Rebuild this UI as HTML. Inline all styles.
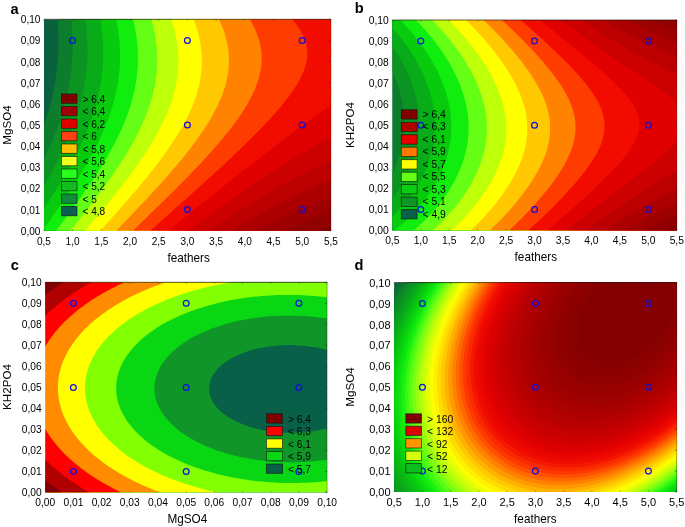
<!DOCTYPE html>
<html><head><meta charset="utf-8"><title>Contour plots</title>
<style>html,body{margin:0;padding:0;background:#fff;}body{width:685px;height:527px;overflow:hidden;font-family:"Liberation Sans",sans-serif;}svg{display:block;will-change:transform;}</style>
</head><body>
<svg width="685" height="527" viewBox="0 0 685 527">
<rect width="685" height="527" fill="#fff"/>
<clipPath id="cpa"><rect x="43.9" y="19.3" width="287.0" height="211.39999999999998"/></clipPath>
<g clip-path="url(#cpa)" shape-rendering="geometricPrecision">
<rect x="43.9" y="19.3" width="287.0" height="211.39999999999998" fill="#08623e"/>
<path d="M43.9 230.7L48.1 230.7L52.2 230.7L56.4 230.7L60.5 230.7L64.7 230.7L68.9 230.7L73 230.7L77.2 230.7L81.3 230.7L85.5 230.7L89.7 230.7L93.8 230.7L98 230.7L102.1 230.7L106.3 230.7L110.5 230.7L114.6 230.7L118.8 230.7L122.9 230.7L127.1 230.7L131.2 230.7L135.4 230.7L139.6 230.7L143.7 230.7L147.9 230.7L152 230.7L156.2 230.7L160.4 230.7L164.5 230.7L168.7 230.7L172.8 230.7L177 230.7L181.2 230.7L185.3 230.7L189.5 230.7L193.6 230.7L197.8 230.7L202 230.7L206.1 230.7L210.3 230.7L214.4 230.7L218.6 230.7L222.8 230.7L226.9 230.7L231.1 230.7L235.2 230.7L239.4 230.7L243.6 230.7L247.7 230.7L251.9 230.7L256 230.7L260.2 230.7L264.3 230.7L268.5 230.7L272.7 230.7L276.8 230.7L281 230.7L285.1 230.7L289.3 230.7L293.5 230.7L297.6 230.7L301.8 230.7L305.9 230.7L310.1 230.7L314.3 230.7L318.4 230.7L322.6 230.7L326.7 230.7L330.9 230.7L330.9 226.9L330.9 223L330.9 219.2L330.9 215.3L330.9 211.5L330.9 207.6L330.9 203.8L330.9 200L330.9 196.1L330.9 192.3L330.9 188.4L330.9 184.6L330.9 180.7L330.9 176.9L330.9 173L330.9 169.2L330.9 165.4L330.9 161.5L330.9 157.7L330.9 153.8L330.9 150L330.9 146.1L330.9 142.3L330.9 138.5L330.9 134.6L330.9 130.8L330.9 126.9L330.9 123.1L330.9 119.2L330.9 115.4L330.9 111.5L330.9 107.7L330.9 103.9L330.9 100L330.9 96.2L330.9 92.3L330.9 88.5L330.9 84.6L330.9 80.8L330.9 77L330.9 73.1L330.9 69.3L330.9 65.4L330.9 61.6L330.9 57.7L330.9 53.9L330.9 50L330.9 46.2L330.9 42.4L330.9 38.5L330.9 34.7L330.9 30.8L330.9 27L330.9 23.1L330.9 19.3L326.7 19.3L322.6 19.3L318.4 19.3L314.3 19.3L310.1 19.3L305.9 19.3L301.8 19.3L297.6 19.3L293.5 19.3L289.3 19.3L285.1 19.3L281 19.3L276.8 19.3L272.7 19.3L268.5 19.3L264.3 19.3L260.2 19.3L256 19.3L251.9 19.3L247.7 19.3L243.6 19.3L239.4 19.3L235.2 19.3L231.1 19.3L226.9 19.3L222.8 19.3L218.6 19.3L214.4 19.3L210.3 19.3L206.1 19.3L202 19.3L197.8 19.3L193.6 19.3L189.5 19.3L185.3 19.3L181.2 19.3L177 19.3L172.8 19.3L168.7 19.3L164.5 19.3L160.4 19.3L156.2 19.3L152 19.3L147.9 19.3L143.7 19.3L139.6 19.3L135.4 19.3L131.2 19.3L127.1 19.3L122.9 19.3L118.8 19.3L114.6 19.3L110.5 19.3L106.3 19.3L102.1 19.3L98 19.3L93.8 19.3L89.7 19.3L85.5 19.3L81.3 19.3L77.2 19.3L73 19.3L68.9 19.3L64.7 19.3L60.5 19.3L57.5 19.3L57.8 23.1L58.1 27L58.3 30.8L58.4 34.7L58.5 38.5L58.5 42.4L58.5 46.2L58.4 50L58.2 53.9L58 57.7L57.7 61.6L57.4 65.4L57 69.3L56.5 73.1L56.4 74L56 77L55.4 80.8L54.7 84.6L54 88.5L53.2 92.3L52.3 96.2L52.2 96.7L51.4 100L50.5 103.9L49.4 107.7L48.3 111.5L48.1 112.4L47.2 115.4L45.9 119.2L44.7 123.1L43.9 125.3L43.9 126.9L43.9 130.8L43.9 134.6L43.9 138.5L43.9 142.3L43.9 146.1L43.9 150L43.9 153.8L43.9 157.7L43.9 161.5L43.9 165.4L43.9 169.2L43.9 173L43.9 176.9L43.9 180.7L43.9 184.6L43.9 188.4L43.9 192.3L43.9 196.1L43.9 200L43.9 203.8L43.9 207.6L43.9 211.5L43.9 215.3L43.9 219.2L43.9 223L43.9 226.9L43.9 230.7Z" fill="#0c7d2d"/>
<path d="M43.9 230.7L48.1 230.7L52.2 230.7L56.4 230.7L60.5 230.7L64.7 230.7L68.9 230.7L73 230.7L77.2 230.7L81.3 230.7L85.5 230.7L89.7 230.7L93.8 230.7L98 230.7L102.1 230.7L106.3 230.7L110.5 230.7L114.6 230.7L118.8 230.7L122.9 230.7L127.1 230.7L131.2 230.7L135.4 230.7L139.6 230.7L143.7 230.7L147.9 230.7L152 230.7L156.2 230.7L160.4 230.7L164.5 230.7L168.7 230.7L172.8 230.7L177 230.7L181.2 230.7L185.3 230.7L189.5 230.7L193.6 230.7L197.8 230.7L202 230.7L206.1 230.7L210.3 230.7L214.4 230.7L218.6 230.7L222.8 230.7L226.9 230.7L231.1 230.7L235.2 230.7L239.4 230.7L243.6 230.7L247.7 230.7L251.9 230.7L256 230.7L260.2 230.7L264.3 230.7L268.5 230.7L272.7 230.7L276.8 230.7L281 230.7L285.1 230.7L289.3 230.7L293.5 230.7L297.6 230.7L301.8 230.7L305.9 230.7L310.1 230.7L314.3 230.7L318.4 230.7L322.6 230.7L326.7 230.7L330.9 230.7L330.9 226.9L330.9 223L330.9 219.2L330.9 215.3L330.9 211.5L330.9 207.6L330.9 203.8L330.9 200L330.9 196.1L330.9 192.3L330.9 188.4L330.9 184.6L330.9 180.7L330.9 176.9L330.9 173L330.9 169.2L330.9 165.4L330.9 161.5L330.9 157.7L330.9 153.8L330.9 150L330.9 146.1L330.9 142.3L330.9 138.5L330.9 134.6L330.9 130.8L330.9 126.9L330.9 123.1L330.9 119.2L330.9 115.4L330.9 111.5L330.9 107.7L330.9 103.9L330.9 100L330.9 96.2L330.9 92.3L330.9 88.5L330.9 84.6L330.9 80.8L330.9 77L330.9 73.1L330.9 69.3L330.9 65.4L330.9 61.6L330.9 57.7L330.9 53.9L330.9 50L330.9 46.2L330.9 42.4L330.9 38.5L330.9 34.7L330.9 30.8L330.9 27L330.9 23.1L330.9 19.3L326.7 19.3L322.6 19.3L318.4 19.3L314.3 19.3L310.1 19.3L305.9 19.3L301.8 19.3L297.6 19.3L293.5 19.3L289.3 19.3L285.1 19.3L281 19.3L276.8 19.3L272.7 19.3L268.5 19.3L264.3 19.3L260.2 19.3L256 19.3L251.9 19.3L247.7 19.3L243.6 19.3L239.4 19.3L235.2 19.3L231.1 19.3L226.9 19.3L222.8 19.3L218.6 19.3L214.4 19.3L210.3 19.3L206.1 19.3L202 19.3L197.8 19.3L193.6 19.3L189.5 19.3L185.3 19.3L181.2 19.3L177 19.3L172.8 19.3L168.7 19.3L164.5 19.3L160.4 19.3L156.2 19.3L152 19.3L147.9 19.3L143.7 19.3L139.6 19.3L135.4 19.3L131.2 19.3L127.1 19.3L122.9 19.3L118.8 19.3L114.6 19.3L110.5 19.3L106.3 19.3L102.1 19.3L98 19.3L93.8 19.3L89.7 19.3L85.5 19.3L81.3 19.3L77.2 19.3L73 19.3L71.1 19.3L71.5 23.1L71.9 27L72.1 30.8L72.4 34.7L72.5 38.5L72.6 42.4L72.6 46.2L72.6 50L72.5 53.9L72.4 57.7L72.1 61.6L71.8 65.4L71.5 69.3L71 73.1L70.5 77L69.9 80.8L69.3 84.6L68.9 87L68.6 88.5L67.8 92.3L67 96.2L66 100L65.1 103.9L64.7 105.2L64 107.7L62.9 111.5L61.7 115.4L60.5 119L60.5 119.2L59.2 123.1L57.8 126.9L56.4 130.7L56.4 130.8L54.9 134.6L53.3 138.5L52.2 141.1L51.7 142.3L50.1 146.1L48.4 150L48.1 150.6L46.6 153.8L44.8 157.7L43.9 159.5L43.9 161.5L43.9 165.4L43.9 169.2L43.9 173L43.9 176.9L43.9 180.7L43.9 184.6L43.9 188.4L43.9 192.3L43.9 196.1L43.9 200L43.9 203.8L43.9 207.6L43.9 211.5L43.9 215.3L43.9 219.2L43.9 223L43.9 226.9L43.9 230.7Z" fill="#0c9422"/>
<path d="M43.9 230.7L48.1 230.7L52.2 230.7L56.4 230.7L60.5 230.7L64.7 230.7L68.9 230.7L73 230.7L77.2 230.7L81.3 230.7L85.5 230.7L89.7 230.7L93.8 230.7L98 230.7L102.1 230.7L106.3 230.7L110.5 230.7L114.6 230.7L118.8 230.7L122.9 230.7L127.1 230.7L131.2 230.7L135.4 230.7L139.6 230.7L143.7 230.7L147.9 230.7L152 230.7L156.2 230.7L160.4 230.7L164.5 230.7L168.7 230.7L172.8 230.7L177 230.7L181.2 230.7L185.3 230.7L189.5 230.7L193.6 230.7L197.8 230.7L202 230.7L206.1 230.7L210.3 230.7L214.4 230.7L218.6 230.7L222.8 230.7L226.9 230.7L231.1 230.7L235.2 230.7L239.4 230.7L243.6 230.7L247.7 230.7L251.9 230.7L256 230.7L260.2 230.7L264.3 230.7L268.5 230.7L272.7 230.7L276.8 230.7L281 230.7L285.1 230.7L289.3 230.7L293.5 230.7L297.6 230.7L301.8 230.7L305.9 230.7L310.1 230.7L314.3 230.7L318.4 230.7L322.6 230.7L326.7 230.7L330.9 230.7L330.9 226.9L330.9 223L330.9 219.2L330.9 215.3L330.9 211.5L330.9 207.6L330.9 203.8L330.9 200L330.9 196.1L330.9 192.3L330.9 188.4L330.9 184.6L330.9 180.7L330.9 176.9L330.9 173L330.9 169.2L330.9 165.4L330.9 161.5L330.9 157.7L330.9 153.8L330.9 150L330.9 146.1L330.9 142.3L330.9 138.5L330.9 134.6L330.9 130.8L330.9 126.9L330.9 123.1L330.9 119.2L330.9 115.4L330.9 111.5L330.9 107.7L330.9 103.9L330.9 100L330.9 96.2L330.9 92.3L330.9 88.5L330.9 84.6L330.9 80.8L330.9 77L330.9 73.1L330.9 69.3L330.9 65.4L330.9 61.6L330.9 57.7L330.9 53.9L330.9 50L330.9 46.2L330.9 42.4L330.9 38.5L330.9 34.7L330.9 30.8L330.9 27L330.9 23.1L330.9 19.3L326.7 19.3L322.6 19.3L318.4 19.3L314.3 19.3L310.1 19.3L305.9 19.3L301.8 19.3L297.6 19.3L293.5 19.3L289.3 19.3L285.1 19.3L281 19.3L276.8 19.3L272.7 19.3L268.5 19.3L264.3 19.3L260.2 19.3L256 19.3L251.9 19.3L247.7 19.3L243.6 19.3L239.4 19.3L235.2 19.3L231.1 19.3L226.9 19.3L222.8 19.3L218.6 19.3L214.4 19.3L210.3 19.3L206.1 19.3L202 19.3L197.8 19.3L193.6 19.3L189.5 19.3L185.3 19.3L181.2 19.3L177 19.3L172.8 19.3L168.7 19.3L164.5 19.3L160.4 19.3L156.2 19.3L152 19.3L147.9 19.3L143.7 19.3L139.6 19.3L135.4 19.3L131.2 19.3L127.1 19.3L122.9 19.3L118.8 19.3L114.6 19.3L110.5 19.3L106.3 19.3L102.1 19.3L98 19.3L93.8 19.3L89.7 19.3L85.5 19.3L85.3 19.3L85.5 20.5L85.8 23.1L86.3 27L86.7 30.8L87 34.7L87.2 38.5L87.4 42.4L87.5 46.2L87.5 50L87.5 53.9L87.4 57.7L87.2 61.6L87 65.4L86.6 69.3L86.2 73.1L85.7 77L85.5 78.6L85.2 80.8L84.6 84.6L83.9 88.5L83.1 92.3L82.2 96.2L81.3 99.9L81.3 100L80.3 103.9L79.2 107.7L78.1 111.5L77.2 114.4L76.9 115.4L75.6 119.2L74.3 123.1L73 126.4L72.8 126.9L71.4 130.8L69.8 134.6L68.9 136.9L68.2 138.5L66.6 142.3L64.8 146.1L64.7 146.4L63.1 150L61.2 153.8L60.5 155.2L59.3 157.7L57.4 161.5L56.4 163.5L55.4 165.4L53.4 169.2L52.2 171.3L51.3 173L49.2 176.9L48.1 178.8L47 180.7L44.8 184.6L43.9 186.1L43.9 188.4L43.9 192.3L43.9 196.1L43.9 200L43.9 203.8L43.9 207.6L43.9 211.5L43.9 215.3L43.9 219.2L43.9 223L43.9 226.9L43.9 230.7Z" fill="#08ac18"/>
<path d="M43.9 230.7L48.1 230.7L52.2 230.7L56.4 230.7L60.5 230.7L64.7 230.7L68.9 230.7L73 230.7L77.2 230.7L81.3 230.7L85.5 230.7L89.7 230.7L93.8 230.7L98 230.7L102.1 230.7L106.3 230.7L110.5 230.7L114.6 230.7L118.8 230.7L122.9 230.7L127.1 230.7L131.2 230.7L135.4 230.7L139.6 230.7L143.7 230.7L147.9 230.7L152 230.7L156.2 230.7L160.4 230.7L164.5 230.7L168.7 230.7L172.8 230.7L177 230.7L181.2 230.7L185.3 230.7L189.5 230.7L193.6 230.7L197.8 230.7L202 230.7L206.1 230.7L210.3 230.7L214.4 230.7L218.6 230.7L222.8 230.7L226.9 230.7L231.1 230.7L235.2 230.7L239.4 230.7L243.6 230.7L247.7 230.7L251.9 230.7L256 230.7L260.2 230.7L264.3 230.7L268.5 230.7L272.7 230.7L276.8 230.7L281 230.7L285.1 230.7L289.3 230.7L293.5 230.7L297.6 230.7L301.8 230.7L305.9 230.7L310.1 230.7L314.3 230.7L318.4 230.7L322.6 230.7L326.7 230.7L330.9 230.7L330.9 226.9L330.9 223L330.9 219.2L330.9 215.3L330.9 211.5L330.9 207.6L330.9 203.8L330.9 200L330.9 196.1L330.9 192.3L330.9 188.4L330.9 184.6L330.9 180.7L330.9 176.9L330.9 173L330.9 169.2L330.9 165.4L330.9 161.5L330.9 157.7L330.9 153.8L330.9 150L330.9 146.1L330.9 142.3L330.9 138.5L330.9 134.6L330.9 130.8L330.9 126.9L330.9 123.1L330.9 119.2L330.9 115.4L330.9 111.5L330.9 107.7L330.9 103.9L330.9 100L330.9 96.2L330.9 92.3L330.9 88.5L330.9 84.6L330.9 80.8L330.9 77L330.9 73.1L330.9 69.3L330.9 65.4L330.9 61.6L330.9 57.7L330.9 53.9L330.9 50L330.9 46.2L330.9 42.4L330.9 38.5L330.9 34.7L330.9 30.8L330.9 27L330.9 23.1L330.9 19.3L326.7 19.3L322.6 19.3L318.4 19.3L314.3 19.3L310.1 19.3L305.9 19.3L301.8 19.3L297.6 19.3L293.5 19.3L289.3 19.3L285.1 19.3L281 19.3L276.8 19.3L272.7 19.3L268.5 19.3L264.3 19.3L260.2 19.3L256 19.3L251.9 19.3L247.7 19.3L243.6 19.3L239.4 19.3L235.2 19.3L231.1 19.3L226.9 19.3L222.8 19.3L218.6 19.3L214.4 19.3L210.3 19.3L206.1 19.3L202 19.3L197.8 19.3L193.6 19.3L189.5 19.3L185.3 19.3L181.2 19.3L177 19.3L172.8 19.3L168.7 19.3L164.5 19.3L160.4 19.3L156.2 19.3L152 19.3L147.9 19.3L143.7 19.3L139.6 19.3L135.4 19.3L131.2 19.3L127.1 19.3L122.9 19.3L118.8 19.3L114.6 19.3L110.5 19.3L106.3 19.3L102.1 19.3L100.3 19.3L100.9 23.1L101.5 27L102 30.8L102.1 32.4L102.4 34.7L102.7 38.5L103 42.4L103.1 46.2L103.3 50L103.3 53.9L103.2 57.7L103.1 61.6L102.9 65.4L102.6 69.3L102.2 73.1L102.1 73.8L101.8 77L101.2 80.8L100.6 84.6L99.9 88.5L99.1 92.3L98.2 96.2L98 97.3L97.3 100L96.3 103.9L95.2 107.7L94 111.5L93.8 112.2L92.8 115.4L91.4 119.2L90 123.1L89.7 124.1L88.6 126.9L87 130.8L85.5 134.4L85.4 134.6L83.7 138.5L82 142.3L81.3 143.7L80.2 146.1L78.3 150L77.2 152.3L76.4 153.8L74.4 157.7L73 160.4L72.4 161.5L70.3 165.4L68.9 168L68.2 169.2L66 173L64.7 175.3L63.8 176.9L61.5 180.7L60.5 182.3L59.2 184.6L56.8 188.4L56.4 189.2L54.5 192.3L52.2 195.8L52 196.1L49.6 200L48.1 202.3L47.1 203.8L44.6 207.6L43.9 208.6L43.9 211.5L43.9 215.3L43.9 219.2L43.9 223L43.9 226.9L43.9 230.7Z" fill="#08cb0e"/>
<path d="M43.9 230.7L48.1 230.7L52.2 230.7L56.4 230.7L60.5 230.7L64.7 230.7L68.9 230.7L73 230.7L77.2 230.7L81.3 230.7L85.5 230.7L89.7 230.7L93.8 230.7L98 230.7L102.1 230.7L106.3 230.7L110.5 230.7L114.6 230.7L118.8 230.7L122.9 230.7L127.1 230.7L131.2 230.7L135.4 230.7L139.6 230.7L143.7 230.7L147.9 230.7L152 230.7L156.2 230.7L160.4 230.7L164.5 230.7L168.7 230.7L172.8 230.7L177 230.7L181.2 230.7L185.3 230.7L189.5 230.7L193.6 230.7L197.8 230.7L202 230.7L206.1 230.7L210.3 230.7L214.4 230.7L218.6 230.7L222.8 230.7L226.9 230.7L231.1 230.7L235.2 230.7L239.4 230.7L243.6 230.7L247.7 230.7L251.9 230.7L256 230.7L260.2 230.7L264.3 230.7L268.5 230.7L272.7 230.7L276.8 230.7L281 230.7L285.1 230.7L289.3 230.7L293.5 230.7L297.6 230.7L301.8 230.7L305.9 230.7L310.1 230.7L314.3 230.7L318.4 230.7L322.6 230.7L326.7 230.7L330.9 230.7L330.9 226.9L330.9 223L330.9 219.2L330.9 215.3L330.9 211.5L330.9 207.6L330.9 203.8L330.9 200L330.9 196.1L330.9 192.3L330.9 188.4L330.9 184.6L330.9 180.7L330.9 176.9L330.9 173L330.9 169.2L330.9 165.4L330.9 161.5L330.9 157.7L330.9 153.8L330.9 150L330.9 146.1L330.9 142.3L330.9 138.5L330.9 134.6L330.9 130.8L330.9 126.9L330.9 123.1L330.9 119.2L330.9 115.4L330.9 111.5L330.9 107.7L330.9 103.9L330.9 100L330.9 96.2L330.9 92.3L330.9 88.5L330.9 84.6L330.9 80.8L330.9 77L330.9 73.1L330.9 69.3L330.9 65.4L330.9 61.6L330.9 57.7L330.9 53.9L330.9 50L330.9 46.2L330.9 42.4L330.9 38.5L330.9 34.7L330.9 30.8L330.9 27L330.9 23.1L330.9 19.3L326.7 19.3L322.6 19.3L318.4 19.3L314.3 19.3L310.1 19.3L305.9 19.3L301.8 19.3L297.6 19.3L293.5 19.3L289.3 19.3L285.1 19.3L281 19.3L276.8 19.3L272.7 19.3L268.5 19.3L264.3 19.3L260.2 19.3L256 19.3L251.9 19.3L247.7 19.3L243.6 19.3L239.4 19.3L235.2 19.3L231.1 19.3L226.9 19.3L222.8 19.3L218.6 19.3L214.4 19.3L210.3 19.3L206.1 19.3L202 19.3L197.8 19.3L193.6 19.3L189.5 19.3L185.3 19.3L181.2 19.3L177 19.3L172.8 19.3L168.7 19.3L164.5 19.3L160.4 19.3L156.2 19.3L152 19.3L147.9 19.3L143.7 19.3L139.6 19.3L135.4 19.3L131.2 19.3L127.1 19.3L122.9 19.3L118.8 19.3L116.2 19.3L116.9 23.1L117.6 27L118.2 30.8L118.7 34.7L118.8 35.4L119.1 38.5L119.5 42.4L119.7 46.2L119.9 50L120 53.9L120 57.7L119.9 61.6L119.8 65.4L119.5 69.3L119.1 73.1L118.8 76.3L118.7 77L118.2 80.8L117.6 84.6L116.8 88.5L116 92.3L115.2 96.2L114.6 98.3L114.2 100L113.1 103.9L112 107.7L110.8 111.5L110.5 112.5L109.5 115.4L108.1 119.2L106.6 123.1L106.3 123.9L105.1 126.9L103.5 130.8L102.1 133.8L101.8 134.6L100 138.5L98.2 142.3L98 142.7L96.3 146.1L94.3 150L93.8 150.9L92.3 153.8L90.2 157.7L89.7 158.6L88.1 161.5L85.9 165.4L85.5 166L83.6 169.2L81.3 173L79 176.9L77.2 179.7L76.6 180.7L74.1 184.6L73 186.3L71.6 188.4L69.1 192.3L68.9 192.7L66.6 196.1L64.7 198.9L64 200L61.4 203.8L60.5 205L58.7 207.6L56.4 211L56 211.5L53.3 215.3L52.2 216.9L50.6 219.2L48.1 222.8L47.9 223L45.1 226.9L43.9 228.5L43.9 230.7Z" fill="#10ee0e"/>
<path d="M56.1 230.7L56.4 230.7L60.5 230.7L64.7 230.7L68.9 230.7L73 230.7L77.2 230.7L81.3 230.7L85.5 230.7L89.7 230.7L93.8 230.7L98 230.7L102.1 230.7L106.3 230.7L110.5 230.7L114.6 230.7L118.8 230.7L122.9 230.7L127.1 230.7L131.2 230.7L135.4 230.7L139.6 230.7L143.7 230.7L147.9 230.7L152 230.7L156.2 230.7L160.4 230.7L164.5 230.7L168.7 230.7L172.8 230.7L177 230.7L181.2 230.7L185.3 230.7L189.5 230.7L193.6 230.7L197.8 230.7L202 230.7L206.1 230.7L210.3 230.7L214.4 230.7L218.6 230.7L222.8 230.7L226.9 230.7L231.1 230.7L235.2 230.7L239.4 230.7L243.6 230.7L247.7 230.7L251.9 230.7L256 230.7L260.2 230.7L264.3 230.7L268.5 230.7L272.7 230.7L276.8 230.7L281 230.7L285.1 230.7L289.3 230.7L293.5 230.7L297.6 230.7L301.8 230.7L305.9 230.7L310.1 230.7L314.3 230.7L318.4 230.7L322.6 230.7L326.7 230.7L330.9 230.7L330.9 226.9L330.9 223L330.9 219.2L330.9 215.3L330.9 211.5L330.9 207.6L330.9 203.8L330.9 200L330.9 196.1L330.9 192.3L330.9 188.4L330.9 184.6L330.9 180.7L330.9 176.9L330.9 173L330.9 169.2L330.9 165.4L330.9 161.5L330.9 157.7L330.9 153.8L330.9 150L330.9 146.1L330.9 142.3L330.9 138.5L330.9 134.6L330.9 130.8L330.9 126.9L330.9 123.1L330.9 119.2L330.9 115.4L330.9 111.5L330.9 107.7L330.9 103.9L330.9 100L330.9 96.2L330.9 92.3L330.9 88.5L330.9 84.6L330.9 80.8L330.9 77L330.9 73.1L330.9 69.3L330.9 65.4L330.9 61.6L330.9 57.7L330.9 53.9L330.9 50L330.9 46.2L330.9 42.4L330.9 38.5L330.9 34.7L330.9 30.8L330.9 27L330.9 23.1L330.9 19.3L326.7 19.3L322.6 19.3L318.4 19.3L314.3 19.3L310.1 19.3L305.9 19.3L301.8 19.3L297.6 19.3L293.5 19.3L289.3 19.3L285.1 19.3L281 19.3L276.8 19.3L272.7 19.3L268.5 19.3L264.3 19.3L260.2 19.3L256 19.3L251.9 19.3L247.7 19.3L243.6 19.3L239.4 19.3L235.2 19.3L231.1 19.3L226.9 19.3L222.8 19.3L218.6 19.3L214.4 19.3L210.3 19.3L206.1 19.3L202 19.3L197.8 19.3L193.6 19.3L189.5 19.3L185.3 19.3L181.2 19.3L177 19.3L172.8 19.3L168.7 19.3L164.5 19.3L160.4 19.3L156.2 19.3L152 19.3L147.9 19.3L143.7 19.3L139.6 19.3L135.4 19.3L133.2 19.3L134 23.1L134.8 27L135.4 30.3L135.5 30.8L136.1 34.7L136.7 38.5L137.1 42.4L137.5 46.2L137.7 50L137.9 53.9L137.9 57.7L137.9 61.6L137.8 65.4L137.5 69.3L137.2 73.1L136.8 77L136.2 80.8L135.6 84.6L135.4 85.6L134.9 88.5L134 92.3L133.1 96.2L132.1 100L131.2 103L131 103.9L129.8 107.7L128.5 111.5L127.1 115.4L127.1 115.5L125.7 119.2L124.1 123.1L122.9 125.8L122.5 126.9L120.8 130.8L119 134.6L118.8 135L117.1 138.5L115.2 142.3L114.6 143.3L113.1 146.1L111.1 150L110.5 151.1L108.9 153.8L106.7 157.7L106.3 158.3L104.4 161.5L102.1 165.3L102.1 165.4L99.7 169.2L98 171.9L97.3 173L94.8 176.9L93.8 178.3L92.2 180.7L89.7 184.6L87 188.4L85.5 190.6L84.4 192.3L81.7 196.1L81.3 196.6L78.9 200L77.2 202.4L76.2 203.8L73.4 207.6L73 208.1L70.6 211.5L68.9 213.8L67.7 215.3L64.8 219.2L64.7 219.3L61.9 223L60.5 224.9L59 226.9L56.4 230.3L56.1 230.7Z" fill="#64ff14"/>
<path d="M70.3 230.7L73 230.7L77.2 230.7L81.3 230.7L85.5 230.7L89.7 230.7L93.8 230.7L98 230.7L102.1 230.7L106.3 230.7L110.5 230.7L114.6 230.7L118.8 230.7L122.9 230.7L127.1 230.7L131.2 230.7L135.4 230.7L139.6 230.7L143.7 230.7L147.9 230.7L152 230.7L156.2 230.7L160.4 230.7L164.5 230.7L168.7 230.7L172.8 230.7L177 230.7L181.2 230.7L185.3 230.7L189.5 230.7L193.6 230.7L197.8 230.7L202 230.7L206.1 230.7L210.3 230.7L214.4 230.7L218.6 230.7L222.8 230.7L226.9 230.7L231.1 230.7L235.2 230.7L239.4 230.7L243.6 230.7L247.7 230.7L251.9 230.7L256 230.7L260.2 230.7L264.3 230.7L268.5 230.7L272.7 230.7L276.8 230.7L281 230.7L285.1 230.7L289.3 230.7L293.5 230.7L297.6 230.7L301.8 230.7L305.9 230.7L310.1 230.7L314.3 230.7L318.4 230.7L322.6 230.7L326.7 230.7L330.9 230.7L330.9 226.9L330.9 223L330.9 219.2L330.9 215.3L330.9 211.5L330.9 207.6L330.9 203.8L330.9 200L330.9 196.1L330.9 192.3L330.9 188.4L330.9 184.6L330.9 180.7L330.9 176.9L330.9 173L330.9 169.2L330.9 165.4L330.9 161.5L330.9 157.7L330.9 153.8L330.9 150L330.9 146.1L330.9 142.3L330.9 138.5L330.9 134.6L330.9 130.8L330.9 126.9L330.9 123.1L330.9 119.2L330.9 115.4L330.9 111.5L330.9 107.7L330.9 103.9L330.9 100L330.9 96.2L330.9 92.3L330.9 88.5L330.9 84.6L330.9 80.8L330.9 77L330.9 73.1L330.9 69.3L330.9 65.4L330.9 61.6L330.9 57.7L330.9 53.9L330.9 50L330.9 46.2L330.9 42.4L330.9 38.5L330.9 34.7L330.9 30.8L330.9 27L330.9 23.1L330.9 19.3L326.7 19.3L322.6 19.3L318.4 19.3L314.3 19.3L310.1 19.3L305.9 19.3L301.8 19.3L297.6 19.3L293.5 19.3L289.3 19.3L285.1 19.3L281 19.3L276.8 19.3L272.7 19.3L268.5 19.3L264.3 19.3L260.2 19.3L256 19.3L251.9 19.3L247.7 19.3L243.6 19.3L239.4 19.3L235.2 19.3L231.1 19.3L226.9 19.3L222.8 19.3L218.6 19.3L214.4 19.3L210.3 19.3L206.1 19.3L202 19.3L197.8 19.3L193.6 19.3L189.5 19.3L185.3 19.3L181.2 19.3L177 19.3L172.8 19.3L168.7 19.3L164.5 19.3L160.4 19.3L156.2 19.3L152 19.3L151.4 19.3L152 21.7L152.4 23.1L153.4 27L154.2 30.8L155 34.7L155.6 38.5L156.1 42.4L156.2 43L156.6 46.2L156.9 50L157.1 53.9L157.2 57.7L157.2 61.6L157.1 65.4L156.9 69.3L156.6 73.1L156.2 76.5L156.2 77L155.6 80.8L155 84.6L154.2 88.5L153.3 92.3L152.3 96.2L152 97.2L151.3 100L150.1 103.9L148.8 107.7L147.9 110.2L147.4 111.5L145.9 115.4L144.4 119.2L143.7 120.7L142.7 123.1L140.9 126.9L139.6 129.8L139.1 130.8L137.2 134.6L135.4 138L135.2 138.5L133.1 142.3L131.2 145.6L130.9 146.1L128.7 150L127.1 152.7L126.4 153.8L124 157.7L122.9 159.4L121.6 161.5L119.1 165.4L118.8 165.9L116.6 169.2L114.6 172.1L114 173L111.3 176.9L110.5 178.1L108.6 180.7L106.3 184L105.9 184.6L103.1 188.4L102.1 189.7L100.3 192.3L98 195.3L97.4 196.1L94.5 200L93.8 200.8L91.6 203.8L89.7 206.2L88.6 207.6L85.6 211.5L85.5 211.6L82.6 215.3L81.3 216.9L79.5 219.2L77.2 222.1L76.5 223L73.4 226.9L73 227.3L70.3 230.7Z" fill="#beff0a"/>
<path d="M85 230.7L85.5 230.7L89.7 230.7L93.8 230.7L98 230.7L102.1 230.7L106.3 230.7L110.5 230.7L114.6 230.7L118.8 230.7L122.9 230.7L127.1 230.7L131.2 230.7L135.4 230.7L139.6 230.7L143.7 230.7L147.9 230.7L152 230.7L156.2 230.7L160.4 230.7L164.5 230.7L168.7 230.7L172.8 230.7L177 230.7L181.2 230.7L185.3 230.7L189.5 230.7L193.6 230.7L197.8 230.7L202 230.7L206.1 230.7L210.3 230.7L214.4 230.7L218.6 230.7L222.8 230.7L226.9 230.7L231.1 230.7L235.2 230.7L239.4 230.7L243.6 230.7L247.7 230.7L251.9 230.7L256 230.7L260.2 230.7L264.3 230.7L268.5 230.7L272.7 230.7L276.8 230.7L281 230.7L285.1 230.7L289.3 230.7L293.5 230.7L297.6 230.7L301.8 230.7L305.9 230.7L310.1 230.7L314.3 230.7L318.4 230.7L322.6 230.7L326.7 230.7L330.9 230.7L330.9 226.9L330.9 223L330.9 219.2L330.9 215.3L330.9 211.5L330.9 207.6L330.9 203.8L330.9 200L330.9 196.1L330.9 192.3L330.9 188.4L330.9 184.6L330.9 180.7L330.9 176.9L330.9 173L330.9 169.2L330.9 165.4L330.9 161.5L330.9 157.7L330.9 153.8L330.9 150L330.9 146.1L330.9 142.3L330.9 138.5L330.9 134.6L330.9 130.8L330.9 126.9L330.9 123.1L330.9 119.2L330.9 115.4L330.9 111.5L330.9 107.7L330.9 103.9L330.9 100L330.9 96.2L330.9 92.3L330.9 88.5L330.9 84.6L330.9 80.8L330.9 77L330.9 73.1L330.9 69.3L330.9 65.4L330.9 61.6L330.9 57.7L330.9 53.9L330.9 50L330.9 46.2L330.9 42.4L330.9 38.5L330.9 34.7L330.9 30.8L330.9 27L330.9 23.1L330.9 19.3L326.7 19.3L322.6 19.3L318.4 19.3L314.3 19.3L310.1 19.3L305.9 19.3L301.8 19.3L297.6 19.3L293.5 19.3L289.3 19.3L285.1 19.3L281 19.3L276.8 19.3L272.7 19.3L268.5 19.3L264.3 19.3L260.2 19.3L256 19.3L251.9 19.3L247.7 19.3L243.6 19.3L239.4 19.3L235.2 19.3L231.1 19.3L226.9 19.3L222.8 19.3L218.6 19.3L214.4 19.3L210.3 19.3L206.1 19.3L202 19.3L197.8 19.3L193.6 19.3L189.5 19.3L185.3 19.3L181.2 19.3L177 19.3L172.8 19.3L171.4 19.3L172.6 23.1L172.8 24.1L173.7 27L174.7 30.8L175.5 34.7L176.3 38.5L177 42.4L177 42.7L177.5 46.2L177.9 50L178.2 53.9L178.4 57.7L178.4 61.6L178.3 65.4L178.1 69.3L177.8 73.1L177.3 77L177 78.8L176.7 80.8L176 84.6L175.2 88.5L174.2 92.3L173.2 96.2L172.8 97.2L172 100L170.7 103.9L169.3 107.7L168.7 109.2L167.8 111.5L166.2 115.4L164.5 119L164.4 119.2L162.6 123.1L160.7 126.9L160.4 127.6L158.7 130.8L156.6 134.6L156.2 135.3L154.4 138.5L152.2 142.3L152 142.5L149.8 146.1L147.9 149.3L147.4 150L145 153.8L143.7 155.7L142.4 157.7L139.8 161.5L139.6 161.8L137.1 165.4L135.4 167.7L134.4 169.2L131.6 173L131.2 173.5L128.7 176.9L127.1 179L125.8 180.7L122.9 184.5L122.9 184.6L119.9 188.4L118.8 189.8L116.9 192.3L114.6 195.1L113.8 196.1L110.7 200L110.5 200.3L107.6 203.8L106.3 205.4L104.4 207.6L102.1 210.4L101.2 211.5L98 215.3L98 215.4L94.8 219.2L93.8 220.3L91.6 223L89.7 225.3L88.3 226.9L85.5 230.1L85 230.7Z" fill="#ffff00"/>
<path d="M100.3 230.7L102.1 230.7L106.3 230.7L110.5 230.7L114.6 230.7L118.8 230.7L122.9 230.7L127.1 230.7L131.2 230.7L135.4 230.7L139.6 230.7L143.7 230.7L147.9 230.7L152 230.7L156.2 230.7L160.4 230.7L164.5 230.7L168.7 230.7L172.8 230.7L177 230.7L181.2 230.7L185.3 230.7L189.5 230.7L193.6 230.7L197.8 230.7L202 230.7L206.1 230.7L210.3 230.7L214.4 230.7L218.6 230.7L222.8 230.7L226.9 230.7L231.1 230.7L235.2 230.7L239.4 230.7L243.6 230.7L247.7 230.7L251.9 230.7L256 230.7L260.2 230.7L264.3 230.7L268.5 230.7L272.7 230.7L276.8 230.7L281 230.7L285.1 230.7L289.3 230.7L293.5 230.7L297.6 230.7L301.8 230.7L305.9 230.7L310.1 230.7L314.3 230.7L318.4 230.7L322.6 230.7L326.7 230.7L330.9 230.7L330.9 226.9L330.9 223L330.9 219.2L330.9 215.3L330.9 211.5L330.9 207.6L330.9 203.8L330.9 200L330.9 196.1L330.9 192.3L330.9 188.4L330.9 184.6L330.9 180.7L330.9 176.9L330.9 173L330.9 169.2L330.9 165.4L330.9 161.5L330.9 157.7L330.9 153.8L330.9 150L330.9 146.1L330.9 142.3L330.9 138.5L330.9 134.6L330.9 130.8L330.9 126.9L330.9 123.1L330.9 119.2L330.9 115.4L330.9 111.5L330.9 107.7L330.9 103.9L330.9 100L330.9 96.2L330.9 92.3L330.9 88.5L330.9 84.6L330.9 80.8L330.9 77L330.9 73.1L330.9 69.3L330.9 65.4L330.9 61.6L330.9 57.7L330.9 53.9L330.9 50L330.9 46.2L330.9 42.4L330.9 38.5L330.9 34.7L330.9 30.8L330.9 27L330.9 23.1L330.9 19.3L326.7 19.3L322.6 19.3L318.4 19.3L314.3 19.3L310.1 19.3L305.9 19.3L301.8 19.3L297.6 19.3L293.5 19.3L289.3 19.3L285.1 19.3L281 19.3L276.8 19.3L272.7 19.3L268.5 19.3L264.3 19.3L260.2 19.3L256 19.3L251.9 19.3L247.7 19.3L243.6 19.3L239.4 19.3L235.2 19.3L231.1 19.3L226.9 19.3L222.8 19.3L218.6 19.3L214.4 19.3L210.3 19.3L206.1 19.3L202 19.3L197.8 19.3L193.6 19.3L193.6 19.5L195 23.1L196.3 27L197.5 30.8L197.8 32.1L198.5 34.7L199.4 38.5L200.2 42.4L200.8 46.2L201.3 50L201.7 53.9L201.9 57.7L201.9 61.6L201.8 65.4L201.6 69.3L201.2 73.1L200.7 77L200 80.8L199.2 84.6L198.3 88.5L197.8 90.3L197.2 92.3L196 96.2L194.7 100L193.6 102.8L193.2 103.9L191.7 107.7L190 111.5L189.5 112.6L188.2 115.4L186.2 119.2L185.3 121L184.2 123.1L182.1 126.9L181.2 128.5L179.9 130.8L177.6 134.6L177 135.5L175.2 138.5L172.8 142L172.7 142.3L170.1 146.1L168.7 148.2L167.5 150L164.7 153.8L164.5 154.1L161.9 157.7L160.4 159.8L159.1 161.5L156.2 165.3L156.2 165.4L153.2 169.2L152 170.7L150.2 173L147.9 175.9L147.1 176.9L144 180.7L143.7 181L140.8 184.6L139.6 186L137.6 188.4L135.4 191L134.3 192.3L131.2 195.8L131 196.1L127.7 200L127.1 200.7L124.4 203.8L122.9 205.4L121 207.6L118.8 210.1L117.6 211.5L114.6 214.8L114.2 215.3L110.7 219.2L110.5 219.5L107.3 223L106.3 224.1L103.8 226.9L102.1 228.7L100.3 230.7Z" fill="#ffc800"/>
<path d="M116.2 230.7L118.8 230.7L122.9 230.7L127.1 230.7L131.2 230.7L135.4 230.7L139.6 230.7L143.7 230.7L147.9 230.7L152 230.7L156.2 230.7L160.4 230.7L164.5 230.7L168.7 230.7L172.8 230.7L177 230.7L181.2 230.7L185.3 230.7L189.5 230.7L193.6 230.7L197.8 230.7L202 230.7L206.1 230.7L210.3 230.7L214.4 230.7L218.6 230.7L222.8 230.7L226.9 230.7L231.1 230.7L235.2 230.7L239.4 230.7L243.6 230.7L247.7 230.7L251.9 230.7L256 230.7L260.2 230.7L264.3 230.7L268.5 230.7L272.7 230.7L276.8 230.7L281 230.7L285.1 230.7L289.3 230.7L293.5 230.7L297.6 230.7L301.8 230.7L305.9 230.7L310.1 230.7L314.3 230.7L318.4 230.7L322.6 230.7L326.7 230.7L330.9 230.7L330.9 226.9L330.9 223L330.9 219.2L330.9 215.3L330.9 211.5L330.9 207.6L330.9 203.8L330.9 200L330.9 196.1L330.9 192.3L330.9 188.4L330.9 184.6L330.9 180.7L330.9 176.9L330.9 173L330.9 169.2L330.9 165.4L330.9 161.5L330.9 157.7L330.9 153.8L330.9 150L330.9 146.1L330.9 142.3L330.9 138.5L330.9 134.6L330.9 130.8L330.9 126.9L330.9 123.1L330.9 119.2L330.9 115.4L330.9 111.5L330.9 107.7L330.9 103.9L330.9 100L330.9 96.2L330.9 92.3L330.9 88.5L330.9 84.6L330.9 80.8L330.9 77L330.9 73.1L330.9 69.3L330.9 65.4L330.9 61.6L330.9 57.7L330.9 53.9L330.9 50L330.9 46.2L330.9 42.4L330.9 38.5L330.9 34.7L330.9 30.8L330.9 27L330.9 23.1L330.9 19.3L326.7 19.3L322.6 19.3L318.4 19.3L314.3 19.3L310.1 19.3L305.9 19.3L301.8 19.3L297.6 19.3L293.5 19.3L289.3 19.3L285.1 19.3L281 19.3L276.8 19.3L272.7 19.3L268.5 19.3L264.3 19.3L260.2 19.3L256 19.3L251.9 19.3L247.7 19.3L243.6 19.3L239.4 19.3L235.2 19.3L231.1 19.3L226.9 19.3L222.8 19.3L219 19.3L220.8 23.1L222.3 27L222.8 28.2L223.7 30.8L225 34.7L226 38.5L226.9 42.2L226.9 42.4L227.7 46.2L228.3 50L228.7 53.9L228.9 57.7L228.9 61.6L228.8 65.4L228.5 69.3L228 73.1L227.4 77L226.9 79L226.5 80.8L225.6 84.6L224.4 88.5L223.1 92.3L222.8 93.4L221.7 96.2L220.1 100L218.6 103.5L218.4 103.9L216.6 107.7L214.6 111.5L214.4 111.8L212.5 115.4L210.3 119.2L210.3 119.3L208 123.1L206.1 126L205.6 126.9L203 130.8L202 132.3L200.4 134.6L197.8 138.3L197.7 138.5L194.9 142.3L193.6 144L192 146.1L189.5 149.5L189.1 150L186.1 153.8L185.3 154.7L183 157.7L181.2 159.9L179.8 161.5L177 164.9L176.6 165.4L173.3 169.2L172.8 169.8L170 173L168.7 174.5L166.6 176.9L164.5 179.3L163.2 180.7L160.4 183.9L159.8 184.6L156.3 188.4L156.2 188.5L152.7 192.3L152 193L149.2 196.1L147.9 197.5L145.6 200L143.7 201.9L142 203.8L139.6 206.3L138.4 207.6L135.4 210.7L134.7 211.5L131.2 215.1L131 215.3L127.3 219.2L127.1 219.4L123.6 223L122.9 223.7L119.9 226.9L118.8 228L116.2 230.7Z" fill="#ff8200"/>
<path d="M132.8 230.7L135.4 230.7L139.6 230.7L143.7 230.7L147.9 230.7L152 230.7L156.2 230.7L160.4 230.7L164.5 230.7L168.7 230.7L172.8 230.7L177 230.7L181.2 230.7L185.3 230.7L189.5 230.7L193.6 230.7L197.8 230.7L202 230.7L206.1 230.7L210.3 230.7L214.4 230.7L218.6 230.7L222.8 230.7L226.9 230.7L231.1 230.7L235.2 230.7L239.4 230.7L243.6 230.7L247.7 230.7L251.9 230.7L256 230.7L260.2 230.7L264.3 230.7L268.5 230.7L272.7 230.7L276.8 230.7L281 230.7L285.1 230.7L289.3 230.7L293.5 230.7L297.6 230.7L301.8 230.7L305.9 230.7L310.1 230.7L314.3 230.7L318.4 230.7L322.6 230.7L326.7 230.7L330.9 230.7L330.9 226.9L330.9 223L330.9 219.2L330.9 215.3L330.9 211.5L330.9 207.6L330.9 203.8L330.9 200L330.9 196.1L330.9 192.3L330.9 188.4L330.9 184.6L330.9 180.7L330.9 176.9L330.9 173L330.9 169.2L330.9 165.4L330.9 161.5L330.9 157.7L330.9 153.8L330.9 150L330.9 146.1L330.9 142.3L330.9 138.5L330.9 134.6L330.9 130.8L330.9 126.9L330.9 123.1L330.9 119.2L330.9 115.4L330.9 111.5L330.9 107.7L330.9 103.9L330.9 100L330.9 96.2L330.9 92.3L330.9 88.5L330.9 84.6L330.9 80.8L330.9 77L330.9 73.1L330.9 69.3L330.9 65.4L330.9 61.6L330.9 57.7L330.9 53.9L330.9 50L330.9 46.2L330.9 42.4L330.9 38.5L330.9 34.7L330.9 30.8L330.9 27L330.9 23.1L330.9 19.3L326.7 19.3L322.6 19.3L318.4 19.3L314.3 19.3L310.1 19.3L305.9 19.3L301.8 19.3L297.6 19.3L293.5 19.3L289.3 19.3L285.1 19.3L281 19.3L276.8 19.3L272.7 19.3L268.5 19.3L264.3 19.3L260.2 19.3L256 19.3L251.9 19.3L249.9 19.3L251.9 22.9L252 23.1L253.9 27L255.7 30.8L256 31.7L257.2 34.7L258.5 38.5L259.6 42.4L260.2 45L260.5 46.2L261.1 50L261.5 53.9L261.7 57.7L261.6 61.6L261.3 65.4L260.8 69.3L260.2 72.4L260 73.1L259.1 77L258 80.8L256.7 84.6L256 86.2L255.2 88.5L253.5 92.3L251.9 95.6L251.6 96.2L249.6 100L247.7 103.4L247.5 103.9L245.2 107.7L243.6 110.2L242.7 111.5L240.2 115.4L239.4 116.5L237.5 119.2L235.2 122.4L234.8 123.1L231.9 126.9L231.1 127.9L228.9 130.8L226.9 133.2L225.8 134.6L222.8 138.4L222.7 138.5L219.5 142.3L218.6 143.3L216.2 146.1L214.4 148.1L212.8 150L210.3 152.8L209.3 153.8L206.1 157.4L205.8 157.7L202.3 161.5L202 161.9L198.7 165.4L197.8 166.3L195 169.2L193.6 170.6L191.3 173L189.5 174.9L187.6 176.9L185.3 179.2L183.8 180.7L181.2 183.4L180 184.6L177 187.6L176.2 188.4L172.8 191.7L172.3 192.3L168.7 195.9L168.4 196.1L164.5 200L160.6 203.8L160.4 204L156.7 207.6L156.2 208.1L152.7 211.5L152 212.1L148.8 215.3L147.9 216.2L144.8 219.2L143.7 220.2L140.8 223L139.6 224.2L136.8 226.9L135.4 228.2L132.8 230.7Z" fill="#ff3c00"/>
<path d="M150.3 230.7L152 230.7L156.2 230.7L160.4 230.7L164.5 230.7L168.7 230.7L172.8 230.7L177 230.7L181.2 230.7L185.3 230.7L189.5 230.7L193.6 230.7L197.8 230.7L202 230.7L206.1 230.7L210.3 230.7L214.4 230.7L218.6 230.7L222.8 230.7L226.9 230.7L231.1 230.7L235.2 230.7L239.4 230.7L243.6 230.7L247.7 230.7L251.9 230.7L256 230.7L260.2 230.7L264.3 230.7L268.5 230.7L272.7 230.7L276.8 230.7L281 230.7L285.1 230.7L289.3 230.7L293.5 230.7L297.6 230.7L301.8 230.7L305.9 230.7L310.1 230.7L314.3 230.7L318.4 230.7L322.6 230.7L326.7 230.7L330.9 230.7L330.9 226.9L330.9 223L330.9 219.2L330.9 215.3L330.9 211.5L330.9 207.6L330.9 203.8L330.9 200L330.9 196.1L330.9 192.3L330.9 188.4L330.9 184.6L330.9 180.7L330.9 176.9L330.9 173L330.9 169.2L330.9 165.4L330.9 161.5L330.9 157.7L330.9 153.8L330.9 150L330.9 146.1L330.9 142.3L330.9 138.5L330.9 134.6L330.9 130.8L330.9 126.9L330.9 123.1L330.9 119.2L330.9 115.4L330.9 111.5L330.9 107.7L330.9 103.9L330.9 100L330.9 96.2L330.9 92.3L330.9 88.5L330.9 84.6L330.9 80.8L330.9 77L330.9 73.1L330.9 69.3L330.9 65.4L330.9 61.6L330.9 57.7L330.9 53.9L330.9 50L330.9 46.2L330.9 42.4L330.9 38.5L330.9 34.7L330.9 30.8L330.9 27L330.9 23.1L330.9 19.3L326.7 19.3L322.6 19.3L318.4 19.3L314.3 19.3L310.1 19.3L305.9 19.3L301.8 19.3L297.6 19.3L293.5 19.3L292.3 19.3L293.5 20.8L295.4 23.1L297.6 26.3L298.1 27L300.6 30.8L301.8 33.1L302.7 34.7L304.4 38.5L305.7 42.4L305.9 43.4L306.6 46.2L307.2 50L307.3 53.9L307.1 57.7L306.5 61.6L305.9 63.8L305.6 65.4L304.4 69.3L302.8 73.1L301.8 75.3L301.1 77L299 80.8L297.6 83.2L296.8 84.6L294.4 88.5L293.5 89.8L291.7 92.3L289.3 95.7L289 96.2L286 100L285.1 101.1L283 103.9L281 106.2L279.8 107.7L276.8 111.2L276.5 111.5L273.1 115.4L272.7 115.9L269.6 119.2L268.5 120.4L266.1 123.1L264.3 124.9L262.4 126.9L260.2 129.2L258.7 130.8L256 133.5L254.9 134.6L251.9 137.7L251.1 138.5L247.7 141.8L247.2 142.3L243.6 145.9L243.3 146.1L239.4 149.9L239.3 150L235.2 153.8L231.2 157.7L231.1 157.8L227.1 161.5L226.9 161.7L222.9 165.4L222.8 165.5L218.8 169.2L218.6 169.4L214.6 173L214.4 173.2L210.4 176.9L210.3 177L206.1 180.7L202 184.5L201.9 184.6L197.8 188.3L197.6 188.4L193.6 192L193.3 192.3L189.5 195.7L189 196.1L185.3 199.4L184.7 200L181.2 203.1L180.4 203.8L177 206.8L176.1 207.6L172.8 210.5L171.8 211.5L168.7 214.3L167.5 215.3L164.5 218L163.2 219.2L160.4 221.7L158.9 223L156.2 225.4L154.6 226.9L152 229.1L150.3 230.7Z" fill="#f20c00"/>
<path d="M168.7 230.7L172.8 230.7L177 230.7L181.2 230.7L185.3 230.7L189.5 230.7L193.6 230.7L197.8 230.7L202 230.7L206.1 230.7L210.3 230.7L214.4 230.7L218.6 230.7L222.8 230.7L226.9 230.7L231.1 230.7L235.2 230.7L239.4 230.7L243.6 230.7L247.7 230.7L251.9 230.7L256 230.7L260.2 230.7L264.3 230.7L268.5 230.7L272.7 230.7L276.8 230.7L281 230.7L285.1 230.7L289.3 230.7L293.5 230.7L297.6 230.7L301.8 230.7L305.9 230.7L310.1 230.7L314.3 230.7L318.4 230.7L322.6 230.7L326.7 230.7L330.9 230.7L330.9 226.9L330.9 223L330.9 219.2L330.9 215.3L330.9 211.5L330.9 207.6L330.9 203.8L330.9 200L330.9 196.1L330.9 192.3L330.9 188.4L330.9 184.6L330.9 180.7L330.9 176.9L330.9 173L330.9 169.2L330.9 165.4L330.9 161.5L330.9 157.7L330.9 153.8L330.9 150L330.9 146.1L330.9 142.3L330.9 138.5L330.9 134.6L330.9 130.8L330.9 126.9L330.9 123.1L330.9 119.2L330.9 115.4L330.9 111.5L330.9 107.7L330.9 105.5L327.6 107.7L326.7 108.2L322.6 111L321.9 111.5L318.4 113.9L316.3 115.4L314.3 116.8L310.9 119.2L310.1 119.8L305.9 122.8L305.6 123.1L301.8 125.8L300.3 126.9L297.6 128.9L295.2 130.8L293.5 132L290 134.6L289.3 135.1L285.1 138.3L285 138.5L281 141.5L279.9 142.3L276.8 144.6L274.9 146.1L272.7 147.8L269.9 150L268.5 151.1L265 153.8L264.3 154.3L260.2 157.5L260 157.7L256 160.8L255.1 161.5L251.9 164L250.2 165.4L247.7 167.3L245.3 169.2L243.6 170.5L240.4 173L239.4 173.8L235.5 176.9L235.2 177.1L231.1 180.4L230.6 180.7L226.9 183.7L225.8 184.6L222.8 187L220.9 188.4L218.6 190.3L216.1 192.3L214.4 193.6L211.3 196.1L210.3 196.9L206.5 200L206.1 200.3L202 203.6L201.7 203.8L197.8 206.9L196.9 207.6L193.6 210.3L192.2 211.5L189.5 213.7L187.4 215.3L185.3 217L182.7 219.2L181.2 220.4L178 223L177 223.8L173.3 226.9L172.8 227.2L168.7 230.7Z" fill="#e10000"/>
<path d="M188.2 230.7L189.5 230.7L193.6 230.7L197.8 230.7L202 230.7L206.1 230.7L210.3 230.7L214.4 230.7L218.6 230.7L222.8 230.7L226.9 230.7L231.1 230.7L235.2 230.7L239.4 230.7L243.6 230.7L247.7 230.7L251.9 230.7L256 230.7L260.2 230.7L264.3 230.7L268.5 230.7L272.7 230.7L276.8 230.7L281 230.7L285.1 230.7L289.3 230.7L293.5 230.7L297.6 230.7L301.8 230.7L305.9 230.7L310.1 230.7L314.3 230.7L318.4 230.7L322.6 230.7L326.7 230.7L330.9 230.7L330.9 226.9L330.9 223L330.9 219.2L330.9 215.3L330.9 211.5L330.9 207.6L330.9 203.8L330.9 200L330.9 196.1L330.9 192.3L330.9 188.4L330.9 184.6L330.9 180.7L330.9 176.9L330.9 173L330.9 169.2L330.9 165.4L330.9 161.5L330.9 157.7L330.9 153.8L330.9 150L330.9 146.1L330.9 142.3L330.9 138.5L330.9 137.8L329.6 138.5L326.7 139.8L322.6 141.9L321.9 142.3L318.4 144.1L314.6 146.1L314.3 146.3L310.1 148.6L307.6 150L305.9 150.9L301.8 153.3L300.9 153.8L297.6 155.7L294.3 157.7L293.5 158.2L289.3 160.7L288 161.5L285.1 163.2L281.8 165.4L281 165.9L276.8 168.5L275.7 169.2L272.7 171.1L269.8 173L268.5 173.8L264.3 176.6L263.9 176.9L260.2 179.3L258.1 180.7L256 182.1L252.4 184.6L251.9 184.9L247.7 187.8L246.8 188.4L243.6 190.6L241.2 192.3L239.4 193.5L235.7 196.1L235.2 196.4L231.1 199.3L230.2 200L226.9 202.3L224.8 203.8L222.8 205.3L219.5 207.6L218.6 208.3L214.4 211.3L214.1 211.5L210.3 214.3L208.9 215.3L206.1 217.3L203.6 219.2L202 220.4L198.5 223L197.8 223.5L193.6 226.6L193.3 226.9L189.5 229.7L188.2 230.7Z" fill="#cd0000"/>
<path d="M209.1 230.7L210.3 230.7L214.4 230.7L218.6 230.7L222.8 230.7L226.9 230.7L231.1 230.7L235.2 230.7L239.4 230.7L243.6 230.7L247.7 230.7L251.9 230.7L256 230.7L260.2 230.7L264.3 230.7L268.5 230.7L272.7 230.7L276.8 230.7L281 230.7L285.1 230.7L289.3 230.7L293.5 230.7L297.6 230.7L301.8 230.7L305.9 230.7L310.1 230.7L314.3 230.7L318.4 230.7L322.6 230.7L326.7 230.7L330.9 230.7L330.9 226.9L330.9 223L330.9 219.2L330.9 215.3L330.9 211.5L330.9 207.6L330.9 203.8L330.9 200L330.9 196.1L330.9 192.3L330.9 188.4L330.9 184.6L330.9 180.7L330.9 176.9L330.9 173L330.9 169.2L330.9 165.4L330.9 161.5L330.9 161.1L330 161.5L326.7 162.9L322.6 164.7L321.1 165.4L318.4 166.6L314.3 168.5L312.8 169.2L310.1 170.5L305.9 172.5L304.9 173L301.8 174.6L297.6 176.7L297.4 176.9L293.5 178.9L290.1 180.7L289.3 181.1L285.1 183.4L283 184.6L281 185.7L276.8 188.1L276.2 188.4L272.7 190.4L269.5 192.3L268.5 192.8L264.3 195.3L263 196.1L260.2 197.8L256.6 200L256 200.3L251.9 202.8L250.4 203.8L247.7 205.4L244.2 207.6L243.6 208L239.4 210.7L238.1 211.5L235.2 213.3L232.2 215.3L231.1 216L226.9 218.8L226.3 219.2L222.8 221.5L220.5 223L218.6 224.3L214.8 226.9L214.4 227.1L210.3 229.9L209.1 230.7Z" fill="#bc0000"/>
<path d="M231.7 230.7L235.2 230.7L239.4 230.7L243.6 230.7L247.7 230.7L251.9 230.7L256 230.7L260.2 230.7L264.3 230.7L268.5 230.7L272.7 230.7L276.8 230.7L281 230.7L285.1 230.7L289.3 230.7L293.5 230.7L297.6 230.7L301.8 230.7L305.9 230.7L310.1 230.7L314.3 230.7L318.4 230.7L322.6 230.7L326.7 230.7L330.9 230.7L330.9 226.9L330.9 223L330.9 219.2L330.9 215.3L330.9 211.5L330.9 207.6L330.9 203.8L330.9 200L330.9 196.1L330.9 192.3L330.9 188.4L330.9 184.6L330.9 180.7L330.9 180.3L329.9 180.7L326.7 181.9L322.6 183.6L320.3 184.6L318.4 185.3L314.3 187.1L311.3 188.4L310.1 188.9L305.9 190.8L302.7 192.3L301.8 192.7L297.6 194.6L294.6 196.1L293.5 196.6L289.3 198.7L286.8 200L285.1 200.8L281 202.9L279.3 203.8L276.8 205L272.7 207.2L271.9 207.6L268.5 209.5L264.8 211.5L264.3 211.7L260.2 214L257.9 215.3L256 216.4L251.9 218.8L251.2 219.2L247.7 221.2L244.6 223L243.6 223.6L239.4 226.1L238.1 226.9L235.2 228.6L231.7 230.7Z" fill="#ac0000"/>
<path d="M256.6 230.7L260.2 230.7L264.3 230.7L268.5 230.7L272.7 230.7L276.8 230.7L281 230.7L285.1 230.7L289.3 230.7L293.5 230.7L297.6 230.7L301.8 230.7L305.9 230.7L310.1 230.7L314.3 230.7L318.4 230.7L322.6 230.7L326.7 230.7L330.9 230.7L330.9 226.9L330.9 223L330.9 219.2L330.9 215.3L330.9 211.5L330.9 207.6L330.9 203.8L330.9 200L330.9 197L326.7 198.6L323.1 200L322.6 200.1L318.4 201.8L314.3 203.4L313.4 203.8L310.1 205.1L305.9 206.9L304.2 207.6L301.8 208.7L297.6 210.5L295.5 211.5L293.5 212.4L289.3 214.3L287.1 215.3L285.1 216.3L281 218.3L279.1 219.2L276.8 220.3L272.7 222.4L271.4 223L268.5 224.5L264.3 226.6L263.9 226.9L260.2 228.8L256.6 230.7Z" fill="#9e0000"/>
<path d="M284.5 230.7L285.1 230.7L289.3 230.7L293.5 230.7L297.6 230.7L301.8 230.7L305.9 230.7L310.1 230.7L314.3 230.7L318.4 230.7L322.6 230.7L326.7 230.7L330.9 230.7L330.9 226.9L330.9 223L330.9 219.2L330.9 215.3L330.9 212L326.7 213.5L322.6 215L321.8 215.3L318.4 216.6L314.3 218.1L311.7 219.2L310.1 219.8L305.9 221.4L302.1 223L301.8 223.2L297.6 224.9L293.5 226.7L293.1 226.9L289.3 228.5L285.1 230.4L284.5 230.7Z" fill="#910000"/>
<path d="M316.9 230.7L318.4 230.7L322.6 230.7L326.7 230.7L330.9 230.7L330.9 226.9L330.9 225.8L327.7 226.9L326.7 227.2L322.6 228.6L318.4 230.1L316.9 230.7Z" fill="#840000"/>
</g>
<path d="M43.9 19.3H330.9" stroke="#2a1010" stroke-opacity="0.85" stroke-width="0.8" fill="none"/>
<path d="M330.9 19.3V230.7" stroke="#400" stroke-opacity="0.35" stroke-width="1" fill="none"/>
<text transform="translate(43.9 244.5) scale(0.915 1)" font-size="11.0" text-anchor="middle" font-family="Liberation Sans, sans-serif">0,5</text>
<path d="M43.9 19.3v1.6M43.9 230.7v-1.6" stroke="#222" stroke-opacity="0.45" stroke-width="0.8"/>
<text transform="translate(72.6 244.5) scale(0.915 1)" font-size="11.0" text-anchor="middle" font-family="Liberation Sans, sans-serif">1,0</text>
<path d="M72.6 19.3v1.6M72.6 230.7v-1.6" stroke="#222" stroke-opacity="0.45" stroke-width="0.8"/>
<text transform="translate(101.3 244.5) scale(0.915 1)" font-size="11.0" text-anchor="middle" font-family="Liberation Sans, sans-serif">1,5</text>
<path d="M101.3 19.3v1.6M101.3 230.7v-1.6" stroke="#222" stroke-opacity="0.45" stroke-width="0.8"/>
<text transform="translate(130.0 244.5) scale(0.915 1)" font-size="11.0" text-anchor="middle" font-family="Liberation Sans, sans-serif">2,0</text>
<path d="M130.0 19.3v1.6M130.0 230.7v-1.6" stroke="#222" stroke-opacity="0.45" stroke-width="0.8"/>
<text transform="translate(158.7 244.5) scale(0.915 1)" font-size="11.0" text-anchor="middle" font-family="Liberation Sans, sans-serif">2,5</text>
<path d="M158.7 19.3v1.6M158.7 230.7v-1.6" stroke="#222" stroke-opacity="0.45" stroke-width="0.8"/>
<text transform="translate(187.4 244.5) scale(0.915 1)" font-size="11.0" text-anchor="middle" font-family="Liberation Sans, sans-serif">3,0</text>
<path d="M187.4 19.3v1.6M187.4 230.7v-1.6" stroke="#222" stroke-opacity="0.45" stroke-width="0.8"/>
<text transform="translate(216.1 244.5) scale(0.915 1)" font-size="11.0" text-anchor="middle" font-family="Liberation Sans, sans-serif">3,5</text>
<path d="M216.1 19.3v1.6M216.1 230.7v-1.6" stroke="#222" stroke-opacity="0.45" stroke-width="0.8"/>
<text transform="translate(244.8 244.5) scale(0.915 1)" font-size="11.0" text-anchor="middle" font-family="Liberation Sans, sans-serif">4,0</text>
<path d="M244.8 19.3v1.6M244.8 230.7v-1.6" stroke="#222" stroke-opacity="0.45" stroke-width="0.8"/>
<text transform="translate(273.5 244.5) scale(0.915 1)" font-size="11.0" text-anchor="middle" font-family="Liberation Sans, sans-serif">4,5</text>
<path d="M273.5 19.3v1.6M273.5 230.7v-1.6" stroke="#222" stroke-opacity="0.45" stroke-width="0.8"/>
<text transform="translate(302.2 244.5) scale(0.915 1)" font-size="11.0" text-anchor="middle" font-family="Liberation Sans, sans-serif">5,0</text>
<path d="M302.2 19.3v1.6M302.2 230.7v-1.6" stroke="#222" stroke-opacity="0.45" stroke-width="0.8"/>
<text transform="translate(330.9 244.5) scale(0.915 1)" font-size="11.0" text-anchor="middle" font-family="Liberation Sans, sans-serif">5,5</text>
<path d="M330.9 19.3v1.6M330.9 230.7v-1.6" stroke="#222" stroke-opacity="0.45" stroke-width="0.8"/>
<text transform="translate(40.4 234.7) scale(0.915 1)" font-size="11.0" text-anchor="end" font-family="Liberation Sans, sans-serif">0,00</text>
<path d="M330.9 230.7h-1.8" stroke="#222" stroke-opacity="0.7" stroke-width="0.8"/>
<text transform="translate(40.4 213.6) scale(0.915 1)" font-size="11.0" text-anchor="end" font-family="Liberation Sans, sans-serif">0,01</text>
<path d="M330.9 209.6h-1.8" stroke="#222" stroke-opacity="0.7" stroke-width="0.8"/>
<text transform="translate(40.4 192.4) scale(0.915 1)" font-size="11.0" text-anchor="end" font-family="Liberation Sans, sans-serif">0,02</text>
<path d="M330.9 188.4h-1.8" stroke="#222" stroke-opacity="0.7" stroke-width="0.8"/>
<text transform="translate(40.4 171.3) scale(0.915 1)" font-size="11.0" text-anchor="end" font-family="Liberation Sans, sans-serif">0,03</text>
<path d="M330.9 167.3h-1.8" stroke="#222" stroke-opacity="0.7" stroke-width="0.8"/>
<text transform="translate(40.4 150.1) scale(0.915 1)" font-size="11.0" text-anchor="end" font-family="Liberation Sans, sans-serif">0,04</text>
<path d="M330.9 146.1h-1.8" stroke="#222" stroke-opacity="0.7" stroke-width="0.8"/>
<text transform="translate(40.4 129.0) scale(0.915 1)" font-size="11.0" text-anchor="end" font-family="Liberation Sans, sans-serif">0,05</text>
<path d="M330.9 125.0h-1.8" stroke="#222" stroke-opacity="0.7" stroke-width="0.8"/>
<text transform="translate(40.4 107.9) scale(0.915 1)" font-size="11.0" text-anchor="end" font-family="Liberation Sans, sans-serif">0,06</text>
<path d="M330.9 103.9h-1.8" stroke="#222" stroke-opacity="0.7" stroke-width="0.8"/>
<text transform="translate(40.4 86.7) scale(0.915 1)" font-size="11.0" text-anchor="end" font-family="Liberation Sans, sans-serif">0,07</text>
<path d="M330.9 82.7h-1.8" stroke="#222" stroke-opacity="0.7" stroke-width="0.8"/>
<text transform="translate(40.4 65.6) scale(0.915 1)" font-size="11.0" text-anchor="end" font-family="Liberation Sans, sans-serif">0,08</text>
<path d="M330.9 61.6h-1.8" stroke="#222" stroke-opacity="0.7" stroke-width="0.8"/>
<text transform="translate(40.4 44.4) scale(0.915 1)" font-size="11.0" text-anchor="end" font-family="Liberation Sans, sans-serif">0,09</text>
<path d="M330.9 40.4h-1.8" stroke="#222" stroke-opacity="0.7" stroke-width="0.8"/>
<text transform="translate(40.4 23.3) scale(0.915 1)" font-size="11.0" text-anchor="end" font-family="Liberation Sans, sans-serif">0,10</text>
<path d="M330.9 19.3h-1.8" stroke="#222" stroke-opacity="0.7" stroke-width="0.8"/>
<text transform="translate(188.6 261.8) scale(0.94 1)" font-size="12.5" text-anchor="middle" font-family="Liberation Sans, sans-serif">feathers</text>
<text transform="translate(10.9 125) rotate(-90) scale(1 0.94)" font-size="11.6" text-anchor="middle" font-family="Liberation Sans, sans-serif">MgSO4</text>
<text x="10.6" y="13.5" font-size="14.6" font-weight="bold" font-family="Liberation Sans, sans-serif">a</text>
<circle cx="72.6" cy="40.4" r="2.9" fill="none" stroke="#1010dc" stroke-width="1.25"/>
<circle cx="187.4" cy="40.4" r="2.9" fill="none" stroke="#1010dc" stroke-width="1.25"/>
<circle cx="302.2" cy="40.4" r="2.9" fill="none" stroke="#1010dc" stroke-width="1.25"/>
<circle cx="72.6" cy="125.0" r="2.9" fill="none" stroke="#1010dc" stroke-width="1.25"/>
<circle cx="187.4" cy="125.0" r="2.9" fill="none" stroke="#1010dc" stroke-width="1.25"/>
<circle cx="302.2" cy="125.0" r="2.9" fill="none" stroke="#1010dc" stroke-width="1.25"/>
<circle cx="72.6" cy="209.6" r="2.9" fill="none" stroke="#1010dc" stroke-width="1.25"/>
<circle cx="187.4" cy="209.6" r="2.9" fill="none" stroke="#1010dc" stroke-width="1.25"/>
<circle cx="302.2" cy="209.6" r="2.9" fill="none" stroke="#1010dc" stroke-width="1.25"/>
<rect x="61.5" y="94.0" width="15.5" height="9.3" fill="#800000" stroke="#111" stroke-opacity="0.75" stroke-width="0.8"/>
<text transform="translate(82.5 102.9) scale(0.915 1)" font-size="11.0" font-family="Liberation Sans, sans-serif">&gt; 6,4</text>
<rect x="61.5" y="106.5" width="15.5" height="9.3" fill="#a00008" stroke="#111" stroke-opacity="0.75" stroke-width="0.8"/>
<text transform="translate(82.5 115.4) scale(0.915 1)" font-size="11.0" font-family="Liberation Sans, sans-serif">&lt; 6,4</text>
<rect x="61.5" y="119.0" width="15.5" height="9.3" fill="#e00000" stroke="#111" stroke-opacity="0.75" stroke-width="0.8"/>
<text transform="translate(82.5 127.9) scale(0.915 1)" font-size="11.0" font-family="Liberation Sans, sans-serif">&lt; 6,2</text>
<rect x="61.5" y="131.5" width="15.5" height="9.3" fill="#ff4010" stroke="#111" stroke-opacity="0.75" stroke-width="0.8"/>
<text transform="translate(82.5 140.4) scale(0.915 1)" font-size="11.0" font-family="Liberation Sans, sans-serif">&lt; 6</text>
<rect x="61.5" y="144.0" width="15.5" height="9.3" fill="#ffc000" stroke="#111" stroke-opacity="0.75" stroke-width="0.8"/>
<text transform="translate(82.5 152.9) scale(0.915 1)" font-size="11.0" font-family="Liberation Sans, sans-serif">&lt; 5,8</text>
<rect x="61.5" y="156.5" width="15.5" height="9.3" fill="#f0ff1e" stroke="#111" stroke-opacity="0.75" stroke-width="0.8"/>
<text transform="translate(82.5 165.4) scale(0.915 1)" font-size="11.0" font-family="Liberation Sans, sans-serif">&lt; 5,6</text>
<rect x="61.5" y="169.0" width="15.5" height="9.3" fill="#28ff1e" stroke="#111" stroke-opacity="0.75" stroke-width="0.8"/>
<text transform="translate(82.5 177.9) scale(0.915 1)" font-size="11.0" font-family="Liberation Sans, sans-serif">&lt; 5,4</text>
<rect x="61.5" y="181.5" width="15.5" height="9.3" fill="#10be1e" stroke="#111" stroke-opacity="0.75" stroke-width="0.8"/>
<text transform="translate(82.5 190.4) scale(0.915 1)" font-size="11.0" font-family="Liberation Sans, sans-serif">&lt; 5,2</text>
<rect x="61.5" y="194.0" width="15.5" height="9.3" fill="#108c3c" stroke="#111" stroke-opacity="0.75" stroke-width="0.8"/>
<text transform="translate(82.5 202.9) scale(0.915 1)" font-size="11.0" font-family="Liberation Sans, sans-serif">&lt; 5</text>
<rect x="61.5" y="206.5" width="15.5" height="9.3" fill="#0a6050" stroke="#111" stroke-opacity="0.75" stroke-width="0.8"/>
<text transform="translate(82.5 215.4) scale(0.915 1)" font-size="11.0" font-family="Liberation Sans, sans-serif">&lt; 4,8</text>
<clipPath id="cpb"><rect x="392.3" y="20.0" width="284.49999999999994" height="210.4"/></clipPath>
<g clip-path="url(#cpb)" shape-rendering="geometricPrecision">
<rect x="392.3" y="20.0" width="284.49999999999994" height="210.4" fill="#08623e"/>
<path d="M392.3 230.4L396.4 230.4L400.5 230.4L404.7 230.4L408.8 230.4L412.9 230.4L417 230.4L421.2 230.4L425.3 230.4L429.4 230.4L433.5 230.4L437.7 230.4L441.8 230.4L445.9 230.4L450 230.4L454.1 230.4L458.3 230.4L462.4 230.4L466.5 230.4L470.6 230.4L474.8 230.4L478.9 230.4L483 230.4L487.1 230.4L491.3 230.4L495.4 230.4L499.5 230.4L503.6 230.4L507.7 230.4L511.9 230.4L516 230.4L520.1 230.4L524.2 230.4L528.4 230.4L532.5 230.4L536.6 230.4L540.7 230.4L544.9 230.4L549 230.4L553.1 230.4L557.2 230.4L561.4 230.4L565.5 230.4L569.6 230.4L573.7 230.4L577.8 230.4L582 230.4L586.1 230.4L590.2 230.4L594.3 230.4L598.5 230.4L602.6 230.4L606.7 230.4L610.8 230.4L615 230.4L619.1 230.4L623.2 230.4L627.3 230.4L631.4 230.4L635.6 230.4L639.7 230.4L643.8 230.4L647.9 230.4L652.1 230.4L656.2 230.4L660.3 230.4L664.4 230.4L668.6 230.4L672.7 230.4L676.8 230.4L676.8 226.6L676.8 222.7L676.8 218.9L676.8 215.1L676.8 211.3L676.8 207.4L676.8 203.6L676.8 199.8L676.8 196L676.8 192.1L676.8 188.3L676.8 184.5L676.8 180.7L676.8 176.8L676.8 173L676.8 169.2L676.8 165.4L676.8 161.5L676.8 157.7L676.8 153.9L676.8 150.1L676.8 146.2L676.8 142.4L676.8 138.6L676.8 134.8L676.8 130.9L676.8 127.1L676.8 123.3L676.8 119.5L676.8 115.6L676.8 111.8L676.8 108L676.8 104.2L676.8 100.3L676.8 96.5L676.8 92.7L676.8 88.9L676.8 85L676.8 81.2L676.8 77.4L676.8 73.6L676.8 69.7L676.8 65.9L676.8 62.1L676.8 58.3L676.8 54.4L676.8 50.6L676.8 46.8L676.8 43L676.8 39.1L676.8 35.3L676.8 31.5L676.8 27.7L676.8 23.8L676.8 20L672.7 20L668.6 20L664.4 20L660.3 20L656.2 20L652.1 20L647.9 20L643.8 20L639.7 20L635.6 20L631.4 20L627.3 20L623.2 20L619.1 20L615 20L610.8 20L606.7 20L602.6 20L598.5 20L594.3 20L590.2 20L586.1 20L582 20L577.8 20L573.7 20L569.6 20L565.5 20L561.4 20L557.2 20L553.1 20L549 20L544.9 20L540.7 20L536.6 20L532.5 20L528.4 20L524.2 20L520.1 20L516 20L511.9 20L507.7 20L503.6 20L499.5 20L495.4 20L491.3 20L487.1 20L483 20L478.9 20L474.8 20L470.6 20L466.5 20L462.4 20L458.3 20L454.1 20L450 20L445.9 20L441.8 20L437.7 20L433.5 20L429.4 20L425.3 20L421.2 20L417 20L412.9 20L408.8 20L404.7 20L400.5 20L396.4 20L392.3 20L392.3 23.8L392.3 27.7L392.3 31.5L392.3 35.3L392.3 39.1L392.3 43L392.3 46.8L392.3 50.6L392.3 54.4L392.3 58.3L392.3 62.1L392.3 65.9L392.3 69.7L392.3 73.6L392.3 77.4L392.3 81.2L392.3 85L392.3 88.9L392.3 92.7L392.3 96.5L392.3 100.3L392.3 104.2L392.3 108L392.3 111.8L392.3 115.6L392.3 119.5L392.3 123.3L392.3 127.1L392.3 130.9L392.3 134.8L392.3 138.6L392.3 142.4L392.3 146.2L392.3 150.1L392.3 153.9L392.3 157.7L392.3 161.5L392.3 165.4L392.3 169.2L392.3 173L392.3 176.8L392.3 180.7L392.3 184.5L392.3 188.3L392.3 192.1L392.3 196L392.3 199.8L392.3 203.6L392.3 207.4L392.3 211.3L392.3 215.1L392.3 218.9L392.3 222.7L392.3 226.6L392.3 230.4Z" fill="#0c7d2d"/>
<path d="M392.3 230.4L396.4 230.4L400.5 230.4L404.7 230.4L408.8 230.4L412.9 230.4L417 230.4L421.2 230.4L425.3 230.4L429.4 230.4L433.5 230.4L437.7 230.4L441.8 230.4L445.9 230.4L450 230.4L454.1 230.4L458.3 230.4L462.4 230.4L466.5 230.4L470.6 230.4L474.8 230.4L478.9 230.4L483 230.4L487.1 230.4L491.3 230.4L495.4 230.4L499.5 230.4L503.6 230.4L507.7 230.4L511.9 230.4L516 230.4L520.1 230.4L524.2 230.4L528.4 230.4L532.5 230.4L536.6 230.4L540.7 230.4L544.9 230.4L549 230.4L553.1 230.4L557.2 230.4L561.4 230.4L565.5 230.4L569.6 230.4L573.7 230.4L577.8 230.4L582 230.4L586.1 230.4L590.2 230.4L594.3 230.4L598.5 230.4L602.6 230.4L606.7 230.4L610.8 230.4L615 230.4L619.1 230.4L623.2 230.4L627.3 230.4L631.4 230.4L635.6 230.4L639.7 230.4L643.8 230.4L647.9 230.4L652.1 230.4L656.2 230.4L660.3 230.4L664.4 230.4L668.6 230.4L672.7 230.4L676.8 230.4L676.8 226.6L676.8 222.7L676.8 218.9L676.8 215.1L676.8 211.3L676.8 207.4L676.8 203.6L676.8 199.8L676.8 196L676.8 192.1L676.8 188.3L676.8 184.5L676.8 180.7L676.8 176.8L676.8 173L676.8 169.2L676.8 165.4L676.8 161.5L676.8 157.7L676.8 153.9L676.8 150.1L676.8 146.2L676.8 142.4L676.8 138.6L676.8 134.8L676.8 130.9L676.8 127.1L676.8 123.3L676.8 119.5L676.8 115.6L676.8 111.8L676.8 108L676.8 104.2L676.8 100.3L676.8 96.5L676.8 92.7L676.8 88.9L676.8 85L676.8 81.2L676.8 77.4L676.8 73.6L676.8 69.7L676.8 65.9L676.8 62.1L676.8 58.3L676.8 54.4L676.8 50.6L676.8 46.8L676.8 43L676.8 39.1L676.8 35.3L676.8 31.5L676.8 27.7L676.8 23.8L676.8 20L672.7 20L668.6 20L664.4 20L660.3 20L656.2 20L652.1 20L647.9 20L643.8 20L639.7 20L635.6 20L631.4 20L627.3 20L623.2 20L619.1 20L615 20L610.8 20L606.7 20L602.6 20L598.5 20L594.3 20L590.2 20L586.1 20L582 20L577.8 20L573.7 20L569.6 20L565.5 20L561.4 20L557.2 20L553.1 20L549 20L544.9 20L540.7 20L536.6 20L532.5 20L528.4 20L524.2 20L520.1 20L516 20L511.9 20L507.7 20L503.6 20L499.5 20L495.4 20L491.3 20L487.1 20L483 20L478.9 20L474.8 20L470.6 20L466.5 20L462.4 20L458.3 20L454.1 20L450 20L445.9 20L441.8 20L437.7 20L433.5 20L429.4 20L425.3 20L421.2 20L417 20L412.9 20L408.8 20L404.7 20L400.5 20L396.4 20L392.3 20L392.3 23.8L392.3 27.7L392.3 31.5L392.3 35.3L392.3 39.1L392.3 43L392.3 46.8L392.3 50.6L392.3 54.4L392.3 58.3L392.3 62.1L392.3 65.9L392.3 69.7L392.3 71.4L393.3 73.6L394.9 77.4L396.4 81.2L397.8 85L399 88.9L400.1 92.7L400.5 94.4L401.1 96.5L401.9 100.3L402.7 104.2L403.2 108L403.7 111.8L404 115.6L404.2 119.5L404.3 123.3L404.2 127.1L404 130.9L403.7 134.8L403.2 138.6L402.6 142.4L401.9 146.2L401 150.1L400.5 151.8L400 153.9L398.8 157.7L397.5 161.5L396.4 164.3L396 165.4L394.4 169.2L392.6 173L392.3 173.5L392.3 176.8L392.3 180.7L392.3 184.5L392.3 188.3L392.3 192.1L392.3 196L392.3 199.8L392.3 203.6L392.3 207.4L392.3 211.3L392.3 215.1L392.3 218.9L392.3 222.7L392.3 226.6L392.3 230.4Z" fill="#0c9422"/>
<path d="M392.3 230.4L396.4 230.4L400.5 230.4L404.7 230.4L408.8 230.4L412.9 230.4L417 230.4L421.2 230.4L425.3 230.4L429.4 230.4L433.5 230.4L437.7 230.4L441.8 230.4L445.9 230.4L450 230.4L454.1 230.4L458.3 230.4L462.4 230.4L466.5 230.4L470.6 230.4L474.8 230.4L478.9 230.4L483 230.4L487.1 230.4L491.3 230.4L495.4 230.4L499.5 230.4L503.6 230.4L507.7 230.4L511.9 230.4L516 230.4L520.1 230.4L524.2 230.4L528.4 230.4L532.5 230.4L536.6 230.4L540.7 230.4L544.9 230.4L549 230.4L553.1 230.4L557.2 230.4L561.4 230.4L565.5 230.4L569.6 230.4L573.7 230.4L577.8 230.4L582 230.4L586.1 230.4L590.2 230.4L594.3 230.4L598.5 230.4L602.6 230.4L606.7 230.4L610.8 230.4L615 230.4L619.1 230.4L623.2 230.4L627.3 230.4L631.4 230.4L635.6 230.4L639.7 230.4L643.8 230.4L647.9 230.4L652.1 230.4L656.2 230.4L660.3 230.4L664.4 230.4L668.6 230.4L672.7 230.4L676.8 230.4L676.8 226.6L676.8 222.7L676.8 218.9L676.8 215.1L676.8 211.3L676.8 207.4L676.8 203.6L676.8 199.8L676.8 196L676.8 192.1L676.8 188.3L676.8 184.5L676.8 180.7L676.8 176.8L676.8 173L676.8 169.2L676.8 165.4L676.8 161.5L676.8 157.7L676.8 153.9L676.8 150.1L676.8 146.2L676.8 142.4L676.8 138.6L676.8 134.8L676.8 130.9L676.8 127.1L676.8 123.3L676.8 119.5L676.8 115.6L676.8 111.8L676.8 108L676.8 104.2L676.8 100.3L676.8 96.5L676.8 92.7L676.8 88.9L676.8 85L676.8 81.2L676.8 77.4L676.8 73.6L676.8 69.7L676.8 65.9L676.8 62.1L676.8 58.3L676.8 54.4L676.8 50.6L676.8 46.8L676.8 43L676.8 39.1L676.8 35.3L676.8 31.5L676.8 27.7L676.8 23.8L676.8 20L672.7 20L668.6 20L664.4 20L660.3 20L656.2 20L652.1 20L647.9 20L643.8 20L639.7 20L635.6 20L631.4 20L627.3 20L623.2 20L619.1 20L615 20L610.8 20L606.7 20L602.6 20L598.5 20L594.3 20L590.2 20L586.1 20L582 20L577.8 20L573.7 20L569.6 20L565.5 20L561.4 20L557.2 20L553.1 20L549 20L544.9 20L540.7 20L536.6 20L532.5 20L528.4 20L524.2 20L520.1 20L516 20L511.9 20L507.7 20L503.6 20L499.5 20L495.4 20L491.3 20L487.1 20L483 20L478.9 20L474.8 20L470.6 20L466.5 20L462.4 20L458.3 20L454.1 20L450 20L445.9 20L441.8 20L437.7 20L433.5 20L429.4 20L425.3 20L421.2 20L417 20L412.9 20L408.8 20L404.7 20L400.5 20L396.4 20L392.3 20L392.3 23.8L392.3 27.7L392.3 31.5L392.3 35.3L392.3 39.1L392.3 43L392.3 46.6L392.4 46.8L395.1 50.6L396.4 52.7L397.6 54.4L399.9 58.3L400.5 59.4L402.1 62.1L404.1 65.9L404.7 67L406 69.7L407.8 73.6L408.8 75.8L409.5 77.4L411 81.2L412.4 85L412.9 86.6L413.7 88.9L414.8 92.7L415.8 96.5L416.7 100.3L417 102.2L417.4 104.2L418.1 108L418.6 111.8L418.9 115.6L419.2 119.5L419.3 123.3L419.2 127.1L419.1 130.9L418.8 134.8L418.4 138.6L417.8 142.4L417.1 146.2L417 146.6L416.3 150.1L415.3 153.9L414.2 157.7L412.9 161.5L411.5 165.4L409.9 169.2L408.8 171.6L408.2 173L406.3 176.8L404.7 179.8L404.2 180.7L402 184.5L400.5 186.7L399.5 188.3L396.9 192.1L396.4 192.8L394.1 196L392.3 198.3L392.3 199.8L392.3 203.6L392.3 207.4L392.3 211.3L392.3 215.1L392.3 218.9L392.3 222.7L392.3 226.6L392.3 230.4Z" fill="#08ac18"/>
<path d="M392.3 230.4L396.4 230.4L400.5 230.4L404.7 230.4L408.8 230.4L412.9 230.4L417 230.4L421.2 230.4L425.3 230.4L429.4 230.4L433.5 230.4L437.7 230.4L441.8 230.4L445.9 230.4L450 230.4L454.1 230.4L458.3 230.4L462.4 230.4L466.5 230.4L470.6 230.4L474.8 230.4L478.9 230.4L483 230.4L487.1 230.4L491.3 230.4L495.4 230.4L499.5 230.4L503.6 230.4L507.7 230.4L511.9 230.4L516 230.4L520.1 230.4L524.2 230.4L528.4 230.4L532.5 230.4L536.6 230.4L540.7 230.4L544.9 230.4L549 230.4L553.1 230.4L557.2 230.4L561.4 230.4L565.5 230.4L569.6 230.4L573.7 230.4L577.8 230.4L582 230.4L586.1 230.4L590.2 230.4L594.3 230.4L598.5 230.4L602.6 230.4L606.7 230.4L610.8 230.4L615 230.4L619.1 230.4L623.2 230.4L627.3 230.4L631.4 230.4L635.6 230.4L639.7 230.4L643.8 230.4L647.9 230.4L652.1 230.4L656.2 230.4L660.3 230.4L664.4 230.4L668.6 230.4L672.7 230.4L676.8 230.4L676.8 226.6L676.8 222.7L676.8 218.9L676.8 215.1L676.8 211.3L676.8 207.4L676.8 203.6L676.8 199.8L676.8 196L676.8 192.1L676.8 188.3L676.8 184.5L676.8 180.7L676.8 176.8L676.8 173L676.8 169.2L676.8 165.4L676.8 161.5L676.8 157.7L676.8 153.9L676.8 150.1L676.8 146.2L676.8 142.4L676.8 138.6L676.8 134.8L676.8 130.9L676.8 127.1L676.8 123.3L676.8 119.5L676.8 115.6L676.8 111.8L676.8 108L676.8 104.2L676.8 100.3L676.8 96.5L676.8 92.7L676.8 88.9L676.8 85L676.8 81.2L676.8 77.4L676.8 73.6L676.8 69.7L676.8 65.9L676.8 62.1L676.8 58.3L676.8 54.4L676.8 50.6L676.8 46.8L676.8 43L676.8 39.1L676.8 35.3L676.8 31.5L676.8 27.7L676.8 23.8L676.8 20L672.7 20L668.6 20L664.4 20L660.3 20L656.2 20L652.1 20L647.9 20L643.8 20L639.7 20L635.6 20L631.4 20L627.3 20L623.2 20L619.1 20L615 20L610.8 20L606.7 20L602.6 20L598.5 20L594.3 20L590.2 20L586.1 20L582 20L577.8 20L573.7 20L569.6 20L565.5 20L561.4 20L557.2 20L553.1 20L549 20L544.9 20L540.7 20L536.6 20L532.5 20L528.4 20L524.2 20L520.1 20L516 20L511.9 20L507.7 20L503.6 20L499.5 20L495.4 20L491.3 20L487.1 20L483 20L478.9 20L474.8 20L470.6 20L466.5 20L462.4 20L458.3 20L454.1 20L450 20L445.9 20L441.8 20L437.7 20L433.5 20L429.4 20L425.3 20L421.2 20L417 20L412.9 20L408.8 20L404.7 20L400.5 20L396.4 20L392.3 20L392.3 23.8L392.3 27.7L392.3 28.1L395.3 31.5L396.4 32.8L398.6 35.3L400.5 37.8L401.6 39.1L404.6 43L404.7 43.1L407.4 46.8L408.8 48.9L410 50.6L412.5 54.4L412.9 55.2L414.8 58.3L417 62.1L419.1 65.9L421.1 69.7L421.2 69.9L422.9 73.6L424.6 77.4L425.3 79.1L426.1 81.2L427.6 85L428.9 88.9L429.4 90.6L430.1 92.7L431.1 96.5L432.1 100.3L432.8 104.2L433.5 108L433.5 108.1L434.1 111.8L434.5 115.6L434.7 119.5L434.9 123.3L434.9 127.1L434.8 130.9L434.5 134.8L434.1 138.6L433.6 142.4L433.5 142.9L433 146.2L432.2 150.1L431.2 153.9L430.1 157.7L429.4 159.9L428.9 161.5L427.5 165.4L426 169.2L425.3 170.8L424.3 173L422.5 176.8L421.2 179.3L420.5 180.7L418.3 184.5L417 186.6L416 188.3L413.5 192.1L412.9 192.9L410.8 196L408.8 198.6L407.9 199.8L404.8 203.6L404.7 203.7L401.4 207.4L400.5 208.4L397.9 211.3L396.4 212.7L394.1 215.1L392.3 216.8L392.3 218.9L392.3 222.7L392.3 226.6L392.3 230.4Z" fill="#08cb0e"/>
<path d="M394.6 230.4L396.4 230.4L400.5 230.4L404.7 230.4L408.8 230.4L412.9 230.4L417 230.4L421.2 230.4L425.3 230.4L429.4 230.4L433.5 230.4L437.7 230.4L441.8 230.4L445.9 230.4L450 230.4L454.1 230.4L458.3 230.4L462.4 230.4L466.5 230.4L470.6 230.4L474.8 230.4L478.9 230.4L483 230.4L487.1 230.4L491.3 230.4L495.4 230.4L499.5 230.4L503.6 230.4L507.7 230.4L511.9 230.4L516 230.4L520.1 230.4L524.2 230.4L528.4 230.4L532.5 230.4L536.6 230.4L540.7 230.4L544.9 230.4L549 230.4L553.1 230.4L557.2 230.4L561.4 230.4L565.5 230.4L569.6 230.4L573.7 230.4L577.8 230.4L582 230.4L586.1 230.4L590.2 230.4L594.3 230.4L598.5 230.4L602.6 230.4L606.7 230.4L610.8 230.4L615 230.4L619.1 230.4L623.2 230.4L627.3 230.4L631.4 230.4L635.6 230.4L639.7 230.4L643.8 230.4L647.9 230.4L652.1 230.4L656.2 230.4L660.3 230.4L664.4 230.4L668.6 230.4L672.7 230.4L676.8 230.4L676.8 226.6L676.8 222.7L676.8 218.9L676.8 215.1L676.8 211.3L676.8 207.4L676.8 203.6L676.8 199.8L676.8 196L676.8 192.1L676.8 188.3L676.8 184.5L676.8 180.7L676.8 176.8L676.8 173L676.8 169.2L676.8 165.4L676.8 161.5L676.8 157.7L676.8 153.9L676.8 150.1L676.8 146.2L676.8 142.4L676.8 138.6L676.8 134.8L676.8 130.9L676.8 127.1L676.8 123.3L676.8 119.5L676.8 115.6L676.8 111.8L676.8 108L676.8 104.2L676.8 100.3L676.8 96.5L676.8 92.7L676.8 88.9L676.8 85L676.8 81.2L676.8 77.4L676.8 73.6L676.8 69.7L676.8 65.9L676.8 62.1L676.8 58.3L676.8 54.4L676.8 50.6L676.8 46.8L676.8 43L676.8 39.1L676.8 35.3L676.8 31.5L676.8 27.7L676.8 23.8L676.8 20L672.7 20L668.6 20L664.4 20L660.3 20L656.2 20L652.1 20L647.9 20L643.8 20L639.7 20L635.6 20L631.4 20L627.3 20L623.2 20L619.1 20L615 20L610.8 20L606.7 20L602.6 20L598.5 20L594.3 20L590.2 20L586.1 20L582 20L577.8 20L573.7 20L569.6 20L565.5 20L561.4 20L557.2 20L553.1 20L549 20L544.9 20L540.7 20L536.6 20L532.5 20L528.4 20L524.2 20L520.1 20L516 20L511.9 20L507.7 20L503.6 20L499.5 20L495.4 20L491.3 20L487.1 20L483 20L478.9 20L474.8 20L470.6 20L466.5 20L462.4 20L458.3 20L454.1 20L450 20L445.9 20L441.8 20L437.7 20L433.5 20L429.4 20L425.3 20L421.2 20L417 20L412.9 20L408.8 20L404.7 20L400.5 20L400 20L400.5 20.6L403.7 23.8L404.7 24.8L407.3 27.7L408.8 29.3L410.7 31.5L412.9 34.1L413.9 35.3L417 39.1L417 39.2L420 43L421.2 44.6L422.8 46.8L425.3 50.4L425.4 50.6L427.9 54.4L429.4 56.8L430.3 58.3L432.6 62.1L433.5 63.8L434.7 65.9L436.7 69.7L437.7 71.7L438.6 73.6L440.3 77.4L441.8 80.8L441.9 81.2L443.4 85L444.8 88.9L445.9 92.3L446 92.7L447.2 96.5L448.1 100.3L449 104.2L449.7 108L450 110.1L450.3 111.8L450.7 115.6L451.1 119.5L451.3 123.3L451.3 127.1L451.2 130.9L451 134.8L450.6 138.6L450.1 142.4L450 143.1L449.5 146.2L448.7 150.1L447.8 153.9L446.7 157.7L445.9 160.4L445.5 161.5L444.2 165.4L442.7 169.2L441.8 171.3L441 173L439.2 176.8L437.7 179.9L437.3 180.7L435.2 184.5L433.5 187.2L432.9 188.3L430.5 192.1L429.4 193.7L427.8 196L425.3 199.5L425 199.8L422 203.6L421.2 204.7L418.9 207.4L417 209.5L415.5 211.3L412.9 214L411.8 215.1L408.8 218.1L408 218.9L404.7 222L403.8 222.7L400.5 225.6L399.4 226.6L396.4 229L394.6 230.4Z" fill="#10ee0e"/>
<path d="M413.6 230.4L417 230.4L421.2 230.4L425.3 230.4L429.4 230.4L433.5 230.4L437.7 230.4L441.8 230.4L445.9 230.4L450 230.4L454.1 230.4L458.3 230.4L462.4 230.4L466.5 230.4L470.6 230.4L474.8 230.4L478.9 230.4L483 230.4L487.1 230.4L491.3 230.4L495.4 230.4L499.5 230.4L503.6 230.4L507.7 230.4L511.9 230.4L516 230.4L520.1 230.4L524.2 230.4L528.4 230.4L532.5 230.4L536.6 230.4L540.7 230.4L544.9 230.4L549 230.4L553.1 230.4L557.2 230.4L561.4 230.4L565.5 230.4L569.6 230.4L573.7 230.4L577.8 230.4L582 230.4L586.1 230.4L590.2 230.4L594.3 230.4L598.5 230.4L602.6 230.4L606.7 230.4L610.8 230.4L615 230.4L619.1 230.4L623.2 230.4L627.3 230.4L631.4 230.4L635.6 230.4L639.7 230.4L643.8 230.4L647.9 230.4L652.1 230.4L656.2 230.4L660.3 230.4L664.4 230.4L668.6 230.4L672.7 230.4L676.8 230.4L676.8 226.6L676.8 222.7L676.8 218.9L676.8 215.1L676.8 211.3L676.8 207.4L676.8 203.6L676.8 199.8L676.8 196L676.8 192.1L676.8 188.3L676.8 184.5L676.8 180.7L676.8 176.8L676.8 173L676.8 169.2L676.8 165.4L676.8 161.5L676.8 157.7L676.8 153.9L676.8 150.1L676.8 146.2L676.8 142.4L676.8 138.6L676.8 134.8L676.8 130.9L676.8 127.1L676.8 123.3L676.8 119.5L676.8 115.6L676.8 111.8L676.8 108L676.8 104.2L676.8 100.3L676.8 96.5L676.8 92.7L676.8 88.9L676.8 85L676.8 81.2L676.8 77.4L676.8 73.6L676.8 69.7L676.8 65.9L676.8 62.1L676.8 58.3L676.8 54.4L676.8 50.6L676.8 46.8L676.8 43L676.8 39.1L676.8 35.3L676.8 31.5L676.8 27.7L676.8 23.8L676.8 20L672.7 20L668.6 20L664.4 20L660.3 20L656.2 20L652.1 20L647.9 20L643.8 20L639.7 20L635.6 20L631.4 20L627.3 20L623.2 20L619.1 20L615 20L610.8 20L606.7 20L602.6 20L598.5 20L594.3 20L590.2 20L586.1 20L582 20L577.8 20L573.7 20L569.6 20L565.5 20L561.4 20L557.2 20L553.1 20L549 20L544.9 20L540.7 20L536.6 20L532.5 20L528.4 20L524.2 20L520.1 20L516 20L511.9 20L507.7 20L503.6 20L499.5 20L495.4 20L491.3 20L487.1 20L483 20L478.9 20L474.8 20L470.6 20L466.5 20L462.4 20L458.3 20L454.1 20L450 20L445.9 20L441.8 20L437.7 20L433.5 20L429.4 20L425.3 20L421.2 20L417 20L415.9 20L417 21.2L419.6 23.8L421.2 25.5L423.1 27.7L425.3 30.1L426.5 31.5L429.4 34.9L429.8 35.3L432.9 39.1L433.5 40L435.9 43L437.7 45.4L438.7 46.8L441.4 50.6L441.8 51.2L444 54.4L445.9 57.4L446.4 58.3L448.8 62.1L450 64.3L451 65.9L453 69.7L454.1 71.9L455 73.6L456.8 77.4L458.3 80.7L458.5 81.2L460.1 85L461.5 88.9L462.4 91.5L462.8 92.7L464 96.5L465 100.3L466 104.2L466.5 106.9L466.7 108L467.4 111.8L467.9 115.6L468.3 119.5L468.5 123.3L468.6 127.1L468.5 130.9L468.3 134.8L468 138.6L467.5 142.4L466.9 146.2L466.5 147.9L466.1 150.1L465.2 153.9L464.1 157.7L462.9 161.5L462.4 163L461.6 165.4L460.1 169.2L458.4 173L458.3 173.4L456.6 176.8L454.7 180.7L454.1 181.7L452.6 184.5L450.4 188.3L450 188.9L448 192.1L445.9 195.2L445.4 196L442.7 199.8L441.8 200.9L439.7 203.6L437.7 206.2L436.7 207.4L433.5 211.1L433.4 211.3L429.9 215.1L429.4 215.6L426.2 218.9L425.3 219.8L422.3 222.7L421.2 223.8L418.1 226.6L417 227.5L413.6 230.4Z" fill="#64ff14"/>
<path d="M432.6 230.4L433.5 230.4L437.7 230.4L441.8 230.4L445.9 230.4L450 230.4L454.1 230.4L458.3 230.4L462.4 230.4L466.5 230.4L470.6 230.4L474.8 230.4L478.9 230.4L483 230.4L487.1 230.4L491.3 230.4L495.4 230.4L499.5 230.4L503.6 230.4L507.7 230.4L511.9 230.4L516 230.4L520.1 230.4L524.2 230.4L528.4 230.4L532.5 230.4L536.6 230.4L540.7 230.4L544.9 230.4L549 230.4L553.1 230.4L557.2 230.4L561.4 230.4L565.5 230.4L569.6 230.4L573.7 230.4L577.8 230.4L582 230.4L586.1 230.4L590.2 230.4L594.3 230.4L598.5 230.4L602.6 230.4L606.7 230.4L610.8 230.4L615 230.4L619.1 230.4L623.2 230.4L627.3 230.4L631.4 230.4L635.6 230.4L639.7 230.4L643.8 230.4L647.9 230.4L652.1 230.4L656.2 230.4L660.3 230.4L664.4 230.4L668.6 230.4L672.7 230.4L676.8 230.4L676.8 226.6L676.8 222.7L676.8 218.9L676.8 215.1L676.8 211.3L676.8 207.4L676.8 203.6L676.8 199.8L676.8 196L676.8 192.1L676.8 188.3L676.8 184.5L676.8 180.7L676.8 176.8L676.8 173L676.8 169.2L676.8 165.4L676.8 161.5L676.8 157.7L676.8 153.9L676.8 150.1L676.8 146.2L676.8 142.4L676.8 138.6L676.8 134.8L676.8 130.9L676.8 127.1L676.8 123.3L676.8 119.5L676.8 115.6L676.8 111.8L676.8 108L676.8 104.2L676.8 100.3L676.8 96.5L676.8 92.7L676.8 88.9L676.8 85L676.8 81.2L676.8 77.4L676.8 73.6L676.8 69.7L676.8 65.9L676.8 62.1L676.8 58.3L676.8 54.4L676.8 50.6L676.8 46.8L676.8 43L676.8 39.1L676.8 35.3L676.8 31.5L676.8 27.7L676.8 23.8L676.8 20L672.7 20L668.6 20L664.4 20L660.3 20L656.2 20L652.1 20L647.9 20L643.8 20L639.7 20L635.6 20L631.4 20L627.3 20L623.2 20L619.1 20L615 20L610.8 20L606.7 20L602.6 20L598.5 20L594.3 20L590.2 20L586.1 20L582 20L577.8 20L573.7 20L569.6 20L565.5 20L561.4 20L557.2 20L553.1 20L549 20L544.9 20L540.7 20L536.6 20L532.5 20L528.4 20L524.2 20L520.1 20L516 20L511.9 20L507.7 20L503.6 20L499.5 20L495.4 20L491.3 20L487.1 20L483 20L478.9 20L474.8 20L470.6 20L466.5 20L462.4 20L458.3 20L454.1 20L450 20L445.9 20L441.8 20L437.7 20L433.5 20L432.1 20L433.5 21.5L435.8 23.8L437.7 25.8L439.4 27.7L441.8 30.3L442.8 31.5L445.9 35L446.1 35.3L449.3 39.1L450 40.1L452.3 43L454.1 45.4L455.2 46.8L458 50.6L458.3 51L460.7 54.4L462.4 57L463.2 58.3L465.7 62.1L466.5 63.5L468 65.9L470.1 69.7L470.6 70.7L472.2 73.6L474.1 77.4L474.8 78.8L475.9 81.2L477.6 85L478.9 88.3L479.1 88.9L480.5 92.7L481.8 96.5L482.9 100.3L483 100.7L483.9 104.2L484.8 108L485.5 111.8L486 115.6L486.4 119.5L486.7 123.3L486.8 127.1L486.8 130.9L486.6 134.8L486.3 138.6L485.8 142.4L485.2 146.2L484.4 150.1L483.5 153.9L483 155.5L482.4 157.7L481.1 161.5L479.8 165.4L478.9 167.6L478.2 169.2L476.6 173L474.8 176.8L472.8 180.7L470.7 184.5L470.6 184.6L468.4 188.3L466.5 191.4L466 192.1L463.5 196L462.4 197.5L460.8 199.8L458.3 203.1L457.9 203.6L454.8 207.4L454.1 208.3L451.6 211.3L450 213.1L448.2 215.1L445.9 217.6L444.6 218.9L441.8 221.8L440.9 222.7L437.7 225.8L436.9 226.6L433.5 229.6L432.6 230.4Z" fill="#beff0a"/>
<path d="M451.7 230.4L454.1 230.4L458.3 230.4L462.4 230.4L466.5 230.4L470.6 230.4L474.8 230.4L478.9 230.4L483 230.4L487.1 230.4L491.3 230.4L495.4 230.4L499.5 230.4L503.6 230.4L507.7 230.4L511.9 230.4L516 230.4L520.1 230.4L524.2 230.4L528.4 230.4L532.5 230.4L536.6 230.4L540.7 230.4L544.9 230.4L549 230.4L553.1 230.4L557.2 230.4L561.4 230.4L565.5 230.4L569.6 230.4L573.7 230.4L577.8 230.4L582 230.4L586.1 230.4L590.2 230.4L594.3 230.4L598.5 230.4L602.6 230.4L606.7 230.4L610.8 230.4L615 230.4L619.1 230.4L623.2 230.4L627.3 230.4L631.4 230.4L635.6 230.4L639.7 230.4L643.8 230.4L647.9 230.4L652.1 230.4L656.2 230.4L660.3 230.4L664.4 230.4L668.6 230.4L672.7 230.4L676.8 230.4L676.8 226.6L676.8 222.7L676.8 218.9L676.8 215.1L676.8 211.3L676.8 207.4L676.8 203.6L676.8 199.8L676.8 196L676.8 192.1L676.8 188.3L676.8 184.5L676.8 180.7L676.8 176.8L676.8 173L676.8 169.2L676.8 165.4L676.8 161.5L676.8 157.7L676.8 153.9L676.8 150.1L676.8 146.2L676.8 142.4L676.8 138.6L676.8 134.8L676.8 130.9L676.8 127.1L676.8 123.3L676.8 119.5L676.8 115.6L676.8 111.8L676.8 108L676.8 104.2L676.8 100.3L676.8 96.5L676.8 92.7L676.8 88.9L676.8 85L676.8 81.2L676.8 77.4L676.8 73.6L676.8 69.7L676.8 65.9L676.8 62.1L676.8 58.3L676.8 54.4L676.8 50.6L676.8 46.8L676.8 43L676.8 39.1L676.8 35.3L676.8 31.5L676.8 27.7L676.8 23.8L676.8 20L672.7 20L668.6 20L664.4 20L660.3 20L656.2 20L652.1 20L647.9 20L643.8 20L639.7 20L635.6 20L631.4 20L627.3 20L623.2 20L619.1 20L615 20L610.8 20L606.7 20L602.6 20L598.5 20L594.3 20L590.2 20L586.1 20L582 20L577.8 20L573.7 20L569.6 20L565.5 20L561.4 20L557.2 20L553.1 20L549 20L544.9 20L540.7 20L536.6 20L532.5 20L528.4 20L524.2 20L520.1 20L516 20L511.9 20L507.7 20L503.6 20L499.5 20L495.4 20L491.3 20L487.1 20L483 20L478.9 20L474.8 20L470.6 20L466.5 20L462.4 20L458.3 20L454.1 20L450 20L448.8 20L450 21.3L452.5 23.8L454.1 25.5L456.2 27.7L458.3 30L459.7 31.5L462.4 34.6L463 35.3L466.3 39.1L466.5 39.4L469.4 43L470.6 44.5L472.5 46.8L474.8 49.8L475.4 50.6L478.2 54.4L478.9 55.5L480.8 58.3L483 61.5L483.4 62.1L485.8 65.9L487.1 68.1L488.1 69.7L490.3 73.6L491.3 75.3L492.4 77.4L494.3 81.2L495.4 83.4L496.1 85L497.8 88.9L499.3 92.7L499.5 93.2L500.7 96.5L502 100.3L503 104.2L503.6 106.5L504 108L504.8 111.8L505.4 115.6L505.9 119.5L506.2 123.3L506.3 127.1L506.3 130.9L506.1 134.8L505.8 138.6L505.3 142.4L504.6 146.2L503.8 150.1L503.6 150.6L502.8 153.9L501.7 157.7L500.4 161.5L499.5 163.8L498.9 165.4L497.3 169.2L495.6 173L495.4 173.4L493.7 176.8L491.7 180.7L491.3 181.4L489.5 184.5L487.2 188.3L487.1 188.4L484.7 192.1L483 194.6L482.1 196L479.4 199.8L478.9 200.4L476.5 203.6L474.8 205.8L473.4 207.4L470.6 210.8L470.2 211.3L466.9 215.1L466.5 215.5L463.3 218.9L462.4 219.9L459.6 222.7L458.3 224.1L455.8 226.6L454.1 228.1L451.7 230.4Z" fill="#ffff00"/>
<path d="M470.8 230.4L474.8 230.4L478.9 230.4L483 230.4L487.1 230.4L491.3 230.4L495.4 230.4L499.5 230.4L503.6 230.4L507.7 230.4L511.9 230.4L516 230.4L520.1 230.4L524.2 230.4L528.4 230.4L532.5 230.4L536.6 230.4L540.7 230.4L544.9 230.4L549 230.4L553.1 230.4L557.2 230.4L561.4 230.4L565.5 230.4L569.6 230.4L573.7 230.4L577.8 230.4L582 230.4L586.1 230.4L590.2 230.4L594.3 230.4L598.5 230.4L602.6 230.4L606.7 230.4L610.8 230.4L615 230.4L619.1 230.4L623.2 230.4L627.3 230.4L631.4 230.4L635.6 230.4L639.7 230.4L643.8 230.4L647.9 230.4L652.1 230.4L656.2 230.4L660.3 230.4L664.4 230.4L668.6 230.4L672.7 230.4L676.8 230.4L676.8 226.6L676.8 222.7L676.8 218.9L676.8 215.1L676.8 211.3L676.8 207.4L676.8 203.6L676.8 199.8L676.8 196L676.8 192.1L676.8 188.3L676.8 184.5L676.8 180.7L676.8 176.8L676.8 173L676.8 169.2L676.8 165.4L676.8 161.5L676.8 157.7L676.8 153.9L676.8 150.1L676.8 146.2L676.8 142.4L676.8 138.6L676.8 134.8L676.8 130.9L676.8 127.1L676.8 123.3L676.8 119.5L676.8 115.6L676.8 111.8L676.8 108L676.8 104.2L676.8 100.3L676.8 96.5L676.8 92.7L676.8 88.9L676.8 85L676.8 81.2L676.8 77.4L676.8 73.6L676.8 69.7L676.8 65.9L676.8 62.1L676.8 58.3L676.8 54.4L676.8 50.6L676.8 46.8L676.8 43L676.8 39.1L676.8 35.3L676.8 31.5L676.8 27.7L676.8 23.8L676.8 20L672.7 20L668.6 20L664.4 20L660.3 20L656.2 20L652.1 20L647.9 20L643.8 20L639.7 20L635.6 20L631.4 20L627.3 20L623.2 20L619.1 20L615 20L610.8 20L606.7 20L602.6 20L598.5 20L594.3 20L590.2 20L586.1 20L582 20L577.8 20L573.7 20L569.6 20L565.5 20L561.4 20L557.2 20L553.1 20L549 20L544.9 20L540.7 20L536.6 20L532.5 20L528.4 20L524.2 20L520.1 20L516 20L511.9 20L507.7 20L503.6 20L499.5 20L495.4 20L491.3 20L487.1 20L483 20L478.9 20L474.8 20L470.6 20L466.5 20L465.9 20L466.5 20.6L469.8 23.8L470.6 24.7L473.5 27.7L474.8 29L477.1 31.5L478.9 33.4L480.6 35.3L483 38L484 39.1L487.1 42.8L487.3 43L490.5 46.8L491.3 47.8L493.5 50.6L495.4 53L496.5 54.4L499.3 58.3L499.5 58.5L502.1 62.1L503.6 64.3L504.7 65.9L507.2 69.7L507.7 70.6L509.6 73.6L511.9 77.4L514 81.2L516 85L516 85.1L517.8 88.9L519.5 92.7L520.1 94.3L521 96.5L522.4 100.3L523.6 104.2L524.2 106.4L524.7 108L525.6 111.8L526.3 115.6L526.8 119.5L527.1 123.3L527.3 127.1L527.3 130.9L527.1 134.8L526.7 138.6L526.1 142.4L525.4 146.2L524.5 150.1L524.2 150.9L523.4 153.9L522.2 157.7L520.7 161.5L520.1 163L519.2 165.4L517.5 169.2L516 172.2L515.6 173L513.6 176.8L511.9 179.8L511.4 180.7L509.1 184.5L507.7 186.6L506.7 188.3L504.1 192.1L503.6 192.8L501.4 196L499.5 198.5L498.5 199.8L495.6 203.6L495.4 203.9L492.5 207.4L491.3 208.9L489.2 211.3L487.1 213.6L485.8 215.1L483 218.2L482.3 218.9L478.9 222.5L478.6 222.7L474.8 226.6L470.8 230.4Z" fill="#ffc800"/>
<path d="M489.9 230.4L491.3 230.4L495.4 230.4L499.5 230.4L503.6 230.4L507.7 230.4L511.9 230.4L516 230.4L520.1 230.4L524.2 230.4L528.4 230.4L532.5 230.4L536.6 230.4L540.7 230.4L544.9 230.4L549 230.4L553.1 230.4L557.2 230.4L561.4 230.4L565.5 230.4L569.6 230.4L573.7 230.4L577.8 230.4L582 230.4L586.1 230.4L590.2 230.4L594.3 230.4L598.5 230.4L602.6 230.4L606.7 230.4L610.8 230.4L615 230.4L619.1 230.4L623.2 230.4L627.3 230.4L631.4 230.4L635.6 230.4L639.7 230.4L643.8 230.4L647.9 230.4L652.1 230.4L656.2 230.4L660.3 230.4L664.4 230.4L668.6 230.4L672.7 230.4L676.8 230.4L676.8 226.6L676.8 222.7L676.8 218.9L676.8 215.1L676.8 211.3L676.8 207.4L676.8 203.6L676.8 199.8L676.8 196L676.8 192.1L676.8 188.3L676.8 184.5L676.8 180.7L676.8 176.8L676.8 173L676.8 169.2L676.8 165.4L676.8 161.5L676.8 157.7L676.8 153.9L676.8 150.1L676.8 146.2L676.8 142.4L676.8 138.6L676.8 134.8L676.8 130.9L676.8 127.1L676.8 123.3L676.8 119.5L676.8 115.6L676.8 111.8L676.8 108L676.8 104.2L676.8 100.3L676.8 96.5L676.8 92.7L676.8 88.9L676.8 85L676.8 81.2L676.8 77.4L676.8 73.6L676.8 69.7L676.8 65.9L676.8 62.1L676.8 58.3L676.8 54.4L676.8 50.6L676.8 46.8L676.8 43L676.8 39.1L676.8 35.3L676.8 31.5L676.8 27.7L676.8 23.8L676.8 20L672.7 20L668.6 20L664.4 20L660.3 20L656.2 20L652.1 20L647.9 20L643.8 20L639.7 20L635.6 20L631.4 20L627.3 20L623.2 20L619.1 20L615 20L610.8 20L606.7 20L602.6 20L598.5 20L594.3 20L590.2 20L586.1 20L582 20L577.8 20L573.7 20L569.6 20L565.5 20L561.4 20L557.2 20L553.1 20L549 20L544.9 20L540.7 20L536.6 20L532.5 20L528.4 20L524.2 20L520.1 20L516 20L511.9 20L507.7 20L503.6 20L499.5 20L495.4 20L491.3 20L487.1 20L483.6 20L487.1 23.5L487.5 23.8L491.3 27.5L491.4 27.7L495.2 31.5L495.4 31.7L498.9 35.3L499.5 36L502.4 39.1L503.6 40.4L505.9 43L507.7 45L509.3 46.8L511.9 49.7L512.6 50.6L515.8 54.4L516 54.6L518.9 58.3L520.1 59.8L521.9 62.1L524.2 65.1L524.8 65.9L527.6 69.7L528.4 70.9L530.2 73.6L532.5 77L532.7 77.4L535.1 81.2L536.6 83.8L537.3 85L539.4 88.9L540.7 91.5L541.3 92.7L543.1 96.5L544.6 100.3L544.9 100.9L546 104.2L547.2 108L548.2 111.8L549 115.5L549 115.6L549.6 119.5L550 123.3L550.1 127.1L550.1 130.9L549.8 134.8L549.4 138.6L549 140.9L548.7 142.4L547.9 146.2L546.8 150.1L545.6 153.9L544.9 155.7L544.1 157.7L542.5 161.5L540.8 165.4L540.7 165.4L538.8 169.2L536.7 173L536.6 173.2L534.5 176.8L532.5 180.1L532.1 180.7L529.6 184.5L528.4 186.3L527 188.3L524.2 192.1L521.4 196L520.1 197.5L518.3 199.8L516 202.7L515.2 203.6L512 207.4L511.9 207.6L508.6 211.3L507.7 212.2L505.1 215.1L503.6 216.7L501.5 218.9L499.5 221L497.8 222.7L495.4 225.1L493.9 226.6L491.3 229.1L489.9 230.4Z" fill="#ff8200"/>
<path d="M509.1 230.4L511.9 230.4L516 230.4L520.1 230.4L524.2 230.4L528.4 230.4L532.5 230.4L536.6 230.4L540.7 230.4L544.9 230.4L549 230.4L553.1 230.4L557.2 230.4L561.4 230.4L565.5 230.4L569.6 230.4L573.7 230.4L577.8 230.4L582 230.4L586.1 230.4L590.2 230.4L594.3 230.4L598.5 230.4L602.6 230.4L606.7 230.4L610.8 230.4L615 230.4L619.1 230.4L623.2 230.4L627.3 230.4L631.4 230.4L635.6 230.4L639.7 230.4L643.8 230.4L647.9 230.4L652.1 230.4L656.2 230.4L660.3 230.4L664.4 230.4L668.6 230.4L672.7 230.4L676.8 230.4L676.8 226.6L676.8 222.7L676.8 218.9L676.8 215.1L676.8 211.3L676.8 207.4L676.8 203.6L676.8 199.8L676.8 196L676.8 192.1L676.8 188.3L676.8 184.5L676.8 180.7L676.8 176.8L676.8 173L676.8 169.2L676.8 165.4L676.8 161.5L676.8 157.7L676.8 153.9L676.8 150.1L676.8 146.2L676.8 142.4L676.8 138.6L676.8 134.8L676.8 130.9L676.8 127.1L676.8 123.3L676.8 119.5L676.8 115.6L676.8 111.8L676.8 108L676.8 104.2L676.8 100.3L676.8 96.5L676.8 92.7L676.8 88.9L676.8 85L676.8 81.2L676.8 77.4L676.8 73.6L676.8 69.7L676.8 65.9L676.8 62.1L676.8 58.3L676.8 54.4L676.8 50.6L676.8 46.8L676.8 43L676.8 39.1L676.8 35.3L676.8 31.5L676.8 27.7L676.8 23.8L676.8 20L672.7 20L668.6 20L664.4 20L660.3 20L656.2 20L652.1 20L647.9 20L643.8 20L639.7 20L635.6 20L631.4 20L627.3 20L623.2 20L619.1 20L615 20L610.8 20L606.7 20L602.6 20L598.5 20L594.3 20L590.2 20L586.1 20L582 20L577.8 20L573.7 20L569.6 20L565.5 20L561.4 20L557.2 20L553.1 20L549 20L544.9 20L540.7 20L536.6 20L532.5 20L528.4 20L524.2 20L520.1 20L516 20L511.9 20L507.7 20L503.6 20L501.7 20L503.6 21.8L505.9 23.8L507.7 25.6L510 27.7L511.9 29.5L514 31.5L516 33.5L517.9 35.3L520.1 37.5L521.8 39.1L524.2 41.6L525.5 43L528.4 45.9L529.2 46.8L532.5 50.2L532.9 50.6L536.4 54.4L536.6 54.7L539.8 58.3L540.7 59.3L543.2 62.1L544.9 64.1L546.4 65.9L549 69L549.5 69.7L552.6 73.6L553.1 74.3L555.4 77.4L557.2 79.9L558.2 81.2L560.7 85L561.4 86L563.1 88.9L565.4 92.7L565.5 92.9L567.4 96.5L569.2 100.3L569.6 101.2L570.9 104.2L572.3 108L573.4 111.8L573.7 113.2L574.3 115.6L575 119.5L575.4 123.3L575.5 127.1L575.4 130.9L575.1 134.8L574.4 138.6L573.7 141.8L573.6 142.4L572.5 146.2L571.2 150.1L569.7 153.9L569.6 154.1L568 157.7L566.1 161.5L565.5 162.6L564 165.4L561.7 169.2L561.4 169.8L559.3 173L557.2 176.1L556.8 176.8L554.1 180.7L553.1 182L551.3 184.5L549 187.4L548.3 188.3L545.3 192.1L544.9 192.6L542.1 196L540.7 197.6L538.8 199.8L536.6 202.3L535.5 203.6L532.5 206.9L532 207.4L528.4 211.3L524.8 215.1L524.2 215.6L521 218.9L520.1 219.8L517.1 222.7L516 223.9L513.2 226.6L511.9 227.8L509.1 230.4Z" fill="#ff3c00"/>
<path d="M528.3 230.4L528.4 230.4L532.5 230.4L536.6 230.4L540.7 230.4L544.9 230.4L549 230.4L553.1 230.4L557.2 230.4L561.4 230.4L565.5 230.4L569.6 230.4L573.7 230.4L577.8 230.4L582 230.4L586.1 230.4L590.2 230.4L594.3 230.4L598.5 230.4L602.6 230.4L606.7 230.4L610.8 230.4L615 230.4L619.1 230.4L623.2 230.4L627.3 230.4L631.4 230.4L635.6 230.4L639.7 230.4L643.8 230.4L647.9 230.4L652.1 230.4L656.2 230.4L660.3 230.4L664.4 230.4L668.6 230.4L672.7 230.4L676.8 230.4L676.8 226.6L676.8 222.7L676.8 218.9L676.8 215.1L676.8 211.3L676.8 207.4L676.8 203.6L676.8 199.8L676.8 196L676.8 192.1L676.8 188.3L676.8 184.5L676.8 180.7L676.8 176.8L676.8 173L676.8 169.2L676.8 165.4L676.8 161.5L676.8 157.7L676.8 153.9L676.8 150.1L676.8 146.2L676.8 142.4L676.8 138.6L676.8 134.8L676.8 130.9L676.8 127.1L676.8 123.3L676.8 119.5L676.8 115.6L676.8 111.8L676.8 108L676.8 104.2L676.8 100.3L676.8 96.5L676.8 92.7L676.8 88.9L676.8 85L676.8 81.2L676.8 77.4L676.8 73.6L676.8 69.7L676.8 65.9L676.8 62.1L676.8 58.3L676.8 54.4L676.8 50.6L676.8 46.8L676.8 43L676.8 39.1L676.8 35.3L676.8 31.5L676.8 27.7L676.8 23.8L676.8 20L672.7 20L668.6 20L664.4 20L660.3 20L656.2 20L652.1 20L647.9 20L643.8 20L639.7 20L635.6 20L631.4 20L627.3 20L623.2 20L619.1 20L615 20L610.8 20L606.7 20L602.6 20L598.5 20L594.3 20L590.2 20L586.1 20L582 20L577.8 20L573.7 20L569.6 20L565.5 20L561.4 20L557.2 20L553.1 20L549 20L544.9 20L540.7 20L536.6 20L532.5 20L528.4 20L524.2 20L520.5 20L524.2 23.3L524.9 23.8L528.4 26.9L529.3 27.7L532.5 30.5L533.6 31.5L536.6 34.2L537.9 35.3L540.7 37.9L542.1 39.1L544.9 41.7L546.3 43L549 45.5L550.4 46.8L553.1 49.4L554.4 50.6L557.2 53.3L558.4 54.4L561.4 57.3L562.3 58.3L565.5 61.4L566.2 62.1L569.6 65.6L569.9 65.9L573.5 69.7L573.7 69.9L577.1 73.6L577.8 74.4L580.5 77.4L582 79.2L583.7 81.2L586.1 84.1L586.8 85L589.7 88.9L590.2 89.6L592.4 92.7L594.3 95.6L594.9 96.5L597.2 100.3L598.5 102.9L599.1 104.2L600.8 108L602.2 111.8L602.6 113.2L603.3 115.6L604 119.5L604.4 123.3L604.5 127.1L604.3 130.9L603.7 134.8L602.8 138.6L602.6 139.2L601.6 142.4L600.1 146.2L598.5 149.9L598.4 150.1L596.4 153.9L594.3 157.5L594.2 157.7L591.8 161.5L590.2 163.9L589.2 165.4L586.5 169.2L586.1 169.7L583.6 173L582 175.1L580.6 176.8L577.8 180.1L577.4 180.7L574.1 184.5L573.7 184.9L570.8 188.3L569.6 189.6L567.3 192.1L565.5 194.1L563.7 196L561.4 198.5L560.1 199.8L557.2 202.7L556.4 203.6L553.1 206.9L552.6 207.4L549 211L548.7 211.3L544.9 215L544.8 215.1L540.8 218.9L540.7 219L536.7 222.7L536.6 222.8L532.6 226.6L532.5 226.6L528.4 230.4L528.3 230.4Z" fill="#f20c00"/>
<path d="M547.6 230.4L549 230.4L553.1 230.4L557.2 230.4L561.4 230.4L565.5 230.4L569.6 230.4L573.7 230.4L577.8 230.4L582 230.4L586.1 230.4L590.2 230.4L594.3 230.4L598.5 230.4L602.6 230.4L606.7 230.4L610.8 230.4L615 230.4L619.1 230.4L623.2 230.4L627.3 230.4L631.4 230.4L635.6 230.4L639.7 230.4L643.8 230.4L647.9 230.4L652.1 230.4L656.2 230.4L660.3 230.4L664.4 230.4L668.6 230.4L672.7 230.4L676.8 230.4L676.8 226.6L676.8 222.7L676.8 218.9L676.8 215.1L676.8 211.3L676.8 207.4L676.8 203.6L676.8 199.8L676.8 196L676.8 192.1L676.8 188.3L676.8 184.5L676.8 180.7L676.8 176.8L676.8 173L676.8 169.2L676.8 165.4L676.8 161.5L676.8 157.7L676.8 153.9L676.8 150.1L676.8 146.2L676.8 142.4L676.8 138.6L676.8 134.8L676.8 130.9L676.8 127.1L676.8 123.3L676.8 119.5L676.8 115.6L676.8 111.8L676.8 108L676.8 104.2L676.8 100.3L676.8 96.5L676.8 92.7L676.8 88.9L676.8 85L676.8 81.2L676.8 77.4L676.8 73.6L676.8 69.7L676.8 65.9L676.8 62.1L676.8 58.3L676.8 54.4L676.8 50.6L676.8 46.8L676.8 43L676.8 39.1L676.8 35.3L676.8 31.5L676.8 27.7L676.8 23.8L676.8 20L672.7 20L668.6 20L664.4 20L660.3 20L656.2 20L652.1 20L647.9 20L643.8 20L639.7 20L635.6 20L631.4 20L627.3 20L623.2 20L619.1 20L615 20L610.8 20L606.7 20L602.6 20L598.5 20L594.3 20L590.2 20L586.1 20L582 20L577.8 20L573.7 20L569.6 20L565.5 20L561.4 20L557.2 20L553.1 20L549 20L544.9 20L540.7 20L539.9 20L540.7 20.7L544.7 23.8L544.9 24L549 27.3L549.4 27.7L553.1 30.6L554.2 31.5L557.2 34L558.9 35.3L561.4 37.3L563.6 39.1L565.5 40.7L568.3 43L569.6 44L573 46.8L573.7 47.4L577.6 50.6L577.8 50.8L582 54.2L582.2 54.4L586.1 57.7L586.8 58.3L590.2 61.1L591.4 62.1L594.3 64.6L595.8 65.9L598.5 68.2L600.3 69.7L602.6 71.8L604.6 73.6L606.7 75.5L608.8 77.4L610.8 79.3L612.9 81.2L615 83.2L616.8 85L619.1 87.4L620.6 88.9L623.2 91.7L624.1 92.7L627.3 96.5L630.3 100.3L631.4 102.1L632.9 104.2L635.1 108L635.6 109.1L636.9 111.8L638.2 115.6L639 119.5L639.4 123.3L639.3 127.1L638.7 130.9L637.7 134.8L636.2 138.6L635.6 139.8L634.3 142.4L632.1 146.2L631.4 147.3L629.6 150.1L627.3 153.2L626.9 153.9L623.9 157.7L623.2 158.5L620.7 161.5L619.1 163.3L617.3 165.4L615 167.8L613.7 169.2L610.8 172.2L610.1 173L606.7 176.4L606.3 176.8L602.6 180.5L602.4 180.7L598.5 184.5L594.5 188.3L594.3 188.5L590.5 192.1L590.2 192.4L586.3 196L586.1 196.2L582.2 199.8L582 200L578 203.6L577.8 203.8L573.8 207.4L573.7 207.5L569.6 211.2L569.5 211.3L565.5 214.9L565.2 215.1L561.4 218.5L560.9 218.9L557.2 222.1L556.5 222.7L553.1 225.7L552.1 226.6L549 229.2L547.6 230.4Z" fill="#e10000"/>
<path d="M566.9 230.4L569.6 230.4L573.7 230.4L577.8 230.4L582 230.4L586.1 230.4L590.2 230.4L594.3 230.4L598.5 230.4L602.6 230.4L606.7 230.4L610.8 230.4L615 230.4L619.1 230.4L623.2 230.4L627.3 230.4L631.4 230.4L635.6 230.4L639.7 230.4L643.8 230.4L647.9 230.4L652.1 230.4L656.2 230.4L660.3 230.4L664.4 230.4L668.6 230.4L672.7 230.4L676.8 230.4L676.8 226.6L676.8 222.7L676.8 218.9L676.8 215.1L676.8 211.3L676.8 207.4L676.8 203.6L676.8 199.8L676.8 196L676.8 192.1L676.8 188.3L676.8 184.5L676.8 180.7L676.8 176.8L676.8 173L676.8 169.2L676.8 165.4L676.8 161.5L676.8 157.7L676.8 153.9L676.8 150.1L676.8 146.2L676.8 142.4L676.8 141L675.6 142.4L672.7 145.3L671.8 146.2L668.6 149.2L667.6 150.1L664.4 152.8L663.2 153.9L660.3 156.3L658.6 157.7L656.2 159.7L653.9 161.5L652.1 163L649.2 165.4L647.9 166.3L644.3 169.2L643.8 169.6L639.7 172.8L639.4 173L635.6 176L634.6 176.8L631.4 179.2L629.7 180.7L627.3 182.5L624.8 184.5L623.2 185.7L619.9 188.3L619.1 188.9L615 192.1L615 192.2L610.8 195.4L610.1 196L606.7 198.6L605.3 199.8L602.6 201.9L600.4 203.6L598.5 205.2L595.6 207.4L594.3 208.5L590.8 211.3L590.2 211.8L586.1 215.1L586 215.1L582 218.3L581.3 218.9L577.8 221.6L576.5 222.7L573.7 224.9L571.7 226.6L569.6 228.2L566.9 230.4ZM673.4 100.3L676.8 103.5L676.8 100.3L676.8 96.5L676.8 92.7L676.8 88.9L676.8 85L676.8 81.2L676.8 77.4L676.8 73.6L676.8 69.7L676.8 65.9L676.8 62.1L676.8 58.3L676.8 54.4L676.8 50.6L676.8 46.8L676.8 43L676.8 39.1L676.8 35.3L676.8 31.5L676.8 27.7L676.8 23.8L676.8 20L672.7 20L668.6 20L664.4 20L660.3 20L656.2 20L652.1 20L647.9 20L643.8 20L639.7 20L635.6 20L631.4 20L627.3 20L623.2 20L619.1 20L615 20L610.8 20L606.7 20L602.6 20L598.5 20L594.3 20L590.2 20L586.1 20L582 20L577.8 20L573.7 20L569.6 20L565.5 20L561.4 20L560.1 20L561.4 21L565.3 23.8L565.5 24L569.6 27L570.6 27.7L573.7 29.9L575.9 31.5L577.8 32.9L581.2 35.3L582 35.9L586.1 38.8L586.6 39.1L590.2 41.7L592 43L594.3 44.6L597.4 46.8L598.5 47.5L602.6 50.4L602.9 50.6L606.7 53.3L608.4 54.4L610.8 56.1L614 58.3L615 58.9L619.1 61.7L619.6 62.1L623.2 64.5L625.3 65.9L627.3 67.3L630.9 69.7L631.4 70.1L635.6 72.9L636.6 73.6L639.7 75.7L642.2 77.4L643.8 78.5L647.8 81.2L647.9 81.3L652.1 84.2L653.4 85L656.2 87.1L658.8 88.9L660.3 90L663.9 92.7L664.4 93.1L668.6 96.3L668.9 96.5L672.7 99.7L673.4 100.3Z" fill="#cd0000"/>
<path d="M586.3 230.4L590.2 230.4L594.3 230.4L598.5 230.4L602.6 230.4L606.7 230.4L610.8 230.4L615 230.4L619.1 230.4L623.2 230.4L627.3 230.4L631.4 230.4L635.6 230.4L639.7 230.4L643.8 230.4L647.9 230.4L652.1 230.4L656.2 230.4L660.3 230.4L664.4 230.4L668.6 230.4L672.7 230.4L676.8 230.4L676.8 226.6L676.8 222.7L676.8 218.9L676.8 215.1L676.8 211.3L676.8 207.4L676.8 203.6L676.8 199.8L676.8 196L676.8 192.1L676.8 188.3L676.8 184.5L676.8 180.7L676.8 176.8L676.8 173L676.8 170.9L673 173L672.7 173.2L668.6 175.5L666.2 176.8L664.4 177.9L660.3 180.3L659.7 180.7L656.2 182.7L653.4 184.5L652.1 185.3L647.9 187.8L647.2 188.3L643.8 190.4L641.1 192.1L639.7 193.1L635.6 195.7L635.2 196L631.4 198.5L629.5 199.8L627.3 201.2L623.8 203.6L623.2 204L619.1 206.8L618.2 207.4L615 209.7L612.7 211.3L610.8 212.6L607.3 215.1L606.7 215.5L602.6 218.5L602 218.9L598.5 221.5L596.7 222.7L594.3 224.5L591.5 226.6L590.2 227.5L586.3 230.4ZM676.4 73.6L676.8 73.7L676.8 73.6L676.8 69.7L676.8 65.9L676.8 62.1L676.8 58.3L676.8 54.4L676.8 50.6L676.8 46.8L676.8 43L676.8 39.1L676.8 35.3L676.8 31.5L676.8 27.7L676.8 23.8L676.8 20L672.7 20L668.6 20L664.4 20L660.3 20L656.2 20L652.1 20L647.9 20L643.8 20L639.7 20L635.6 20L631.4 20L627.3 20L623.2 20L619.1 20L615 20L610.8 20L606.7 20L602.6 20L598.5 20L594.3 20L590.2 20L586.1 20L582 20L581 20L582 20.6L586.1 23.3L586.9 23.8L590.2 26L592.8 27.7L594.3 28.6L598.5 31.2L598.8 31.5L602.6 33.8L605 35.3L606.7 36.4L610.8 38.9L611.3 39.1L615 41.4L617.7 43L619.1 43.8L623.2 46.2L624.2 46.8L627.3 48.6L631 50.6L631.4 50.9L635.6 53.2L637.9 54.4L639.7 55.4L643.8 57.6L645 58.3L647.9 59.8L652.1 61.9L652.4 62.1L656.2 64L660.1 65.9L660.3 66L664.4 68L668.1 69.7L668.6 70L672.7 71.9L676.4 73.6Z" fill="#bc0000"/>
<path d="M605.7 230.4L606.7 230.4L610.8 230.4L615 230.4L619.1 230.4L623.2 230.4L627.3 230.4L631.4 230.4L635.6 230.4L639.7 230.4L643.8 230.4L647.9 230.4L652.1 230.4L656.2 230.4L660.3 230.4L664.4 230.4L668.6 230.4L672.7 230.4L676.8 230.4L676.8 226.6L676.8 222.7L676.8 218.9L676.8 215.1L676.8 211.3L676.8 207.4L676.8 203.6L676.8 199.8L676.8 196L676.8 192.1L676.8 188.4L672.7 190.4L669.3 192.1L668.6 192.5L664.4 194.6L662 196L660.3 196.8L656.2 199.1L654.9 199.8L652.1 201.4L648.2 203.6L647.9 203.7L643.8 206.1L641.6 207.4L639.7 208.6L635.6 211.1L635.3 211.3L631.4 213.6L629.1 215.1L627.3 216.2L623.2 218.8L623.1 218.9L619.1 221.5L617.2 222.7L615 224.2L611.4 226.6L610.8 226.9L606.7 229.7L605.7 230.4ZM672.2 54.4L672.7 54.6L676.8 56.3L676.8 54.4L676.8 50.6L676.8 46.8L676.8 43L676.8 39.1L676.8 35.3L676.8 31.5L676.8 27.7L676.8 23.8L676.8 20L672.7 20L668.6 20L664.4 20L660.3 20L656.2 20L652.1 20L647.9 20L643.8 20L639.7 20L635.6 20L631.4 20L627.3 20L623.2 20L619.1 20L615 20L610.8 20L606.7 20L602.9 20L606.7 22.2L609.5 23.8L610.8 24.6L615 26.9L616.4 27.7L619.1 29.2L623.2 31.4L623.4 31.5L627.3 33.6L630.6 35.3L631.4 35.7L635.6 37.8L638.2 39.1L639.7 39.9L643.8 41.9L646 43L647.9 43.9L652.1 45.8L654.3 46.8L656.2 47.7L660.3 49.5L663 50.6L664.4 51.2L668.6 53L672.2 54.4Z" fill="#ac0000"/>
<path d="M625.1 230.4L627.3 230.4L631.4 230.4L635.6 230.4L639.7 230.4L643.8 230.4L647.9 230.4L652.1 230.4L656.2 230.4L660.3 230.4L664.4 230.4L668.6 230.4L672.7 230.4L676.8 230.4L676.8 226.6L676.8 222.7L676.8 218.9L676.8 215.1L676.8 211.3L676.8 207.4L676.8 203.6L676.8 202.1L673.7 203.6L672.7 204.1L668.6 206.1L665.9 207.4L664.4 208.2L660.3 210.3L658.5 211.3L656.2 212.5L652.1 214.7L651.4 215.1L647.9 217L644.5 218.9L643.8 219.3L639.7 221.7L637.8 222.7L635.6 224.1L631.4 226.5L631.4 226.6L627.3 229L625.1 230.4ZM668 39.1L668.6 39.3L672.7 41L676.8 42.5L676.8 39.1L676.8 35.3L676.8 31.5L676.8 27.7L676.8 23.8L676.8 20L672.7 20L668.6 20L664.4 20L660.3 20L656.2 20L652.1 20L647.9 20L643.8 20L639.7 20L635.6 20L631.4 20L627.3 20L625.9 20L627.3 20.7L631.4 22.8L633.5 23.8L635.6 24.8L639.7 26.8L641.5 27.7L643.8 28.8L647.9 30.6L649.8 31.5L652.1 32.5L656.2 34.3L658.6 35.3L660.3 36L664.4 37.7L668 39.1Z" fill="#9e0000"/>
<path d="M644.6 230.4L647.9 230.4L652.1 230.4L656.2 230.4L660.3 230.4L664.4 230.4L668.6 230.4L672.7 230.4L676.8 230.4L676.8 226.6L676.8 222.7L676.8 218.9L676.8 215.1L676.8 213.8L674.2 215.1L672.7 215.8L668.6 217.8L666.3 218.9L664.4 219.8L660.3 221.9L658.8 222.7L656.2 224.1L652.1 226.3L651.6 226.6L647.9 228.5L644.6 230.4ZM668.5 27.7L668.6 27.7L672.7 29.3L676.8 30.8L676.8 27.7L676.8 23.8L676.8 20L672.7 20L668.6 20L664.4 20L660.3 20L656.2 20L652.1 20L650.1 20L652.1 20.9L656.2 22.6L659 23.8L660.3 24.4L664.4 26L668.5 27.7Z" fill="#910000"/>
<path d="M664.2 230.4L664.4 230.4L668.6 230.4L672.7 230.4L676.8 230.4L676.8 226.6L676.8 224.2L672.7 226.2L671.9 226.6L668.6 228.2L664.4 230.3L664.2 230.4ZM675.7 20L676.8 20.4L676.8 20L675.7 20Z" fill="#840000"/>
</g>
<path d="M392.3 20.0H676.8" stroke="#2a1010" stroke-opacity="0.85" stroke-width="0.8" fill="none"/>
<path d="M676.8 20.0V230.4" stroke="#400" stroke-opacity="0.35" stroke-width="1" fill="none"/>
<text transform="translate(392.3 243.5) scale(0.94 1)" font-size="11.0" text-anchor="middle" font-family="Liberation Sans, sans-serif">0,5</text>
<path d="M392.3 20.0v1.6M392.3 230.4v-1.6" stroke="#222" stroke-opacity="0.45" stroke-width="0.8"/>
<text transform="translate(420.8 243.5) scale(0.94 1)" font-size="11.0" text-anchor="middle" font-family="Liberation Sans, sans-serif">1,0</text>
<path d="M420.8 20.0v1.6M420.8 230.4v-1.6" stroke="#222" stroke-opacity="0.45" stroke-width="0.8"/>
<text transform="translate(449.2 243.5) scale(0.94 1)" font-size="11.0" text-anchor="middle" font-family="Liberation Sans, sans-serif">1,5</text>
<path d="M449.2 20.0v1.6M449.2 230.4v-1.6" stroke="#222" stroke-opacity="0.45" stroke-width="0.8"/>
<text transform="translate(477.6 243.5) scale(0.94 1)" font-size="11.0" text-anchor="middle" font-family="Liberation Sans, sans-serif">2,0</text>
<path d="M477.6 20.0v1.6M477.6 230.4v-1.6" stroke="#222" stroke-opacity="0.45" stroke-width="0.8"/>
<text transform="translate(506.1 243.5) scale(0.94 1)" font-size="11.0" text-anchor="middle" font-family="Liberation Sans, sans-serif">2,5</text>
<path d="M506.1 20.0v1.6M506.1 230.4v-1.6" stroke="#222" stroke-opacity="0.45" stroke-width="0.8"/>
<text transform="translate(534.5 243.5) scale(0.94 1)" font-size="11.0" text-anchor="middle" font-family="Liberation Sans, sans-serif">3,0</text>
<path d="M534.5 20.0v1.6M534.5 230.4v-1.6" stroke="#222" stroke-opacity="0.45" stroke-width="0.8"/>
<text transform="translate(563.0 243.5) scale(0.94 1)" font-size="11.0" text-anchor="middle" font-family="Liberation Sans, sans-serif">3,5</text>
<path d="M563.0 20.0v1.6M563.0 230.4v-1.6" stroke="#222" stroke-opacity="0.45" stroke-width="0.8"/>
<text transform="translate(591.4 243.5) scale(0.94 1)" font-size="11.0" text-anchor="middle" font-family="Liberation Sans, sans-serif">4,0</text>
<path d="M591.4 20.0v1.6M591.4 230.4v-1.6" stroke="#222" stroke-opacity="0.45" stroke-width="0.8"/>
<text transform="translate(619.9 243.5) scale(0.94 1)" font-size="11.0" text-anchor="middle" font-family="Liberation Sans, sans-serif">4,5</text>
<path d="M619.9 20.0v1.6M619.9 230.4v-1.6" stroke="#222" stroke-opacity="0.45" stroke-width="0.8"/>
<text transform="translate(648.3 243.5) scale(0.94 1)" font-size="11.0" text-anchor="middle" font-family="Liberation Sans, sans-serif">5,0</text>
<path d="M648.3 20.0v1.6M648.3 230.4v-1.6" stroke="#222" stroke-opacity="0.45" stroke-width="0.8"/>
<text transform="translate(676.8 243.5) scale(0.94 1)" font-size="11.0" text-anchor="middle" font-family="Liberation Sans, sans-serif">5,5</text>
<path d="M676.8 20.0v1.6M676.8 230.4v-1.6" stroke="#222" stroke-opacity="0.45" stroke-width="0.8"/>
<text transform="translate(388.8 234.4) scale(0.94 1)" font-size="11.0" text-anchor="end" font-family="Liberation Sans, sans-serif">0,00</text>
<path d="M676.8 230.4h-1.8" stroke="#222" stroke-opacity="0.7" stroke-width="0.8"/>
<text transform="translate(388.8 213.4) scale(0.94 1)" font-size="11.0" text-anchor="end" font-family="Liberation Sans, sans-serif">0,01</text>
<path d="M676.8 209.4h-1.8" stroke="#222" stroke-opacity="0.7" stroke-width="0.8"/>
<text transform="translate(388.8 192.3) scale(0.94 1)" font-size="11.0" text-anchor="end" font-family="Liberation Sans, sans-serif">0,02</text>
<path d="M676.8 188.3h-1.8" stroke="#222" stroke-opacity="0.7" stroke-width="0.8"/>
<text transform="translate(388.8 171.3) scale(0.94 1)" font-size="11.0" text-anchor="end" font-family="Liberation Sans, sans-serif">0,03</text>
<path d="M676.8 167.3h-1.8" stroke="#222" stroke-opacity="0.7" stroke-width="0.8"/>
<text transform="translate(388.8 150.2) scale(0.94 1)" font-size="11.0" text-anchor="end" font-family="Liberation Sans, sans-serif">0,04</text>
<path d="M676.8 146.2h-1.8" stroke="#222" stroke-opacity="0.7" stroke-width="0.8"/>
<text transform="translate(388.8 129.2) scale(0.94 1)" font-size="11.0" text-anchor="end" font-family="Liberation Sans, sans-serif">0,05</text>
<path d="M676.8 125.2h-1.8" stroke="#222" stroke-opacity="0.7" stroke-width="0.8"/>
<text transform="translate(388.8 108.2) scale(0.94 1)" font-size="11.0" text-anchor="end" font-family="Liberation Sans, sans-serif">0,06</text>
<path d="M676.8 104.2h-1.8" stroke="#222" stroke-opacity="0.7" stroke-width="0.8"/>
<text transform="translate(388.8 87.1) scale(0.94 1)" font-size="11.0" text-anchor="end" font-family="Liberation Sans, sans-serif">0,07</text>
<path d="M676.8 83.1h-1.8" stroke="#222" stroke-opacity="0.7" stroke-width="0.8"/>
<text transform="translate(388.8 66.1) scale(0.94 1)" font-size="11.0" text-anchor="end" font-family="Liberation Sans, sans-serif">0,08</text>
<path d="M676.8 62.1h-1.8" stroke="#222" stroke-opacity="0.7" stroke-width="0.8"/>
<text transform="translate(388.8 45.0) scale(0.94 1)" font-size="11.0" text-anchor="end" font-family="Liberation Sans, sans-serif">0,09</text>
<path d="M676.8 41.0h-1.8" stroke="#222" stroke-opacity="0.7" stroke-width="0.8"/>
<text transform="translate(388.8 24.0) scale(0.94 1)" font-size="11.0" text-anchor="end" font-family="Liberation Sans, sans-serif">0,10</text>
<path d="M676.8 20.0h-1.8" stroke="#222" stroke-opacity="0.7" stroke-width="0.8"/>
<text transform="translate(535.8 261.1) scale(0.94 1)" font-size="12.5" text-anchor="middle" font-family="Liberation Sans, sans-serif">feathers</text>
<text transform="translate(354 125) rotate(-90) scale(1 0.94)" font-size="11.6" text-anchor="middle" font-family="Liberation Sans, sans-serif">KH2PO4</text>
<text x="354.8" y="13.1" font-size="14.6" font-weight="bold" font-family="Liberation Sans, sans-serif">b</text>
<circle cx="420.8" cy="41.0" r="2.9" fill="none" stroke="#1010dc" stroke-width="1.25"/>
<circle cx="534.5" cy="41.0" r="2.9" fill="none" stroke="#1010dc" stroke-width="1.25"/>
<circle cx="648.3" cy="41.0" r="2.9" fill="none" stroke="#1010dc" stroke-width="1.25"/>
<circle cx="420.8" cy="125.2" r="2.9" fill="none" stroke="#1010dc" stroke-width="1.25"/>
<circle cx="534.5" cy="125.2" r="2.9" fill="none" stroke="#1010dc" stroke-width="1.25"/>
<circle cx="648.3" cy="125.2" r="2.9" fill="none" stroke="#1010dc" stroke-width="1.25"/>
<circle cx="420.8" cy="209.4" r="2.9" fill="none" stroke="#1010dc" stroke-width="1.25"/>
<circle cx="534.5" cy="209.4" r="2.9" fill="none" stroke="#1010dc" stroke-width="1.25"/>
<circle cx="648.3" cy="209.4" r="2.9" fill="none" stroke="#1010dc" stroke-width="1.25"/>
<rect x="401.3" y="109.8" width="15.8" height="9.3" fill="#800000" stroke="#111" stroke-opacity="0.75" stroke-width="0.8"/>
<text transform="translate(422.6 117.9) scale(0.94 1)" font-size="11.0" font-family="Liberation Sans, sans-serif">&gt; 6,4</text>
<rect x="401.3" y="122.3" width="15.8" height="9.3" fill="#b00000" stroke="#111" stroke-opacity="0.75" stroke-width="0.8"/>
<text transform="translate(422.6 130.4) scale(0.94 1)" font-size="11.0" font-family="Liberation Sans, sans-serif">&lt; 6,3</text>
<rect x="401.3" y="134.8" width="15.8" height="9.3" fill="#eb0000" stroke="#111" stroke-opacity="0.75" stroke-width="0.8"/>
<text transform="translate(422.6 142.8) scale(0.94 1)" font-size="11.0" font-family="Liberation Sans, sans-serif">&lt; 6,1</text>
<rect x="401.3" y="147.2" width="15.8" height="9.3" fill="#ff7800" stroke="#111" stroke-opacity="0.75" stroke-width="0.8"/>
<text transform="translate(422.6 155.3) scale(0.94 1)" font-size="11.0" font-family="Liberation Sans, sans-serif">&lt; 5,9</text>
<rect x="401.3" y="159.7" width="15.8" height="9.3" fill="#ffff00" stroke="#111" stroke-opacity="0.75" stroke-width="0.8"/>
<text transform="translate(422.6 167.8) scale(0.94 1)" font-size="11.0" font-family="Liberation Sans, sans-serif">&lt; 5,7</text>
<rect x="401.3" y="172.2" width="15.8" height="9.3" fill="#64ff14" stroke="#111" stroke-opacity="0.75" stroke-width="0.8"/>
<text transform="translate(422.6 180.3) scale(0.94 1)" font-size="11.0" font-family="Liberation Sans, sans-serif">&lt; 5,5</text>
<rect x="401.3" y="184.6" width="15.8" height="9.3" fill="#0acd14" stroke="#111" stroke-opacity="0.75" stroke-width="0.8"/>
<text transform="translate(422.6 192.7) scale(0.94 1)" font-size="11.0" font-family="Liberation Sans, sans-serif">&lt; 5,3</text>
<rect x="401.3" y="197.1" width="15.8" height="9.3" fill="#109628" stroke="#111" stroke-opacity="0.75" stroke-width="0.8"/>
<text transform="translate(422.6 205.2) scale(0.94 1)" font-size="11.0" font-family="Liberation Sans, sans-serif">&lt; 5,1</text>
<rect x="401.3" y="209.6" width="15.8" height="9.3" fill="#086048" stroke="#111" stroke-opacity="0.75" stroke-width="0.8"/>
<text transform="translate(422.6 217.7) scale(0.94 1)" font-size="11.0" font-family="Liberation Sans, sans-serif">&lt; 4,9</text>
<clipPath id="cpc"><rect x="45.2" y="282.3" width="281.90000000000003" height="210.09999999999997"/></clipPath>
<g clip-path="url(#cpc)" shape-rendering="geometricPrecision">
<rect x="45.2" y="282.3" width="281.90000000000003" height="210.09999999999997" fill="#086048"/>
<path d="M45.2 492.4L49.3 492.4L53.4 492.4L57.5 492.4L61.5 492.4L65.6 492.4L69.7 492.4L73.8 492.4L77.9 492.4L82 492.4L86.1 492.4L90.1 492.4L94.2 492.4L98.3 492.4L102.4 492.4L106.5 492.4L110.6 492.4L114.7 492.4L118.7 492.4L122.8 492.4L126.9 492.4L131 492.4L135.1 492.4L139.2 492.4L143.3 492.4L147.3 492.4L151.4 492.4L155.5 492.4L159.6 492.4L163.7 492.4L167.8 492.4L171.9 492.4L175.9 492.4L180 492.4L184.1 492.4L188.2 492.4L192.3 492.4L196.4 492.4L200.4 492.4L204.5 492.4L208.6 492.4L212.7 492.4L216.8 492.4L220.9 492.4L225 492.4L229 492.4L233.1 492.4L237.2 492.4L241.3 492.4L245.4 492.4L249.5 492.4L253.6 492.4L257.6 492.4L261.7 492.4L265.8 492.4L269.9 492.4L274 492.4L278.1 492.4L282.2 492.4L286.2 492.4L290.3 492.4L294.4 492.4L298.5 492.4L302.6 492.4L306.7 492.4L310.8 492.4L314.8 492.4L318.9 492.4L323 492.4L327.1 492.4L327.1 488.6L327.1 484.8L327.1 480.9L327.1 477.1L327.1 473.3L327.1 469.5L327.1 465.7L327.1 461.8L327.1 458L327.1 454.2L327.1 450.4L327.1 446.6L327.1 442.7L327.1 438.9L327.1 435.1L327.1 431.3L327.1 428.2L323 429.2L318.9 430.1L314.8 430.9L312.3 431.3L310.8 431.5L306.7 432L302.6 432.4L298.5 432.6L294.4 432.8L290.3 432.8L286.2 432.8L282.2 432.6L278.1 432.3L274 431.9L269.9 431.4L269.3 431.3L265.8 430.7L261.7 429.9L257.6 429L253.6 428L251.8 427.5L249.5 426.7L245.4 425.3L241.3 423.8L240.9 423.6L237.2 421.9L233.1 419.9L232.9 419.8L229 417.5L226.7 416L225 414.8L221.6 412.2L220.9 411.5L217.6 408.4L216.8 407.4L214.5 404.5L212.7 401.7L212.1 400.7L210.4 396.9L209.4 393.1L209 389.3L209.2 385.4L210 381.6L211.4 377.8L212.7 375.5L213.6 374L216.5 370.2L216.8 369.8L220.2 366.3L220.9 365.7L224.9 362.5L225 362.5L229 359.8L230.8 358.7L233.1 357.5L237.2 355.4L238.4 354.9L241.3 353.7L245.4 352.2L248.6 351.1L249.5 350.8L253.6 349.6L257.6 348.6L261.7 347.7L264.3 347.2L265.8 347L269.9 346.4L274 345.9L278.1 345.6L282.2 345.3L286.2 345.2L290.3 345.1L294.4 345.2L298.5 345.4L302.6 345.7L306.7 346.1L310.8 346.7L314.4 347.2L314.8 347.3L318.9 348.1L323 349.1L327.1 350.1L327.1 347.2L327.1 343.4L327.1 339.6L327.1 335.8L327.1 332L327.1 328.1L327.1 324.3L327.1 320.5L327.1 316.7L327.1 312.9L327.1 309L327.1 305.2L327.1 301.4L327.1 297.6L327.1 293.8L327.1 289.9L327.1 286.1L327.1 282.3L323 282.3L318.9 282.3L314.8 282.3L310.8 282.3L306.7 282.3L302.6 282.3L298.5 282.3L294.4 282.3L290.3 282.3L286.2 282.3L282.2 282.3L278.1 282.3L274 282.3L269.9 282.3L265.8 282.3L261.7 282.3L257.6 282.3L253.6 282.3L249.5 282.3L245.4 282.3L241.3 282.3L237.2 282.3L233.1 282.3L229 282.3L225 282.3L220.9 282.3L216.8 282.3L212.7 282.3L208.6 282.3L204.5 282.3L200.4 282.3L196.4 282.3L192.3 282.3L188.2 282.3L184.1 282.3L180 282.3L175.9 282.3L171.9 282.3L167.8 282.3L163.7 282.3L159.6 282.3L155.5 282.3L151.4 282.3L147.3 282.3L143.3 282.3L139.2 282.3L135.1 282.3L131 282.3L126.9 282.3L122.8 282.3L118.7 282.3L114.7 282.3L110.6 282.3L106.5 282.3L102.4 282.3L98.3 282.3L94.2 282.3L90.1 282.3L86.1 282.3L82 282.3L77.9 282.3L73.8 282.3L69.7 282.3L65.6 282.3L61.5 282.3L57.5 282.3L53.4 282.3L49.3 282.3L45.2 282.3L45.2 286.1L45.2 289.9L45.2 293.8L45.2 297.6L45.2 301.4L45.2 305.2L45.2 309L45.2 312.9L45.2 316.7L45.2 320.5L45.2 324.3L45.2 328.1L45.2 332L45.2 335.8L45.2 339.6L45.2 343.4L45.2 347.2L45.2 351.1L45.2 354.9L45.2 358.7L45.2 362.5L45.2 366.3L45.2 370.2L45.2 374L45.2 377.8L45.2 381.6L45.2 385.4L45.2 389.3L45.2 393.1L45.2 396.9L45.2 400.7L45.2 404.5L45.2 408.4L45.2 412.2L45.2 416L45.2 419.8L45.2 423.6L45.2 427.5L45.2 431.3L45.2 435.1L45.2 438.9L45.2 442.7L45.2 446.6L45.2 450.4L45.2 454.2L45.2 458L45.2 461.8L45.2 465.7L45.2 469.5L45.2 473.3L45.2 477.1L45.2 480.9L45.2 484.8L45.2 488.6L45.2 492.4Z" fill="#109628"/>
<path d="M45.2 492.4L49.3 492.4L53.4 492.4L57.5 492.4L61.5 492.4L65.6 492.4L69.7 492.4L73.8 492.4L77.9 492.4L82 492.4L86.1 492.4L90.1 492.4L94.2 492.4L98.3 492.4L102.4 492.4L106.5 492.4L110.6 492.4L114.7 492.4L118.7 492.4L122.8 492.4L126.9 492.4L131 492.4L135.1 492.4L139.2 492.4L143.3 492.4L147.3 492.4L151.4 492.4L155.5 492.4L159.6 492.4L163.7 492.4L167.8 492.4L171.9 492.4L175.9 492.4L180 492.4L184.1 492.4L188.2 492.4L192.3 492.4L196.4 492.4L200.4 492.4L204.5 492.4L208.6 492.4L212.7 492.4L216.8 492.4L220.9 492.4L225 492.4L229 492.4L233.1 492.4L237.2 492.4L241.3 492.4L245.4 492.4L249.5 492.4L253.6 492.4L257.6 492.4L261.7 492.4L265.8 492.4L269.9 492.4L274 492.4L278.1 492.4L282.2 492.4L286.2 492.4L290.3 492.4L294.4 492.4L298.5 492.4L302.6 492.4L306.7 492.4L310.8 492.4L314.8 492.4L318.9 492.4L323 492.4L327.1 492.4L327.1 488.6L327.1 484.8L327.1 480.9L327.1 477.1L327.1 473.3L327.1 469.5L327.1 465.7L327.1 461.8L327.1 459.8L323 460.3L318.9 460.8L314.8 461.3L310.8 461.6L307.6 461.8L306.7 461.9L302.6 462.1L298.5 462.3L294.4 462.3L290.3 462.4L286.2 462.3L282.2 462.2L278.1 462L275.2 461.8L274 461.8L269.9 461.4L265.8 461L261.7 460.6L257.6 460L253.6 459.4L249.5 458.8L245.4 458L245.3 458L241.3 457.2L237.2 456.3L233.1 455.3L229 454.2L225 453L220.9 451.7L216.8 450.4L212.7 448.8L208.6 447.2L207 446.6L204.5 445.5L200.4 443.6L198.7 442.7L196.4 441.5L192.3 439.3L191.5 438.9L188.2 436.9L185.3 435.1L184.1 434.3L180 431.3L179.9 431.3L175.9 428.1L175.2 427.5L171.9 424.4L171.1 423.6L167.8 420.1L167.5 419.8L164.4 416L163.7 415L161.8 412.2L159.6 408.5L159.5 408.4L157.7 404.5L156.3 400.7L155.5 397.7L155.3 396.9L154.7 393.1L154.4 389.3L154.5 385.4L154.9 381.6L155.5 378.9L155.8 377.8L157 374L158.6 370.2L159.6 368.2L160.6 366.3L163 362.5L163.7 361.7L165.9 358.7L167.8 356.6L169.3 354.9L171.9 352.4L173.2 351.1L175.9 348.7L177.7 347.2L180 345.5L182.9 343.4L184.1 342.6L188.2 340L188.8 339.6L192.3 337.6L195.7 335.8L196.4 335.4L200.4 333.4L203.6 332L204.5 331.6L208.6 329.9L212.7 328.3L213.1 328.1L216.8 326.9L220.9 325.5L224.7 324.3L225 324.3L229 323.1L233.1 322.1L237.2 321.1L240.1 320.5L241.3 320.2L245.4 319.5L249.5 318.8L253.6 318.1L257.6 317.6L261.7 317.1L265.4 316.7L265.8 316.6L269.9 316.3L274 316L278.1 315.8L282.2 315.7L286.2 315.6L290.3 315.6L294.4 315.7L298.5 315.8L302.6 316L306.7 316.2L310.8 316.5L312.2 316.7L314.8 316.9L318.9 317.4L323 318L327.1 318.6L327.1 316.7L327.1 312.9L327.1 309L327.1 305.2L327.1 301.4L327.1 297.6L327.1 293.8L327.1 289.9L327.1 286.1L327.1 282.3L323 282.3L318.9 282.3L314.8 282.3L310.8 282.3L306.7 282.3L302.6 282.3L298.5 282.3L294.4 282.3L290.3 282.3L286.2 282.3L282.2 282.3L278.1 282.3L274 282.3L269.9 282.3L265.8 282.3L261.7 282.3L257.6 282.3L253.6 282.3L249.5 282.3L245.4 282.3L241.3 282.3L237.2 282.3L233.1 282.3L229 282.3L225 282.3L220.9 282.3L216.8 282.3L212.7 282.3L208.6 282.3L204.5 282.3L200.4 282.3L196.4 282.3L192.3 282.3L188.2 282.3L184.1 282.3L180 282.3L175.9 282.3L171.9 282.3L167.8 282.3L163.7 282.3L159.6 282.3L155.5 282.3L151.4 282.3L147.3 282.3L143.3 282.3L139.2 282.3L135.1 282.3L131 282.3L126.9 282.3L122.8 282.3L118.7 282.3L114.7 282.3L110.6 282.3L106.5 282.3L102.4 282.3L98.3 282.3L94.2 282.3L90.1 282.3L86.1 282.3L82 282.3L77.9 282.3L73.8 282.3L69.7 282.3L65.6 282.3L61.5 282.3L57.5 282.3L53.4 282.3L49.3 282.3L45.2 282.3L45.2 286.1L45.2 289.9L45.2 293.8L45.2 297.6L45.2 301.4L45.2 305.2L45.2 309L45.2 312.9L45.2 316.7L45.2 320.5L45.2 324.3L45.2 328.1L45.2 332L45.2 335.8L45.2 339.6L45.2 343.4L45.2 347.2L45.2 351.1L45.2 354.9L45.2 358.7L45.2 362.5L45.2 366.3L45.2 370.2L45.2 374L45.2 377.8L45.2 381.6L45.2 385.4L45.2 389.3L45.2 393.1L45.2 396.9L45.2 400.7L45.2 404.5L45.2 408.4L45.2 412.2L45.2 416L45.2 419.8L45.2 423.6L45.2 427.5L45.2 431.3L45.2 435.1L45.2 438.9L45.2 442.7L45.2 446.6L45.2 450.4L45.2 454.2L45.2 458L45.2 461.8L45.2 465.7L45.2 469.5L45.2 473.3L45.2 477.1L45.2 480.9L45.2 484.8L45.2 488.6L45.2 492.4Z" fill="#0ad714"/>
<path d="M45.2 492.4L49.3 492.4L53.4 492.4L57.5 492.4L61.5 492.4L65.6 492.4L69.7 492.4L73.8 492.4L77.9 492.4L82 492.4L86.1 492.4L90.1 492.4L94.2 492.4L98.3 492.4L102.4 492.4L106.5 492.4L110.6 492.4L114.7 492.4L118.7 492.4L122.8 492.4L126.9 492.4L131 492.4L135.1 492.4L139.2 492.4L143.3 492.4L147.3 492.4L151.4 492.4L155.5 492.4L159.6 492.4L163.7 492.4L167.8 492.4L171.9 492.4L175.9 492.4L180 492.4L184.1 492.4L188.2 492.4L192.3 492.4L196.4 492.4L200.4 492.4L204.5 492.4L208.6 492.4L212.7 492.4L216.8 492.4L220.9 492.4L225 492.4L229 492.4L233.1 492.4L237.2 492.4L241.3 492.4L245.4 492.4L249.5 492.4L253.6 492.4L257.6 492.4L261.7 492.4L265.8 492.4L269.9 492.4L274 492.4L278.1 492.4L282.2 492.4L286.2 492.4L290.3 492.4L294.4 492.4L298.5 492.4L302.6 492.4L306.7 492.4L310.8 492.4L314.8 492.4L318.9 492.4L323 492.4L327.1 492.4L327.1 488.6L327.1 484.8L327.1 481.1L323 481.5L318.9 481.9L314.8 482.2L310.8 482.5L306.7 482.7L302.6 482.8L298.5 482.9L294.4 483L290.3 483L286.2 483L282.2 482.9L278.1 482.7L274 482.5L269.9 482.3L265.8 482L261.7 481.6L257.6 481.2L255.2 480.9L253.6 480.7L249.5 480.2L245.4 479.6L241.3 479L237.2 478.3L233.1 477.5L230.9 477.1L229 476.7L225 475.8L220.9 474.9L216.8 473.9L214.5 473.3L212.7 472.8L208.6 471.6L204.5 470.4L201.6 469.5L200.4 469.1L196.4 467.7L192.3 466.2L190.7 465.7L188.2 464.7L184.1 463L181.4 461.8L180 461.2L175.9 459.3L173.2 458L171.9 457.3L167.8 455.2L165.9 454.2L163.7 452.9L159.6 450.5L159.4 450.4L155.5 447.8L153.6 446.6L151.4 445L148.3 442.7L147.3 442L143.6 438.9L143.3 438.6L139.3 435.1L139.2 435L135.5 431.3L135.1 430.8L132.1 427.5L131 426.1L129 423.6L126.9 420.7L126.3 419.8L124 416L122.8 413.9L121.9 412.2L120.2 408.4L118.8 404.5L118.7 404.2L117.7 400.7L116.9 396.9L116.4 393.1L116.2 389.3L116.2 385.4L116.6 381.6L117.2 377.8L118.1 374L118.7 372L119.3 370.2L120.9 366.3L122.7 362.5L122.8 362.3L124.9 358.7L126.9 355.6L127.4 354.9L130.3 351.1L131 350.2L133.5 347.2L135.1 345.5L137.1 343.4L139.2 341.5L141.2 339.6L143.3 337.8L145.7 335.8L147.3 334.5L150.8 332L151.4 331.5L155.5 328.7L156.4 328.1L159.6 326.1L162.6 324.3L163.7 323.7L167.8 321.5L169.7 320.5L171.9 319.4L175.9 317.4L177.6 316.7L180 315.6L184.1 313.9L186.6 312.9L188.2 312.2L192.3 310.7L196.4 309.3L197 309L200.4 307.9L204.5 306.7L208.6 305.5L209.5 305.2L212.7 304.4L216.8 303.3L220.9 302.3L225 301.4L225.1 301.4L229 300.6L233.1 299.8L237.2 299.1L241.3 298.5L245.4 297.8L247.4 297.6L249.5 297.3L253.6 296.8L257.6 296.4L261.7 296L265.8 295.7L269.9 295.5L274 295.3L278.1 295.1L282.2 295L286.2 294.9L290.3 294.9L294.4 295L298.5 295.1L302.6 295.2L306.7 295.4L310.8 295.7L314.8 296L318.9 296.4L323 296.8L327.1 297.3L327.1 293.8L327.1 289.9L327.1 286.1L327.1 282.3L323 282.3L318.9 282.3L314.8 282.3L310.8 282.3L306.7 282.3L302.6 282.3L298.5 282.3L294.4 282.3L290.3 282.3L286.2 282.3L282.2 282.3L278.1 282.3L274 282.3L269.9 282.3L265.8 282.3L261.7 282.3L257.6 282.3L253.6 282.3L249.5 282.3L245.4 282.3L241.3 282.3L237.2 282.3L233.1 282.3L229 282.3L225 282.3L220.9 282.3L216.8 282.3L212.7 282.3L208.6 282.3L204.5 282.3L200.4 282.3L196.4 282.3L192.3 282.3L188.2 282.3L184.1 282.3L180 282.3L175.9 282.3L171.9 282.3L167.8 282.3L163.7 282.3L159.6 282.3L155.5 282.3L151.4 282.3L147.3 282.3L143.3 282.3L139.2 282.3L135.1 282.3L131 282.3L126.9 282.3L122.8 282.3L118.7 282.3L114.7 282.3L110.6 282.3L106.5 282.3L102.4 282.3L98.3 282.3L94.2 282.3L90.1 282.3L86.1 282.3L82 282.3L77.9 282.3L73.8 282.3L69.7 282.3L65.6 282.3L61.5 282.3L57.5 282.3L53.4 282.3L49.3 282.3L45.2 282.3L45.2 286.1L45.2 289.9L45.2 293.8L45.2 297.6L45.2 301.4L45.2 305.2L45.2 309L45.2 312.9L45.2 316.7L45.2 320.5L45.2 324.3L45.2 328.1L45.2 332L45.2 335.8L45.2 339.6L45.2 343.4L45.2 347.2L45.2 351.1L45.2 354.9L45.2 358.7L45.2 362.5L45.2 366.3L45.2 370.2L45.2 374L45.2 377.8L45.2 381.6L45.2 385.4L45.2 389.3L45.2 393.1L45.2 396.9L45.2 400.7L45.2 404.5L45.2 408.4L45.2 412.2L45.2 416L45.2 419.8L45.2 423.6L45.2 427.5L45.2 431.3L45.2 435.1L45.2 438.9L45.2 442.7L45.2 446.6L45.2 450.4L45.2 454.2L45.2 458L45.2 461.8L45.2 465.7L45.2 469.5L45.2 473.3L45.2 477.1L45.2 480.9L45.2 484.8L45.2 488.6L45.2 492.4Z" fill="#82ff00"/>
<path d="M45.2 492.4L49.3 492.4L53.4 492.4L57.5 492.4L61.5 492.4L65.6 492.4L69.7 492.4L73.8 492.4L77.9 492.4L82 492.4L86.1 492.4L90.1 492.4L94.2 492.4L98.3 492.4L102.4 492.4L106.5 492.4L110.6 492.4L114.7 492.4L118.7 492.4L122.8 492.4L126.9 492.4L131 492.4L135.1 492.4L139.2 492.4L143.3 492.4L147.3 492.4L151.4 492.4L155.5 492.4L159.6 492.4L163.7 492.4L167.8 492.4L171.9 492.4L175.9 492.4L180 492.4L184.1 492.4L188.2 492.4L192.3 492.4L196.4 492.4L200.4 492.4L204.5 492.4L208.6 492.4L212.7 492.4L216.8 492.4L217.7 492.4L216.8 492.2L212.7 491.3L208.6 490.4L204.5 489.4L201.5 488.6L200.4 488.3L196.4 487.2L192.3 486L188.2 484.8L188.2 484.7L184.1 483.4L180 482L177 480.9L175.9 480.6L171.9 479L167.8 477.4L167.1 477.1L163.7 475.7L159.6 473.9L158.3 473.3L155.5 472L151.4 470L150.4 469.5L147.3 467.9L143.3 465.7L143.2 465.7L139.2 463.3L136.7 461.8L135.1 460.8L131 458.2L130.7 458L126.9 455.4L125.3 454.2L122.8 452.3L120.3 450.4L118.7 449.1L115.8 446.6L114.7 445.6L111.6 442.7L110.6 441.7L107.8 438.9L106.5 437.5L104.3 435.1L102.4 432.8L101.2 431.3L98.4 427.5L98.3 427.4L95.8 423.6L94.2 420.9L93.6 419.8L91.6 416L90.1 412.8L89.9 412.2L88.4 408.4L87.3 404.5L86.3 400.7L86.1 399.4L85.6 396.9L85.2 393.1L85 389.3L85 385.4L85.3 381.6L85.8 377.8L86.1 376.5L86.6 374L87.6 370.2L88.9 366.3L90.1 363.1L90.4 362.5L92.2 358.7L94.2 355L94.3 354.9L96.6 351.1L98.3 348.6L99.3 347.2L102.2 343.4L102.4 343.2L105.5 339.6L106.5 338.6L109.1 335.8L110.6 334.4L113.1 332L114.7 330.6L117.5 328.1L118.7 327.1L122.2 324.3L122.8 323.9L126.9 320.9L127.5 320.5L131 318.1L133.2 316.7L135.1 315.5L139.2 313.1L139.5 312.9L143.3 310.8L146.4 309L147.3 308.6L151.4 306.5L154.1 305.2L155.5 304.6L159.6 302.7L162.6 301.4L163.7 301L167.8 299.3L171.9 297.7L172.2 297.6L175.9 296.2L180 294.8L183.1 293.8L184.1 293.4L188.2 292.2L192.3 291L195.9 289.9L196.4 289.8L200.4 288.7L204.5 287.7L208.6 286.7L211.4 286.1L212.7 285.8L216.8 285L220.9 284.2L225 283.5L229 282.8L231.9 282.3L229 282.3L225 282.3L220.9 282.3L216.8 282.3L212.7 282.3L208.6 282.3L204.5 282.3L200.4 282.3L196.4 282.3L192.3 282.3L188.2 282.3L184.1 282.3L180 282.3L175.9 282.3L171.9 282.3L167.8 282.3L163.7 282.3L159.6 282.3L155.5 282.3L151.4 282.3L147.3 282.3L143.3 282.3L139.2 282.3L135.1 282.3L131 282.3L126.9 282.3L122.8 282.3L118.7 282.3L114.7 282.3L110.6 282.3L106.5 282.3L102.4 282.3L98.3 282.3L94.2 282.3L90.1 282.3L86.1 282.3L82 282.3L77.9 282.3L73.8 282.3L69.7 282.3L65.6 282.3L61.5 282.3L57.5 282.3L53.4 282.3L49.3 282.3L45.2 282.3L45.2 286.1L45.2 289.9L45.2 293.8L45.2 297.6L45.2 301.4L45.2 305.2L45.2 309L45.2 312.9L45.2 316.7L45.2 320.5L45.2 324.3L45.2 328.1L45.2 332L45.2 335.8L45.2 339.6L45.2 343.4L45.2 347.2L45.2 351.1L45.2 354.9L45.2 358.7L45.2 362.5L45.2 366.3L45.2 370.2L45.2 374L45.2 377.8L45.2 381.6L45.2 385.4L45.2 389.3L45.2 393.1L45.2 396.9L45.2 400.7L45.2 404.5L45.2 408.4L45.2 412.2L45.2 416L45.2 419.8L45.2 423.6L45.2 427.5L45.2 431.3L45.2 435.1L45.2 438.9L45.2 442.7L45.2 446.6L45.2 450.4L45.2 454.2L45.2 458L45.2 461.8L45.2 465.7L45.2 469.5L45.2 473.3L45.2 477.1L45.2 480.9L45.2 484.8L45.2 488.6L45.2 492.4Z" fill="#ffff00"/>
<path d="M45.2 492.4L49.3 492.4L53.4 492.4L57.5 492.4L61.5 492.4L65.6 492.4L69.7 492.4L73.8 492.4L77.9 492.4L82 492.4L86.1 492.4L90.1 492.4L94.2 492.4L98.3 492.4L102.4 492.4L106.5 492.4L110.6 492.4L114.7 492.4L118.7 492.4L122.8 492.4L126.9 492.4L131 492.4L135.1 492.4L139.2 492.4L143.3 492.4L147.3 492.4L151.4 492.4L155.5 492.4L159.6 492.4L160.2 492.4L159.6 492.2L155.5 490.6L151.4 489L150.4 488.6L147.3 487.3L143.3 485.5L141.6 484.8L139.2 483.6L135.1 481.7L133.6 480.9L131 479.6L126.9 477.5L126.2 477.1L122.8 475.2L119.5 473.3L118.7 472.8L114.7 470.3L113.3 469.5L110.6 467.7L107.6 465.7L106.5 464.9L102.4 461.9L102.2 461.8L98.3 458.8L97.3 458L94.2 455.4L92.8 454.2L90.1 451.8L88.6 450.4L86.1 447.9L84.8 446.6L82 443.6L81.2 442.7L77.9 438.9L74.9 435.1L73.8 433.5L72.2 431.3L69.7 427.5L69.7 427.4L67.5 423.6L65.6 420L65.5 419.8L63.8 416L62.3 412.2L61.5 410L61 408.4L60 404.5L59.1 400.7L58.5 396.9L58.1 393.1L57.9 389.3L57.9 385.4L58.2 381.6L58.6 377.8L59.3 374L60.2 370.2L61.3 366.3L61.5 365.6L62.6 362.5L64.2 358.7L65.6 355.7L66 354.9L68.1 351.1L69.7 348.3L70.4 347.2L72.9 343.4L73.8 342.2L75.7 339.6L77.9 336.9L78.8 335.8L82 332.2L82.2 332L85.9 328.1L86.1 328L89.9 324.3L90.1 324.1L94.2 320.5L98.3 317.2L99 316.7L102.4 314.1L104.1 312.9L106.5 311.2L109.6 309L110.6 308.4L114.7 305.8L115.6 305.2L118.7 303.4L122.1 301.4L122.8 301L126.9 298.8L129.2 297.6L131 296.7L135.1 294.7L137 293.8L139.2 292.8L143.3 291L145.6 289.9L147.3 289.2L151.4 287.6L155.1 286.1L155.5 286L159.6 284.5L163.7 283L165.7 282.3L163.7 282.3L159.6 282.3L155.5 282.3L151.4 282.3L147.3 282.3L143.3 282.3L139.2 282.3L135.1 282.3L131 282.3L126.9 282.3L122.8 282.3L118.7 282.3L114.7 282.3L110.6 282.3L106.5 282.3L102.4 282.3L98.3 282.3L94.2 282.3L90.1 282.3L86.1 282.3L82 282.3L77.9 282.3L73.8 282.3L69.7 282.3L65.6 282.3L61.5 282.3L57.5 282.3L53.4 282.3L49.3 282.3L45.2 282.3L45.2 286.1L45.2 289.9L45.2 293.8L45.2 297.6L45.2 301.4L45.2 305.2L45.2 309L45.2 312.9L45.2 316.7L45.2 320.5L45.2 324.3L45.2 328.1L45.2 332L45.2 335.8L45.2 339.6L45.2 343.4L45.2 347.2L45.2 351.1L45.2 354.9L45.2 358.7L45.2 362.5L45.2 366.3L45.2 370.2L45.2 374L45.2 377.8L45.2 381.6L45.2 385.4L45.2 389.3L45.2 393.1L45.2 396.9L45.2 400.7L45.2 404.5L45.2 408.4L45.2 412.2L45.2 416L45.2 419.8L45.2 423.6L45.2 427.5L45.2 431.3L45.2 435.1L45.2 438.9L45.2 442.7L45.2 446.6L45.2 450.4L45.2 454.2L45.2 458L45.2 461.8L45.2 465.7L45.2 469.5L45.2 473.3L45.2 477.1L45.2 480.9L45.2 484.8L45.2 488.6L45.2 492.4Z" fill="#ff8c00"/>
<path d="M45.2 492.4L49.3 492.4L53.4 492.4L57.5 492.4L61.5 492.4L65.6 492.4L69.7 492.4L73.8 492.4L77.9 492.4L82 492.4L86.1 492.4L90.1 492.4L94.2 492.4L98.3 492.4L102.4 492.4L106.5 492.4L110.6 492.4L114.7 492.4L118.7 492.4L121.1 492.4L118.7 491.2L114.7 489.2L113.4 488.6L110.6 487.1L106.5 484.8L106.3 484.8L102.4 482.5L99.8 480.9L98.3 480L94.2 477.5L93.7 477.1L90.1 474.8L88 473.3L86.1 471.9L82.7 469.5L82 468.9L77.9 465.7L77.8 465.7L73.8 462.3L73.2 461.8L69.7 458.7L68.9 458L65.6 454.9L64.9 454.2L61.5 450.7L61.3 450.4L57.8 446.6L57.5 446.1L54.7 442.7L53.4 441L51.8 438.9L49.3 435.4L49.1 435.1L46.6 431.3L45.2 428.8L45.2 431.3L45.2 435.1L45.2 438.9L45.2 442.7L45.2 446.6L45.2 450.4L45.2 454.2L45.2 458L45.2 461.8L45.2 465.7L45.2 469.5L45.2 473.3L45.2 477.1L45.2 480.9L45.2 484.8L45.2 488.6L45.2 492.4ZM45.2 343.4L45.2 346.6L47.1 343.4L49.3 340.1L49.6 339.6L52.4 335.8L53.4 334.5L55.3 332L57.5 329.5L58.6 328.1L61.5 324.9L62.1 324.3L65.6 320.8L65.9 320.5L69.7 316.9L70 316.7L73.8 313.4L74.4 312.9L77.9 310L79.2 309L82 306.9L84.3 305.2L86.1 303.9L89.7 301.4L90.1 301.1L94.2 298.5L95.6 297.6L98.3 296L102 293.8L102.4 293.5L106.5 291.2L108.9 289.9L110.6 289L114.7 286.9L116.3 286.1L118.7 284.9L122.8 283L124.4 282.3L122.8 282.3L118.7 282.3L114.7 282.3L110.6 282.3L106.5 282.3L102.4 282.3L98.3 282.3L94.2 282.3L90.1 282.3L86.1 282.3L82 282.3L77.9 282.3L73.8 282.3L69.7 282.3L65.6 282.3L61.5 282.3L57.5 282.3L53.4 282.3L49.3 282.3L45.2 282.3L45.2 286.1L45.2 289.9L45.2 293.8L45.2 297.6L45.2 301.4L45.2 305.2L45.2 309L45.2 312.9L45.2 316.7L45.2 320.5L45.2 324.3L45.2 328.1L45.2 332L45.2 335.8L45.2 339.6L45.2 343.4Z" fill="#ff0000"/>
<path d="M45.2 492.4L49.3 492.4L53.4 492.4L57.5 492.4L61.5 492.4L65.6 492.4L69.7 492.4L73.8 492.4L77.9 492.4L82 492.4L86.1 492.4L89.4 492.4L86.1 490.5L82.9 488.6L82 488L77.9 485.5L76.8 484.8L73.8 482.8L71.1 480.9L69.7 480L65.8 477.1L65.6 477L61.5 473.9L60.8 473.3L57.5 470.6L56.1 469.5L53.4 467.1L51.7 465.7L49.3 463.4L47.6 461.8L45.2 459.5L45.2 461.8L45.2 465.7L45.2 469.5L45.2 473.3L45.2 477.1L45.2 480.9L45.2 484.8L45.2 488.6L45.2 492.4ZM45.2 312.9L45.2 315.9L48.4 312.9L49.3 312L52.6 309L53.4 308.4L57.1 305.2L57.5 304.9L61.5 301.7L61.9 301.4L65.6 298.6L67.1 297.6L69.7 295.7L72.6 293.8L73.8 293L77.9 290.3L78.5 289.9L82 287.8L84.8 286.1L86.1 285.4L90.1 283.1L91.6 282.3L90.1 282.3L86.1 282.3L82 282.3L77.9 282.3L73.8 282.3L69.7 282.3L65.6 282.3L61.5 282.3L57.5 282.3L53.4 282.3L49.3 282.3L45.2 282.3L45.2 286.1L45.2 289.9L45.2 293.8L45.2 297.6L45.2 301.4L45.2 305.2L45.2 309L45.2 312.9Z" fill="#b00000"/>
<path d="M45.2 492.4L49.3 492.4L53.4 492.4L57.5 492.4L61.5 492.4L62 492.4L61.5 492.1L57.5 489.4L56.3 488.6L53.4 486.6L50.8 484.8L49.3 483.6L45.7 480.9L45.2 480.5L45.2 480.9L45.2 484.8L45.2 488.6L45.2 492.4ZM45.2 293.8L45.2 294.9L46.7 293.8L49.3 291.9L52 289.9L53.4 289L57.5 286.2L57.5 286.1L61.5 283.5L63.5 282.3L61.5 282.3L57.5 282.3L53.4 282.3L49.3 282.3L45.2 282.3L45.2 286.1L45.2 289.9L45.2 293.8Z" fill="#800000"/>
</g>
<path d="M45.2 282.3H327.1" stroke="#2a1010" stroke-opacity="0.85" stroke-width="0.8" fill="none"/>
<path d="M327.1 282.3V492.4" stroke="#400" stroke-opacity="0.35" stroke-width="1" fill="none"/>
<text transform="translate(45.2 506.0) scale(0.93 1)" font-size="11.0" text-anchor="middle" font-family="Liberation Sans, sans-serif">0,00</text>
<path d="M45.2 282.3v1.6M45.2 492.4v-1.6" stroke="#222" stroke-opacity="0.45" stroke-width="0.8"/>
<text transform="translate(73.4 506.0) scale(0.93 1)" font-size="11.0" text-anchor="middle" font-family="Liberation Sans, sans-serif">0,01</text>
<path d="M73.4 282.3v1.6M73.4 492.4v-1.6" stroke="#222" stroke-opacity="0.45" stroke-width="0.8"/>
<text transform="translate(101.6 506.0) scale(0.93 1)" font-size="11.0" text-anchor="middle" font-family="Liberation Sans, sans-serif">0,02</text>
<path d="M101.6 282.3v1.6M101.6 492.4v-1.6" stroke="#222" stroke-opacity="0.45" stroke-width="0.8"/>
<text transform="translate(129.8 506.0) scale(0.93 1)" font-size="11.0" text-anchor="middle" font-family="Liberation Sans, sans-serif">0,03</text>
<path d="M129.8 282.3v1.6M129.8 492.4v-1.6" stroke="#222" stroke-opacity="0.45" stroke-width="0.8"/>
<text transform="translate(158.0 506.0) scale(0.93 1)" font-size="11.0" text-anchor="middle" font-family="Liberation Sans, sans-serif">0,04</text>
<path d="M158.0 282.3v1.6M158.0 492.4v-1.6" stroke="#222" stroke-opacity="0.45" stroke-width="0.8"/>
<text transform="translate(186.2 506.0) scale(0.93 1)" font-size="11.0" text-anchor="middle" font-family="Liberation Sans, sans-serif">0,05</text>
<path d="M186.2 282.3v1.6M186.2 492.4v-1.6" stroke="#222" stroke-opacity="0.45" stroke-width="0.8"/>
<text transform="translate(214.3 506.0) scale(0.93 1)" font-size="11.0" text-anchor="middle" font-family="Liberation Sans, sans-serif">0,06</text>
<path d="M214.3 282.3v1.6M214.3 492.4v-1.6" stroke="#222" stroke-opacity="0.45" stroke-width="0.8"/>
<text transform="translate(242.5 506.0) scale(0.93 1)" font-size="11.0" text-anchor="middle" font-family="Liberation Sans, sans-serif">0,07</text>
<path d="M242.5 282.3v1.6M242.5 492.4v-1.6" stroke="#222" stroke-opacity="0.45" stroke-width="0.8"/>
<text transform="translate(270.7 506.0) scale(0.93 1)" font-size="11.0" text-anchor="middle" font-family="Liberation Sans, sans-serif">0,08</text>
<path d="M270.7 282.3v1.6M270.7 492.4v-1.6" stroke="#222" stroke-opacity="0.45" stroke-width="0.8"/>
<text transform="translate(298.9 506.0) scale(0.93 1)" font-size="11.0" text-anchor="middle" font-family="Liberation Sans, sans-serif">0,09</text>
<path d="M298.9 282.3v1.6M298.9 492.4v-1.6" stroke="#222" stroke-opacity="0.45" stroke-width="0.8"/>
<text transform="translate(327.1 506.0) scale(0.93 1)" font-size="11.0" text-anchor="middle" font-family="Liberation Sans, sans-serif">0,10</text>
<path d="M327.1 282.3v1.6M327.1 492.4v-1.6" stroke="#222" stroke-opacity="0.45" stroke-width="0.8"/>
<text transform="translate(41.7 496.4) scale(0.93 1)" font-size="11.0" text-anchor="end" font-family="Liberation Sans, sans-serif">0,00</text>
<path d="M327.1 492.4h-1.8" stroke="#222" stroke-opacity="0.7" stroke-width="0.8"/>
<text transform="translate(41.7 475.4) scale(0.93 1)" font-size="11.0" text-anchor="end" font-family="Liberation Sans, sans-serif">0,01</text>
<path d="M327.1 471.4h-1.8" stroke="#222" stroke-opacity="0.7" stroke-width="0.8"/>
<text transform="translate(41.7 454.4) scale(0.93 1)" font-size="11.0" text-anchor="end" font-family="Liberation Sans, sans-serif">0,02</text>
<path d="M327.1 450.4h-1.8" stroke="#222" stroke-opacity="0.7" stroke-width="0.8"/>
<text transform="translate(41.7 433.4) scale(0.93 1)" font-size="11.0" text-anchor="end" font-family="Liberation Sans, sans-serif">0,03</text>
<path d="M327.1 429.4h-1.8" stroke="#222" stroke-opacity="0.7" stroke-width="0.8"/>
<text transform="translate(41.7 412.4) scale(0.93 1)" font-size="11.0" text-anchor="end" font-family="Liberation Sans, sans-serif">0,04</text>
<path d="M327.1 408.4h-1.8" stroke="#222" stroke-opacity="0.7" stroke-width="0.8"/>
<text transform="translate(41.7 391.4) scale(0.93 1)" font-size="11.0" text-anchor="end" font-family="Liberation Sans, sans-serif">0,05</text>
<path d="M327.1 387.4h-1.8" stroke="#222" stroke-opacity="0.7" stroke-width="0.8"/>
<text transform="translate(41.7 370.3) scale(0.93 1)" font-size="11.0" text-anchor="end" font-family="Liberation Sans, sans-serif">0,06</text>
<path d="M327.1 366.3h-1.8" stroke="#222" stroke-opacity="0.7" stroke-width="0.8"/>
<text transform="translate(41.7 349.3) scale(0.93 1)" font-size="11.0" text-anchor="end" font-family="Liberation Sans, sans-serif">0,07</text>
<path d="M327.1 345.3h-1.8" stroke="#222" stroke-opacity="0.7" stroke-width="0.8"/>
<text transform="translate(41.7 328.3) scale(0.93 1)" font-size="11.0" text-anchor="end" font-family="Liberation Sans, sans-serif">0,08</text>
<path d="M327.1 324.3h-1.8" stroke="#222" stroke-opacity="0.7" stroke-width="0.8"/>
<text transform="translate(41.7 307.3) scale(0.93 1)" font-size="11.0" text-anchor="end" font-family="Liberation Sans, sans-serif">0,09</text>
<path d="M327.1 303.3h-1.8" stroke="#222" stroke-opacity="0.7" stroke-width="0.8"/>
<text transform="translate(41.7 286.3) scale(0.93 1)" font-size="11.0" text-anchor="end" font-family="Liberation Sans, sans-serif">0,10</text>
<path d="M327.1 282.3h-1.8" stroke="#222" stroke-opacity="0.7" stroke-width="0.8"/>
<text transform="translate(187.3 522.9) scale(0.94 1)" font-size="12.5" text-anchor="middle" font-family="Liberation Sans, sans-serif">MgSO4</text>
<text transform="translate(10.9 387) rotate(-90) scale(1 0.94)" font-size="11.6" text-anchor="middle" font-family="Liberation Sans, sans-serif">KH2PO4</text>
<text x="10.8" y="269.8" font-size="14.6" font-weight="bold" font-family="Liberation Sans, sans-serif">c</text>
<circle cx="73.4" cy="303.3" r="2.9" fill="none" stroke="#1010dc" stroke-width="1.25"/>
<circle cx="186.2" cy="303.3" r="2.9" fill="none" stroke="#1010dc" stroke-width="1.25"/>
<circle cx="298.9" cy="303.3" r="2.9" fill="none" stroke="#1010dc" stroke-width="1.25"/>
<circle cx="73.4" cy="387.4" r="2.9" fill="none" stroke="#1010dc" stroke-width="1.25"/>
<circle cx="186.2" cy="387.4" r="2.9" fill="none" stroke="#1010dc" stroke-width="1.25"/>
<circle cx="298.9" cy="387.4" r="2.9" fill="none" stroke="#1010dc" stroke-width="1.25"/>
<circle cx="73.4" cy="471.4" r="2.9" fill="none" stroke="#1010dc" stroke-width="1.25"/>
<circle cx="186.2" cy="471.4" r="2.9" fill="none" stroke="#1010dc" stroke-width="1.25"/>
<circle cx="298.9" cy="471.4" r="2.9" fill="none" stroke="#1010dc" stroke-width="1.25"/>
<rect x="266.5" y="413.8" width="16" height="9.3" fill="#800000" stroke="#111" stroke-opacity="0.75" stroke-width="0.8"/>
<text transform="translate(288.0 422.7) scale(0.93 1)" font-size="11.0" font-family="Liberation Sans, sans-serif">&gt; 6,4</text>
<rect x="266.5" y="426.4" width="16" height="9.3" fill="#ff0000" stroke="#111" stroke-opacity="0.75" stroke-width="0.8"/>
<text transform="translate(288.0 435.3) scale(0.93 1)" font-size="11.0" font-family="Liberation Sans, sans-serif">&lt; 6,3</text>
<rect x="266.5" y="438.9" width="16" height="9.3" fill="#ffff00" stroke="#111" stroke-opacity="0.75" stroke-width="0.8"/>
<text transform="translate(288.0 447.8) scale(0.93 1)" font-size="11.0" font-family="Liberation Sans, sans-serif">&lt; 6,1</text>
<rect x="266.5" y="451.5" width="16" height="9.3" fill="#0ad714" stroke="#111" stroke-opacity="0.75" stroke-width="0.8"/>
<text transform="translate(288.0 460.4) scale(0.93 1)" font-size="11.0" font-family="Liberation Sans, sans-serif">&lt; 5,9</text>
<rect x="266.5" y="464.0" width="16" height="9.3" fill="#086048" stroke="#111" stroke-opacity="0.75" stroke-width="0.8"/>
<text transform="translate(288.0 472.9) scale(0.93 1)" font-size="11.0" font-family="Liberation Sans, sans-serif">&lt; 5,7</text>
<clipPath id="cpd"><rect x="394.1" y="282.6" width="282.6" height="209.39999999999998"/></clipPath>
<g clip-path="url(#cpd)" shape-rendering="geometricPrecision">
<rect x="394.1" y="282.6" width="282.6" height="209.39999999999998" fill="#08623e"/>
<path d="M394.1 492L398.9 492L403.7 492L408.5 492L413.3 492L418 492L422.8 492L427.6 492L432.4 492L437.2 492L442 492L446.8 492L451.6 492L456.4 492L461.2 492L465.9 492L470.7 492L475.5 492L480.3 492L485.1 492L489.9 492L494.7 492L499.5 492L504.3 492L509.1 492L513.8 492L518.6 492L523.4 492L528.2 492L533 492L537.8 492L542.6 492L547.4 492L552.2 492L557 492L561.7 492L566.5 492L571.3 492L576.1 492L580.9 492L585.7 492L590.5 492L595.3 492L600.1 492L604.9 492L609.6 492L614.4 492L619.2 492L624 492L628.8 492L633.6 492L638.4 492L643.2 492L648 492L652.8 492L657.5 492L662.3 492L667.1 492L671.9 492L676.7 492L676.7 487.7L676.7 483.5L676.7 479.2L676.7 474.9L676.7 470.6L676.7 466.4L676.7 462.1L676.7 457.8L676.7 453.5L676.7 449.3L676.7 445L676.7 440.7L676.7 436.4L676.7 432.2L676.7 427.9L676.7 423.6L676.7 419.4L676.7 415.1L676.7 410.8L676.7 406.5L676.7 402.3L676.7 398L676.7 393.7L676.7 389.4L676.7 385.2L676.7 380.9L676.7 376.6L676.7 372.3L676.7 368.1L676.7 363.8L676.7 359.5L676.7 355.2L676.7 351L676.7 346.7L676.7 342.4L676.7 338.2L676.7 333.9L676.7 329.6L676.7 325.3L676.7 321.1L676.7 316.8L676.7 312.5L676.7 308.2L676.7 304L676.7 299.7L676.7 295.4L676.7 291.1L676.7 286.9L676.7 282.6L671.9 282.6L667.1 282.6L662.3 282.6L657.5 282.6L652.8 282.6L648 282.6L643.2 282.6L638.4 282.6L633.6 282.6L628.8 282.6L624 282.6L619.2 282.6L614.4 282.6L609.6 282.6L604.9 282.6L600.1 282.6L595.3 282.6L590.5 282.6L585.7 282.6L580.9 282.6L576.1 282.6L571.3 282.6L566.5 282.6L561.7 282.6L557 282.6L552.2 282.6L547.4 282.6L542.6 282.6L537.8 282.6L533 282.6L528.2 282.6L523.4 282.6L518.6 282.6L513.8 282.6L509.1 282.6L504.3 282.6L499.5 282.6L494.7 282.6L489.9 282.6L485.1 282.6L480.3 282.6L475.5 282.6L470.7 282.6L465.9 282.6L461.2 282.6L456.4 282.6L451.6 282.6L446.8 282.6L442 282.6L437.2 282.6L432.4 282.6L427.6 282.6L422.8 282.6L418 282.6L413.3 282.6L408.5 282.6L403.7 282.6L398.9 282.6L398.3 282.6L395.7 286.9L394.1 289.5L394.1 291.1L394.1 295.4L394.1 299.7L394.1 304L394.1 308.2L394.1 312.5L394.1 316.8L394.1 321.1L394.1 325.3L394.1 329.6L394.1 333.9L394.1 338.2L394.1 342.4L394.1 346.7L394.1 351L394.1 355.2L394.1 359.5L394.1 363.8L394.1 368.1L394.1 372.3L394.1 376.6L394.1 380.9L394.1 385.2L394.1 389.4L394.1 393.7L394.1 398L394.1 402.3L394.1 406.5L394.1 410.8L394.1 415.1L394.1 419.4L394.1 423.6L394.1 427.9L394.1 432.2L394.1 436.4L394.1 440.7L394.1 445L394.1 449.3L394.1 453.5L394.1 457.8L394.1 462.1L394.1 466.4L394.1 470.6L394.1 474.9L394.1 479.2L394.1 483.5L394.1 487.7L394.1 492Z" fill="#096b38"/>
<path d="M394.1 492L398.9 492L403.7 492L408.5 492L413.3 492L418 492L422.8 492L427.6 492L432.4 492L437.2 492L442 492L446.8 492L451.6 492L456.4 492L461.2 492L465.9 492L470.7 492L475.5 492L480.3 492L485.1 492L489.9 492L494.7 492L499.5 492L504.3 492L509.1 492L513.8 492L518.6 492L523.4 492L528.2 492L533 492L537.8 492L542.6 492L547.4 492L552.2 492L557 492L561.7 492L566.5 492L571.3 492L576.1 492L580.9 492L585.7 492L590.5 492L595.3 492L600.1 492L604.9 492L609.6 492L614.4 492L619.2 492L624 492L628.8 492L633.6 492L638.4 492L643.2 492L648 492L652.8 492L657.5 492L662.3 492L667.1 492L671.9 492L676.7 492L676.7 487.7L676.7 483.5L676.7 479.2L676.7 474.9L676.7 470.6L676.7 466.4L676.7 462.1L676.7 457.8L676.7 453.5L676.7 449.3L676.7 445L676.7 440.7L676.7 436.4L676.7 432.2L676.7 427.9L676.7 423.6L676.7 419.4L676.7 415.1L676.7 410.8L676.7 406.5L676.7 402.3L676.7 398L676.7 393.7L676.7 389.4L676.7 385.2L676.7 380.9L676.7 376.6L676.7 372.3L676.7 368.1L676.7 363.8L676.7 359.5L676.7 355.2L676.7 351L676.7 346.7L676.7 342.4L676.7 338.2L676.7 333.9L676.7 329.6L676.7 325.3L676.7 321.1L676.7 316.8L676.7 312.5L676.7 308.2L676.7 304L676.7 299.7L676.7 295.4L676.7 291.1L676.7 286.9L676.7 282.6L671.9 282.6L667.1 282.6L662.3 282.6L657.5 282.6L652.8 282.6L648 282.6L643.2 282.6L638.4 282.6L633.6 282.6L628.8 282.6L624 282.6L619.2 282.6L614.4 282.6L609.6 282.6L604.9 282.6L600.1 282.6L595.3 282.6L590.5 282.6L585.7 282.6L580.9 282.6L576.1 282.6L571.3 282.6L566.5 282.6L561.7 282.6L557 282.6L552.2 282.6L547.4 282.6L542.6 282.6L537.8 282.6L533 282.6L528.2 282.6L523.4 282.6L518.6 282.6L513.8 282.6L509.1 282.6L504.3 282.6L499.5 282.6L494.7 282.6L489.9 282.6L485.1 282.6L480.3 282.6L475.5 282.6L470.7 282.6L465.9 282.6L461.2 282.6L456.4 282.6L451.6 282.6L446.8 282.6L442 282.6L437.2 282.6L432.4 282.6L427.6 282.6L422.8 282.6L418 282.6L413.3 282.6L408.5 282.6L403.7 282.6L401 282.6L398.9 286L398.4 286.9L395.8 291.1L394.1 294L394.1 295.4L394.1 299.7L394.1 304L394.1 308.2L394.1 312.5L394.1 316.8L394.1 321.1L394.1 325.3L394.1 329.6L394.1 333.9L394.1 338.2L394.1 342.4L394.1 346.7L394.1 351L394.1 355.2L394.1 359.5L394.1 363.8L394.1 368.1L394.1 372.3L394.1 376.6L394.1 380.9L394.1 385.2L394.1 389.4L394.1 393.7L394.1 398L394.1 402.3L394.1 406.5L394.1 410.8L394.1 415.1L394.1 419.4L394.1 423.6L394.1 427.9L394.1 432.2L394.1 436.4L394.1 440.7L394.1 445L394.1 449.3L394.1 453.5L394.1 457.8L394.1 462.1L394.1 466.4L394.1 470.6L394.1 474.9L394.1 479.2L394.1 483.5L394.1 487.7L394.1 492Z" fill="#0b7532"/>
<path d="M394.1 492L398.9 492L403.7 492L408.5 492L413.3 492L418 492L422.8 492L427.6 492L432.4 492L437.2 492L442 492L446.8 492L451.6 492L456.4 492L461.2 492L465.9 492L470.7 492L475.5 492L480.3 492L485.1 492L489.9 492L494.7 492L499.5 492L504.3 492L509.1 492L513.8 492L518.6 492L523.4 492L528.2 492L533 492L537.8 492L542.6 492L547.4 492L552.2 492L557 492L561.7 492L566.5 492L571.3 492L576.1 492L580.9 492L585.7 492L590.5 492L595.3 492L600.1 492L604.9 492L609.6 492L614.4 492L619.2 492L624 492L628.8 492L633.6 492L638.4 492L643.2 492L648 492L652.8 492L657.5 492L662.3 492L667.1 492L671.9 492L676.7 492L676.7 487.7L676.7 483.5L676.7 479.2L676.7 474.9L676.7 470.6L676.7 466.4L676.7 462.1L676.7 457.8L676.7 453.5L676.7 449.3L676.7 445L676.7 440.7L676.7 436.4L676.7 432.2L676.7 427.9L676.7 423.6L676.7 419.4L676.7 415.1L676.7 410.8L676.7 406.5L676.7 402.3L676.7 398L676.7 393.7L676.7 389.4L676.7 385.2L676.7 380.9L676.7 376.6L676.7 372.3L676.7 368.1L676.7 363.8L676.7 359.5L676.7 355.2L676.7 351L676.7 346.7L676.7 342.4L676.7 338.2L676.7 333.9L676.7 329.6L676.7 325.3L676.7 321.1L676.7 316.8L676.7 312.5L676.7 308.2L676.7 304L676.7 299.7L676.7 295.4L676.7 291.1L676.7 286.9L676.7 282.6L671.9 282.6L667.1 282.6L662.3 282.6L657.5 282.6L652.8 282.6L648 282.6L643.2 282.6L638.4 282.6L633.6 282.6L628.8 282.6L624 282.6L619.2 282.6L614.4 282.6L609.6 282.6L604.9 282.6L600.1 282.6L595.3 282.6L590.5 282.6L585.7 282.6L580.9 282.6L576.1 282.6L571.3 282.6L566.5 282.6L561.7 282.6L557 282.6L552.2 282.6L547.4 282.6L542.6 282.6L537.8 282.6L533 282.6L528.2 282.6L523.4 282.6L518.6 282.6L513.8 282.6L509.1 282.6L504.3 282.6L499.5 282.6L494.7 282.6L489.9 282.6L485.1 282.6L480.3 282.6L475.5 282.6L470.7 282.6L465.9 282.6L461.2 282.6L456.4 282.6L451.6 282.6L446.8 282.6L442 282.6L437.2 282.6L432.4 282.6L427.6 282.6L422.8 282.6L418 282.6L413.3 282.6L408.5 282.6L403.7 282.6L403.7 282.7L401.1 286.9L398.9 290.5L398.5 291.1L396 295.4L394.1 298.8L394.1 299.7L394.1 304L394.1 308.2L394.1 312.5L394.1 316.8L394.1 321.1L394.1 325.3L394.1 329.6L394.1 333.9L394.1 338.2L394.1 342.4L394.1 346.7L394.1 351L394.1 355.2L394.1 359.5L394.1 363.8L394.1 368.1L394.1 372.3L394.1 376.6L394.1 380.9L394.1 385.2L394.1 389.4L394.1 393.7L394.1 398L394.1 402.3L394.1 406.5L394.1 410.8L394.1 415.1L394.1 419.4L394.1 423.6L394.1 427.9L394.1 432.2L394.1 436.4L394.1 440.7L394.1 445L394.1 449.3L394.1 453.5L394.1 457.8L394.1 462.1L394.1 466.4L394.1 470.6L394.1 474.9L394.1 479.2L394.1 483.5L394.1 487.7L394.1 492Z" fill="#0c7e2d"/>
<path d="M394.1 492L398.9 492L403.7 492L408.5 492L413.3 492L418 492L422.8 492L427.6 492L432.4 492L437.2 492L442 492L446.8 492L451.6 492L456.4 492L461.2 492L465.9 492L470.7 492L475.5 492L480.3 492L485.1 492L489.9 492L494.7 492L499.5 492L504.3 492L509.1 492L513.8 492L518.6 492L523.4 492L528.2 492L533 492L537.8 492L542.6 492L547.4 492L552.2 492L557 492L561.7 492L566.5 492L571.3 492L576.1 492L580.9 492L585.7 492L590.5 492L595.3 492L600.1 492L604.9 492L609.6 492L614.4 492L619.2 492L624 492L628.8 492L633.6 492L638.4 492L643.2 492L648 492L652.8 492L657.5 492L662.3 492L667.1 492L671.9 492L676.7 492L676.7 487.7L676.7 483.5L676.7 479.2L676.7 474.9L676.7 470.6L676.7 466.4L676.7 462.1L676.7 457.8L676.7 453.5L676.7 449.3L676.7 445L676.7 440.7L676.7 436.4L676.7 432.2L676.7 427.9L676.7 423.6L676.7 419.4L676.7 415.1L676.7 410.8L676.7 406.5L676.7 402.3L676.7 398L676.7 393.7L676.7 389.4L676.7 385.2L676.7 380.9L676.7 376.6L676.7 372.3L676.7 368.1L676.7 363.8L676.7 359.5L676.7 355.2L676.7 351L676.7 346.7L676.7 342.4L676.7 338.2L676.7 333.9L676.7 329.6L676.7 325.3L676.7 321.1L676.7 316.8L676.7 312.5L676.7 308.2L676.7 304L676.7 299.7L676.7 295.4L676.7 291.1L676.7 286.9L676.7 282.6L671.9 282.6L667.1 282.6L662.3 282.6L657.5 282.6L652.8 282.6L648 282.6L643.2 282.6L638.4 282.6L633.6 282.6L628.8 282.6L624 282.6L619.2 282.6L614.4 282.6L609.6 282.6L604.9 282.6L600.1 282.6L595.3 282.6L590.5 282.6L585.7 282.6L580.9 282.6L576.1 282.6L571.3 282.6L566.5 282.6L561.7 282.6L557 282.6L552.2 282.6L547.4 282.6L542.6 282.6L537.8 282.6L533 282.6L528.2 282.6L523.4 282.6L518.6 282.6L513.8 282.6L509.1 282.6L504.3 282.6L499.5 282.6L494.7 282.6L489.9 282.6L485.1 282.6L480.3 282.6L475.5 282.6L470.7 282.6L465.9 282.6L461.2 282.6L456.4 282.6L451.6 282.6L446.8 282.6L442 282.6L437.2 282.6L432.4 282.6L427.6 282.6L422.8 282.6L418 282.6L413.3 282.6L408.5 282.6L406.4 282.6L403.8 286.9L403.7 287L401.2 291.1L398.9 295.1L398.7 295.4L396.4 299.7L394.1 303.9L394.1 304L394.1 308.2L394.1 312.5L394.1 316.8L394.1 321.1L394.1 325.3L394.1 329.6L394.1 333.9L394.1 338.2L394.1 342.4L394.1 346.7L394.1 351L394.1 355.2L394.1 359.5L394.1 363.8L394.1 368.1L394.1 372.3L394.1 376.6L394.1 380.9L394.1 385.2L394.1 389.4L394.1 393.7L394.1 398L394.1 402.3L394.1 406.5L394.1 410.8L394.1 415.1L394.1 419.4L394.1 423.6L394.1 427.9L394.1 432.2L394.1 436.4L394.1 440.7L394.1 445L394.1 449.3L394.1 453.5L394.1 457.8L394.1 462.1L394.1 466.4L394.1 470.6L394.1 474.9L394.1 479.2L394.1 483.5L394.1 487.7L394.1 492Z" fill="#0c8629"/>
<path d="M394.1 492L398.9 492L403.7 492L408.5 492L413.3 492L418 492L422.8 492L427.6 492L432.4 492L437.2 492L442 492L446.8 492L451.6 492L456.4 492L461.2 492L465.9 492L470.7 492L475.5 492L480.3 492L485.1 492L489.9 492L494.7 492L499.5 492L504.3 492L509.1 492L513.8 492L518.6 492L523.4 492L528.2 492L533 492L537.8 492L542.6 492L547.4 492L552.2 492L557 492L561.7 492L566.5 492L571.3 492L576.1 492L580.9 492L585.7 492L590.5 492L595.3 492L600.1 492L604.9 492L609.6 492L614.4 492L619.2 492L624 492L628.8 492L633.6 492L638.4 492L643.2 492L648 492L652.8 492L657.5 492L662.3 492L667.1 492L671.9 492L676.7 492L676.7 487.7L676.7 483.5L676.7 479.2L676.7 474.9L676.7 470.6L676.7 466.4L676.7 462.1L676.7 457.8L676.7 453.5L676.7 449.3L676.7 445L676.7 440.7L676.7 436.4L676.7 432.2L676.7 427.9L676.7 423.6L676.7 419.4L676.7 415.1L676.7 410.8L676.7 406.5L676.7 402.3L676.7 398L676.7 393.7L676.7 389.4L676.7 385.2L676.7 380.9L676.7 376.6L676.7 372.3L676.7 368.1L676.7 363.8L676.7 359.5L676.7 355.2L676.7 351L676.7 346.7L676.7 342.4L676.7 338.2L676.7 333.9L676.7 329.6L676.7 325.3L676.7 321.1L676.7 316.8L676.7 312.5L676.7 308.2L676.7 304L676.7 299.7L676.7 295.4L676.7 291.1L676.7 286.9L676.7 282.6L671.9 282.6L667.1 282.6L662.3 282.6L657.5 282.6L652.8 282.6L648 282.6L643.2 282.6L638.4 282.6L633.6 282.6L628.8 282.6L624 282.6L619.2 282.6L614.4 282.6L609.6 282.6L604.9 282.6L600.1 282.6L595.3 282.6L590.5 282.6L585.7 282.6L580.9 282.6L576.1 282.6L571.3 282.6L566.5 282.6L561.7 282.6L557 282.6L552.2 282.6L547.4 282.6L542.6 282.6L537.8 282.6L533 282.6L528.2 282.6L523.4 282.6L518.6 282.6L513.8 282.6L509.1 282.6L504.3 282.6L499.5 282.6L494.7 282.6L489.9 282.6L485.1 282.6L480.3 282.6L475.5 282.6L470.7 282.6L465.9 282.6L461.2 282.6L456.4 282.6L451.6 282.6L446.8 282.6L442 282.6L437.2 282.6L432.4 282.6L427.6 282.6L422.8 282.6L418 282.6L413.3 282.6L409.2 282.6L408.5 283.7L406.5 286.9L403.9 291.1L403.7 291.6L401.5 295.4L399.1 299.7L398.9 300.1L396.8 304L394.6 308.2L394.1 309.3L394.1 312.5L394.1 316.8L394.1 321.1L394.1 325.3L394.1 329.6L394.1 333.9L394.1 338.2L394.1 342.4L394.1 346.7L394.1 351L394.1 355.2L394.1 359.5L394.1 363.8L394.1 368.1L394.1 372.3L394.1 376.6L394.1 380.9L394.1 385.2L394.1 389.4L394.1 393.7L394.1 398L394.1 402.3L394.1 406.5L394.1 410.8L394.1 415.1L394.1 419.4L394.1 423.6L394.1 427.9L394.1 432.2L394.1 436.4L394.1 440.7L394.1 445L394.1 449.3L394.1 453.5L394.1 457.8L394.1 462.1L394.1 466.4L394.1 470.6L394.1 474.9L394.1 479.2L394.1 483.5L394.1 487.7L394.1 492Z" fill="#0c8e25"/>
<path d="M394.1 492L398.9 492L403.7 492L408.5 492L413.3 492L418 492L422.8 492L427.6 492L432.4 492L437.2 492L442 492L446.8 492L451.6 492L456.4 492L461.2 492L465.9 492L470.7 492L475.5 492L480.3 492L485.1 492L489.9 492L494.7 492L499.5 492L504.3 492L509.1 492L513.8 492L518.6 492L523.4 492L528.2 492L533 492L537.8 492L542.6 492L547.4 492L552.2 492L557 492L561.7 492L566.5 492L571.3 492L576.1 492L580.9 492L585.7 492L590.5 492L595.3 492L600.1 492L604.9 492L609.6 492L614.4 492L619.2 492L624 492L628.8 492L633.6 492L638.4 492L643.2 492L648 492L652.8 492L657.5 492L662.3 492L667.1 492L671.9 492L676.7 492L676.7 487.7L676.7 483.5L676.7 479.2L676.7 474.9L676.7 470.6L676.7 466.4L676.7 462.1L676.7 457.8L676.7 453.5L676.7 449.3L676.7 445L676.7 440.7L676.7 436.4L676.7 432.2L676.7 427.9L676.7 423.6L676.7 419.4L676.7 415.1L676.7 410.8L676.7 406.5L676.7 402.3L676.7 398L676.7 393.7L676.7 389.4L676.7 385.2L676.7 380.9L676.7 376.6L676.7 372.3L676.7 368.1L676.7 363.8L676.7 359.5L676.7 355.2L676.7 351L676.7 346.7L676.7 342.4L676.7 338.2L676.7 333.9L676.7 329.6L676.7 325.3L676.7 321.1L676.7 316.8L676.7 312.5L676.7 308.2L676.7 304L676.7 299.7L676.7 295.4L676.7 291.1L676.7 286.9L676.7 282.6L671.9 282.6L667.1 282.6L662.3 282.6L657.5 282.6L652.8 282.6L648 282.6L643.2 282.6L638.4 282.6L633.6 282.6L628.8 282.6L624 282.6L619.2 282.6L614.4 282.6L609.6 282.6L604.9 282.6L600.1 282.6L595.3 282.6L590.5 282.6L585.7 282.6L580.9 282.6L576.1 282.6L571.3 282.6L566.5 282.6L561.7 282.6L557 282.6L552.2 282.6L547.4 282.6L542.6 282.6L537.8 282.6L533 282.6L528.2 282.6L523.4 282.6L518.6 282.6L513.8 282.6L509.1 282.6L504.3 282.6L499.5 282.6L494.7 282.6L489.9 282.6L485.1 282.6L480.3 282.6L475.5 282.6L470.7 282.6L465.9 282.6L461.2 282.6L456.4 282.6L451.6 282.6L446.8 282.6L442 282.6L437.2 282.6L432.4 282.6L427.6 282.6L422.8 282.6L418 282.6L413.3 282.6L411.9 282.6L409.3 286.9L408.5 288.2L406.7 291.1L404.2 295.4L403.7 296.4L401.9 299.7L399.6 304L398.9 305.4L397.4 308.2L395.3 312.5L394.1 315.1L394.1 316.8L394.1 321.1L394.1 325.3L394.1 329.6L394.1 333.9L394.1 338.2L394.1 342.4L394.1 346.7L394.1 351L394.1 355.2L394.1 359.5L394.1 363.8L394.1 368.1L394.1 372.3L394.1 376.6L394.1 380.9L394.1 385.2L394.1 389.4L394.1 393.7L394.1 398L394.1 402.3L394.1 406.5L394.1 410.8L394.1 415.1L394.1 419.4L394.1 423.6L394.1 427.9L394.1 432.2L394.1 436.4L394.1 440.7L394.1 445L394.1 449.3L394.1 453.5L394.1 457.8L394.1 462.1L394.1 466.4L394.1 470.6L394.1 474.9L394.1 479.2L394.1 483.5L394.1 487.7L394.1 492Z" fill="#0c9621"/>
<path d="M397.4 492L398.9 492L403.7 492L408.5 492L413.3 492L418 492L422.8 492L427.6 492L432.4 492L437.2 492L442 492L446.8 492L451.6 492L456.4 492L461.2 492L465.9 492L470.7 492L475.5 492L480.3 492L485.1 492L489.9 492L494.7 492L499.5 492L504.3 492L509.1 492L513.8 492L518.6 492L523.4 492L528.2 492L533 492L537.8 492L542.6 492L547.4 492L552.2 492L557 492L561.7 492L566.5 492L571.3 492L576.1 492L580.9 492L585.7 492L590.5 492L595.3 492L600.1 492L604.9 492L609.6 492L614.4 492L619.2 492L624 492L628.8 492L633.6 492L638.4 492L643.2 492L648 492L652.8 492L657.5 492L662.3 492L667.1 492L671.9 492L676.7 492L676.7 487.7L676.7 483.5L676.7 479.2L676.7 474.9L676.7 470.6L676.7 466.4L676.7 462.1L676.7 457.8L676.7 453.5L676.7 449.3L676.7 445L676.7 440.7L676.7 436.4L676.7 432.2L676.7 427.9L676.7 423.6L676.7 419.4L676.7 415.1L676.7 410.8L676.7 406.5L676.7 402.3L676.7 398L676.7 393.7L676.7 389.4L676.7 385.2L676.7 380.9L676.7 376.6L676.7 372.3L676.7 368.1L676.7 363.8L676.7 359.5L676.7 355.2L676.7 351L676.7 346.7L676.7 342.4L676.7 338.2L676.7 333.9L676.7 329.6L676.7 325.3L676.7 321.1L676.7 316.8L676.7 312.5L676.7 308.2L676.7 304L676.7 299.7L676.7 295.4L676.7 291.1L676.7 286.9L676.7 282.6L671.9 282.6L667.1 282.6L662.3 282.6L657.5 282.6L652.8 282.6L648 282.6L643.2 282.6L638.4 282.6L633.6 282.6L628.8 282.6L624 282.6L619.2 282.6L614.4 282.6L609.6 282.6L604.9 282.6L600.1 282.6L595.3 282.6L590.5 282.6L585.7 282.6L580.9 282.6L576.1 282.6L571.3 282.6L566.5 282.6L561.7 282.6L557 282.6L552.2 282.6L547.4 282.6L542.6 282.6L537.8 282.6L533 282.6L528.2 282.6L523.4 282.6L518.6 282.6L513.8 282.6L509.1 282.6L504.3 282.6L499.5 282.6L494.7 282.6L489.9 282.6L485.1 282.6L480.3 282.6L475.5 282.6L470.7 282.6L465.9 282.6L461.2 282.6L456.4 282.6L451.6 282.6L446.8 282.6L442 282.6L437.2 282.6L432.4 282.6L427.6 282.6L422.8 282.6L418 282.6L414.7 282.6L413.3 284.9L412 286.9L409.5 291.1L408.5 292.9L407 295.4L404.7 299.7L403.7 301.5L402.4 304L400.2 308.2L398.9 311L398.1 312.5L396.2 316.8L394.2 321.1L394.1 321.4L394.1 325.3L394.1 329.6L394.1 333.9L394.1 338.2L394.1 342.4L394.1 346.7L394.1 351L394.1 355.2L394.1 359.5L394.1 363.8L394.1 368.1L394.1 372.3L394.1 376.6L394.1 380.9L394.1 385.2L394.1 389.4L394.1 393.7L394.1 398L394.1 402.3L394.1 406.5L394.1 410.8L394.1 415.1L394.1 419.4L394.1 423.6L394.1 427.9L394.1 432.2L394.1 436.4L394.1 440.7L394.1 445L394.1 449.3L394.1 453.5L394.1 457.8L394.1 462.1L394.1 466.4L394.1 470.6L394.1 474.9L394.1 479.2L394.1 483.5L394.1 486.3L394.9 487.7L397.4 492Z" fill="#0a9e1e"/>
<path d="M401.8 492L403.7 492L408.5 492L413.3 492L418 492L422.8 492L427.6 492L432.4 492L437.2 492L442 492L446.8 492L451.6 492L456.4 492L461.2 492L465.9 492L470.7 492L475.5 492L480.3 492L485.1 492L489.9 492L494.7 492L499.5 492L504.3 492L509.1 492L513.8 492L518.6 492L523.4 492L528.2 492L533 492L537.8 492L542.6 492L547.4 492L552.2 492L557 492L561.7 492L566.5 492L571.3 492L576.1 492L580.9 492L585.7 492L590.5 492L595.3 492L600.1 492L604.9 492L609.6 492L614.4 492L619.2 492L624 492L628.8 492L633.6 492L638.4 492L643.2 492L648 492L652.8 492L657.5 492L662.3 492L667.1 492L671.9 492L676.7 492L676.7 487.7L676.7 483.5L676.7 479.2L676.7 474.9L676.7 470.6L676.7 466.4L676.7 462.1L676.7 457.8L676.7 453.5L676.7 449.3L676.7 445L676.7 440.7L676.7 436.4L676.7 432.2L676.7 427.9L676.7 423.6L676.7 419.4L676.7 415.1L676.7 410.8L676.7 406.5L676.7 402.3L676.7 398L676.7 393.7L676.7 389.4L676.7 385.2L676.7 380.9L676.7 376.6L676.7 372.3L676.7 368.1L676.7 363.8L676.7 359.5L676.7 355.2L676.7 351L676.7 346.7L676.7 342.4L676.7 338.2L676.7 333.9L676.7 329.6L676.7 325.3L676.7 321.1L676.7 316.8L676.7 312.5L676.7 308.2L676.7 304L676.7 299.7L676.7 295.4L676.7 291.1L676.7 286.9L676.7 282.6L671.9 282.6L667.1 282.6L662.3 282.6L657.5 282.6L652.8 282.6L648 282.6L643.2 282.6L638.4 282.6L633.6 282.6L628.8 282.6L624 282.6L619.2 282.6L614.4 282.6L609.6 282.6L604.9 282.6L600.1 282.6L595.3 282.6L590.5 282.6L585.7 282.6L580.9 282.6L576.1 282.6L571.3 282.6L566.5 282.6L561.7 282.6L557 282.6L552.2 282.6L547.4 282.6L542.6 282.6L537.8 282.6L533 282.6L528.2 282.6L523.4 282.6L518.6 282.6L513.8 282.6L509.1 282.6L504.3 282.6L499.5 282.6L494.7 282.6L489.9 282.6L485.1 282.6L480.3 282.6L475.5 282.6L470.7 282.6L465.9 282.6L461.2 282.6L456.4 282.6L451.6 282.6L446.8 282.6L442 282.6L437.2 282.6L432.4 282.6L427.6 282.6L422.8 282.6L418 282.6L417.4 282.6L414.8 286.9L413.3 289.5L412.3 291.1L409.8 295.4L408.5 297.9L407.5 299.7L405.2 304L403.7 307L403 308.2L401 312.5L399 316.8L398.9 317L397.1 321.1L395.3 325.3L394.1 328.3L394.1 329.6L394.1 333.9L394.1 338.2L394.1 342.4L394.1 346.7L394.1 351L394.1 355.2L394.1 359.5L394.1 363.8L394.1 368.1L394.1 372.3L394.1 376.6L394.1 380.9L394.1 385.2L394.1 389.4L394.1 393.7L394.1 398L394.1 402.3L394.1 406.5L394.1 410.8L394.1 415.1L394.1 419.4L394.1 423.6L394.1 427.9L394.1 432.2L394.1 436.4L394.1 440.7L394.1 445L394.1 449.3L394.1 453.5L394.1 457.8L394.1 462.1L394.1 466.4L394.1 470.6L394.1 474.9L394.1 478L394.7 479.2L396.9 483.5L398.9 487.1L399.3 487.7L401.8 492Z" fill="#09a61a"/>
<path d="M406.4 492L408.5 492L413.3 492L418 492L422.8 492L427.6 492L432.4 492L437.2 492L442 492L446.8 492L451.6 492L456.4 492L461.2 492L465.9 492L470.7 492L475.5 492L480.3 492L485.1 492L489.9 492L494.7 492L499.5 492L504.3 492L509.1 492L513.8 492L518.6 492L523.4 492L528.2 492L533 492L537.8 492L542.6 492L547.4 492L552.2 492L557 492L561.7 492L566.5 492L571.3 492L576.1 492L580.9 492L585.7 492L590.5 492L595.3 492L600.1 492L604.9 492L609.6 492L614.4 492L619.2 492L624 492L628.8 492L633.6 492L638.4 492L643.2 492L648 492L652.8 492L657.5 492L662.3 492L667.1 492L671.9 492L676.7 492L676.7 487.7L676.7 483.5L676.7 479.2L676.7 474.9L676.7 470.6L676.7 466.4L676.7 462.1L676.7 457.8L676.7 453.5L676.7 449.3L676.7 445L676.7 440.7L676.7 436.4L676.7 432.2L676.7 427.9L676.7 423.6L676.7 419.4L676.7 415.1L676.7 410.8L676.7 406.5L676.7 402.3L676.7 398L676.7 393.7L676.7 389.4L676.7 385.2L676.7 380.9L676.7 376.6L676.7 372.3L676.7 368.1L676.7 363.8L676.7 359.5L676.7 355.2L676.7 351L676.7 346.7L676.7 342.4L676.7 338.2L676.7 333.9L676.7 329.6L676.7 325.3L676.7 321.1L676.7 316.8L676.7 312.5L676.7 308.2L676.7 304L676.7 299.7L676.7 295.4L676.7 291.1L676.7 286.9L676.7 282.6L671.9 282.6L667.1 282.6L662.3 282.6L657.5 282.6L652.8 282.6L648 282.6L643.2 282.6L638.4 282.6L633.6 282.6L628.8 282.6L624 282.6L619.2 282.6L614.4 282.6L609.6 282.6L604.9 282.6L600.1 282.6L595.3 282.6L590.5 282.6L585.7 282.6L580.9 282.6L576.1 282.6L571.3 282.6L566.5 282.6L561.7 282.6L557 282.6L552.2 282.6L547.4 282.6L542.6 282.6L537.8 282.6L533 282.6L528.2 282.6L523.4 282.6L518.6 282.6L513.8 282.6L509.1 282.6L504.3 282.6L499.5 282.6L494.7 282.6L489.9 282.6L485.1 282.6L480.3 282.6L475.5 282.6L470.7 282.6L465.9 282.6L461.2 282.6L456.4 282.6L451.6 282.6L446.8 282.6L442 282.6L437.2 282.6L432.4 282.6L427.6 282.6L422.8 282.6L420.3 282.6L418 286.2L417.6 286.9L415.1 291.1L413.3 294.3L412.6 295.4L410.3 299.7L408.5 303.1L408 304L405.9 308.2L403.8 312.5L403.7 312.8L401.8 316.8L400 321.1L398.9 323.6L398.2 325.3L396.5 329.6L394.9 333.9L394.1 336.1L394.1 338.2L394.1 342.4L394.1 346.7L394.1 351L394.1 355.2L394.1 359.5L394.1 363.8L394.1 368.1L394.1 372.3L394.1 376.6L394.1 380.9L394.1 385.2L394.1 389.4L394.1 393.7L394.1 398L394.1 402.3L394.1 406.5L394.1 410.8L394.1 415.1L394.1 419.4L394.1 423.6L394.1 427.9L394.1 432.2L394.1 436.4L394.1 440.7L394.1 445L394.1 449.3L394.1 453.5L394.1 457.8L394.1 462.1L394.1 466.4L394.1 468.9L394.9 470.6L396.8 474.9L398.9 479.1L398.9 479.2L401.2 483.5L403.7 487.7L406.4 492Z" fill="#08af17"/>
<path d="M408.2 487.7L408.5 488.1L411 492L413.3 492L418 492L422.8 492L427.6 492L432.4 492L437.2 492L442 492L446.8 492L451.6 492L456.4 492L461.2 492L465.9 492L470.7 492L475.5 492L480.3 492L485.1 492L489.9 492L494.7 492L499.5 492L504.3 492L509.1 492L513.8 492L518.6 492L523.4 492L528.2 492L533 492L537.8 492L542.6 492L547.4 492L552.2 492L557 492L561.7 492L566.5 492L571.3 492L576.1 492L580.9 492L585.7 492L590.5 492L595.3 492L600.1 492L604.9 492L609.6 492L614.4 492L619.2 492L624 492L628.8 492L633.6 492L638.4 492L643.2 492L648 492L652.8 492L657.5 492L662.3 492L667.1 492L671.9 492L676.7 492L676.7 487.7L676.7 483.5L676.7 479.2L676.7 474.9L676.7 470.6L676.7 466.4L676.7 462.1L676.7 457.8L676.7 453.5L676.7 449.3L676.7 445L676.7 440.7L676.7 436.4L676.7 432.2L676.7 427.9L676.7 423.6L676.7 419.4L676.7 415.1L676.7 410.8L676.7 406.5L676.7 402.3L676.7 398L676.7 393.7L676.7 389.4L676.7 385.2L676.7 380.9L676.7 376.6L676.7 372.3L676.7 368.1L676.7 363.8L676.7 359.5L676.7 355.2L676.7 351L676.7 346.7L676.7 342.4L676.7 338.2L676.7 333.9L676.7 329.6L676.7 325.3L676.7 321.1L676.7 316.8L676.7 312.5L676.7 308.2L676.7 304L676.7 299.7L676.7 295.4L676.7 291.1L676.7 286.9L676.7 282.6L671.9 282.6L667.1 282.6L662.3 282.6L657.5 282.6L652.8 282.6L648 282.6L643.2 282.6L638.4 282.6L633.6 282.6L628.8 282.6L624 282.6L619.2 282.6L614.4 282.6L609.6 282.6L604.9 282.6L600.1 282.6L595.3 282.6L590.5 282.6L585.7 282.6L580.9 282.6L576.1 282.6L571.3 282.6L566.5 282.6L561.7 282.6L557 282.6L552.2 282.6L547.4 282.6L542.6 282.6L537.8 282.6L533 282.6L528.2 282.6L523.4 282.6L518.6 282.6L513.8 282.6L509.1 282.6L504.3 282.6L499.5 282.6L494.7 282.6L489.9 282.6L485.1 282.6L480.3 282.6L475.5 282.6L470.7 282.6L465.9 282.6L461.2 282.6L456.4 282.6L451.6 282.6L446.8 282.6L442 282.6L437.2 282.6L432.4 282.6L427.6 282.6L423.1 282.6L422.8 283L420.4 286.9L418 290.9L417.9 291.1L415.5 295.4L413.3 299.4L413.1 299.7L410.9 304L408.7 308.2L408.5 308.8L406.7 312.5L404.7 316.8L403.7 319.1L402.8 321.1L401.1 325.3L399.4 329.6L398.9 331L397.8 333.9L396.3 338.2L394.9 342.4L394.1 345L394.1 346.7L394.1 351L394.1 355.2L394.1 359.5L394.1 363.8L394.1 368.1L394.1 372.3L394.1 376.6L394.1 380.9L394.1 385.2L394.1 389.4L394.1 393.7L394.1 398L394.1 402.3L394.1 406.5L394.1 410.8L394.1 415.1L394.1 419.4L394.1 423.6L394.1 427.9L394.1 432.2L394.1 436.4L394.1 440.7L394.1 445L394.1 449.3L394.1 453.5L394.1 457.8L394.1 458.6L395.4 462.1L397.1 466.4L398.9 470.5L399 470.6L401 474.9L403.2 479.2L403.7 480L405.6 483.5L408.2 487.7Z" fill="#08ba13"/>
<path d="M412.8 487.7L413.3 488.4L415.8 492L418 492L422.8 492L427.6 492L432.4 492L437.2 492L442 492L446.8 492L451.6 492L456.4 492L461.2 492L465.9 492L470.7 492L475.5 492L480.3 492L485.1 492L489.9 492L494.7 492L499.5 492L504.3 492L509.1 492L513.8 492L518.6 492L523.4 492L528.2 492L533 492L537.8 492L542.6 492L547.4 492L552.2 492L557 492L561.7 492L566.5 492L571.3 492L576.1 492L580.9 492L585.7 492L590.5 492L595.3 492L600.1 492L604.9 492L609.6 492L614.4 492L619.2 492L624 492L628.8 492L633.6 492L638.4 492L643.2 492L648 492L652.8 492L657.5 492L662.3 492L667.1 492L671.9 492L676.2 492L676.7 491.6L676.7 487.7L676.7 483.5L676.7 479.2L676.7 474.9L676.7 470.6L676.7 466.4L676.7 462.1L676.7 457.8L676.7 453.5L676.7 449.3L676.7 445L676.7 440.7L676.7 436.4L676.7 432.2L676.7 427.9L676.7 423.6L676.7 419.4L676.7 415.1L676.7 410.8L676.7 406.5L676.7 402.3L676.7 398L676.7 393.7L676.7 389.4L676.7 385.2L676.7 380.9L676.7 376.6L676.7 372.3L676.7 368.1L676.7 363.8L676.7 359.5L676.7 355.2L676.7 351L676.7 346.7L676.7 342.4L676.7 338.2L676.7 333.9L676.7 329.6L676.7 325.3L676.7 321.1L676.7 316.8L676.7 312.5L676.7 308.2L676.7 304L676.7 299.7L676.7 295.4L676.7 291.1L676.7 286.9L676.7 282.6L671.9 282.6L667.1 282.6L662.3 282.6L657.5 282.6L652.8 282.6L648 282.6L643.2 282.6L638.4 282.6L633.6 282.6L628.8 282.6L624 282.6L619.2 282.6L614.4 282.6L609.6 282.6L604.9 282.6L600.1 282.6L595.3 282.6L590.5 282.6L585.7 282.6L580.9 282.6L576.1 282.6L571.3 282.6L566.5 282.6L561.7 282.6L557 282.6L552.2 282.6L547.4 282.6L542.6 282.6L537.8 282.6L533 282.6L528.2 282.6L523.4 282.6L518.6 282.6L513.8 282.6L509.1 282.6L504.3 282.6L499.5 282.6L494.7 282.6L489.9 282.6L485.1 282.6L480.3 282.6L475.5 282.6L470.7 282.6L465.9 282.6L461.2 282.6L456.4 282.6L451.6 282.6L446.8 282.6L442 282.6L437.2 282.6L432.4 282.6L427.6 282.6L425.9 282.6L423.3 286.9L422.8 287.6L420.7 291.1L418.3 295.4L418 295.9L416 299.7L413.7 304L413.3 304.9L411.6 308.2L409.6 312.5L408.5 314.9L407.6 316.8L405.8 321.1L404 325.3L403.7 326.1L402.3 329.6L400.7 333.9L399.3 338.2L398.9 339.3L397.9 342.4L396.6 346.7L395.4 351L394.3 355.2L394.1 355.9L394.1 359.5L394.1 363.8L394.1 368.1L394.1 372.3L394.1 376.6L394.1 380.9L394.1 385.2L394.1 389.4L394.1 393.7L394.1 398L394.1 402.3L394.1 406.5L394.1 410.8L394.1 415.1L394.1 419.4L394.1 423.6L394.1 427.9L394.1 432.2L394.1 436.4L394.1 440.7L394.1 445L394.1 446.3L394.9 449.3L396.3 453.5L397.8 457.8L398.9 460.8L399.4 462.1L401.2 466.4L403.1 470.6L403.7 471.7L405.3 474.9L407.6 479.2L408.5 480.7L410.1 483.5L412.8 487.7Z" fill="#08c510"/>
<path d="M417.5 487.7L418 488.5L420.6 492L422.8 492L427.6 492L432.4 492L437.2 492L442 492L446.8 492L451.6 492L456.4 492L461.2 492L465.9 492L470.7 492L475.5 492L480.3 492L485.1 492L489.9 492L494.7 492L499.5 492L504.3 492L509.1 492L513.8 492L518.6 492L523.4 492L528.2 492L533 492L537.8 492L542.6 492L547.4 492L552.2 492L557 492L561.7 492L566.5 492L571.3 492L576.1 492L580.9 492L585.7 492L590.5 492L595.3 492L600.1 492L604.9 492L609.6 492L614.4 492L619.2 492L624 492L628.8 492L633.6 492L638.4 492L643.2 492L648 492L652.8 492L657.5 492L662.3 492L667.1 492L671.9 492L672.6 492L676.7 489L676.7 487.7L676.7 483.5L676.7 479.2L676.7 474.9L676.7 470.6L676.7 466.4L676.7 462.1L676.7 457.8L676.7 453.5L676.7 449.3L676.7 445L676.7 440.7L676.7 436.4L676.7 432.2L676.7 427.9L676.7 423.6L676.7 419.4L676.7 415.1L676.7 410.8L676.7 406.5L676.7 402.3L676.7 398L676.7 393.7L676.7 389.4L676.7 385.2L676.7 380.9L676.7 376.6L676.7 372.3L676.7 368.1L676.7 363.8L676.7 359.5L676.7 355.2L676.7 351L676.7 346.7L676.7 342.4L676.7 338.2L676.7 333.9L676.7 329.6L676.7 325.3L676.7 321.1L676.7 316.8L676.7 312.5L676.7 308.2L676.7 304L676.7 299.7L676.7 295.4L676.7 291.1L676.7 286.9L676.7 282.6L671.9 282.6L667.1 282.6L662.3 282.6L657.5 282.6L652.8 282.6L648 282.6L643.2 282.6L638.4 282.6L633.6 282.6L628.8 282.6L624 282.6L619.2 282.6L614.4 282.6L609.6 282.6L604.9 282.6L600.1 282.6L595.3 282.6L590.5 282.6L585.7 282.6L580.9 282.6L576.1 282.6L571.3 282.6L566.5 282.6L561.7 282.6L557 282.6L552.2 282.6L547.4 282.6L542.6 282.6L537.8 282.6L533 282.6L528.2 282.6L523.4 282.6L518.6 282.6L513.8 282.6L509.1 282.6L504.3 282.6L499.5 282.6L494.7 282.6L489.9 282.6L485.1 282.6L480.3 282.6L475.5 282.6L470.7 282.6L465.9 282.6L461.2 282.6L456.4 282.6L451.6 282.6L446.8 282.6L442 282.6L437.2 282.6L432.4 282.6L428.8 282.6L427.6 284.5L426.1 286.9L423.6 291.1L422.8 292.5L421.2 295.4L418.9 299.7L418 301.2L416.6 304L414.5 308.2L413.3 310.8L412.5 312.5L410.5 316.8L408.7 321.1L408.5 321.5L406.9 325.3L405.3 329.6L403.7 333.9L403.7 334L402.2 338.2L400.9 342.4L399.6 346.7L398.9 349.2L398.4 351L397.3 355.2L396.3 359.5L395.4 363.8L394.6 368.1L394.1 371.1L394.1 372.3L394.1 376.6L394.1 380.9L394.1 385.2L394.1 389.4L394.1 393.7L394.1 398L394.1 402.3L394.1 406.5L394.1 410.8L394.1 415.1L394.1 419.4L394.1 423.6L394.1 427.9L394.1 429.8L394.5 432.2L395.4 436.4L396.4 440.7L397.5 445L398.8 449.3L398.9 449.6L400.2 453.5L401.8 457.8L403.5 462.1L403.7 462.6L405.4 466.4L407.4 470.6L408.5 472.7L409.6 474.9L412 479.2L413.3 481.2L414.7 483.5L417.5 487.7Z" fill="#09d00e"/>
<path d="M422.3 487.7L422.8 488.4L425.6 492L427.6 492L432.4 492L437.2 492L442 492L446.8 492L451.6 492L456.4 492L461.2 492L465.9 492L470.7 492L475.5 492L480.3 492L485.1 492L489.9 492L494.7 492L499.5 492L504.3 492L509.1 492L513.8 492L518.6 492L523.4 492L528.2 492L533 492L537.8 492L542.6 492L547.4 492L552.2 492L557 492L561.7 492L566.5 492L571.3 492L576.1 492L580.9 492L585.7 492L590.5 492L595.3 492L600.1 492L604.9 492L609.6 492L614.4 492L619.2 492L624 492L628.8 492L633.6 492L638.4 492L643.2 492L648 492L652.8 492L657.5 492L662.3 492L667.1 492L668.9 492L671.9 489.9L674.8 487.7L676.7 486.4L676.7 483.5L676.7 479.2L676.7 474.9L676.7 470.6L676.7 466.4L676.7 462.1L676.7 457.8L676.7 453.5L676.7 449.3L676.7 445L676.7 440.7L676.7 436.4L676.7 432.2L676.7 427.9L676.7 423.6L676.7 419.4L676.7 415.1L676.7 410.8L676.7 406.5L676.7 402.3L676.7 398L676.7 393.7L676.7 389.4L676.7 385.2L676.7 380.9L676.7 376.6L676.7 372.3L676.7 368.1L676.7 363.8L676.7 359.5L676.7 355.2L676.7 351L676.7 346.7L676.7 342.4L676.7 338.2L676.7 333.9L676.7 329.6L676.7 325.3L676.7 321.1L676.7 316.8L676.7 312.5L676.7 308.2L676.7 304L676.7 299.7L676.7 295.4L676.7 291.1L676.7 286.9L676.7 282.6L671.9 282.6L667.1 282.6L662.3 282.6L657.5 282.6L652.8 282.6L648 282.6L643.2 282.6L638.4 282.6L633.6 282.6L628.8 282.6L624 282.6L619.2 282.6L614.4 282.6L609.6 282.6L604.9 282.6L600.1 282.6L595.3 282.6L590.5 282.6L585.7 282.6L580.9 282.6L576.1 282.6L571.3 282.6L566.5 282.6L561.7 282.6L557 282.6L552.2 282.6L547.4 282.6L542.6 282.6L537.8 282.6L533 282.6L528.2 282.6L523.4 282.6L518.6 282.6L513.8 282.6L509.1 282.6L504.3 282.6L499.5 282.6L494.7 282.6L489.9 282.6L485.1 282.6L480.3 282.6L475.5 282.6L470.7 282.6L465.9 282.6L461.2 282.6L456.4 282.6L451.6 282.6L446.8 282.6L442 282.6L437.2 282.6L432.4 282.6L431.7 282.6L429 286.9L427.6 289.2L426.5 291.1L424.1 295.4L422.8 297.7L421.8 299.7L419.5 304L418 306.9L417.4 308.2L415.4 312.5L413.4 316.8L413.3 317.2L411.6 321.1L409.9 325.3L408.5 329L408.2 329.6L406.7 333.9L405.2 338.2L403.9 342.4L403.7 343.1L402.6 346.7L401.5 351L400.4 355.2L399.4 359.5L398.9 362L398.5 363.8L397.7 368.1L397 372.3L396.5 376.6L396 380.9L395.6 385.2L395.3 389.4L395.1 393.7L395 398L395 402.3L395.1 406.5L395.3 410.8L395.7 415.1L396.1 419.4L396.7 423.6L397.4 427.9L398.2 432.2L398.9 435.4L399.1 436.4L400.2 440.7L401.4 445L402.7 449.3L403.7 452.1L404.2 453.5L405.8 457.8L407.6 462.1L408.5 464L409.6 466.4L411.7 470.6L413.3 473.5L414 474.9L416.6 479.2L418 481.5L419.3 483.5L422.3 487.7Z" fill="#0cdc0e"/>
<path d="M427.3 487.7L427.6 488.2L430.7 492L432.4 492L437.2 492L442 492L446.8 492L451.6 492L456.4 492L461.2 492L465.9 492L470.7 492L475.5 492L480.3 492L485.1 492L489.9 492L494.7 492L499.5 492L504.3 492L509.1 492L513.8 492L518.6 492L523.4 492L528.2 492L533 492L537.8 492L542.6 492L547.4 492L552.2 492L557 492L561.7 492L566.5 492L571.3 492L576.1 492L580.9 492L585.7 492L590.5 492L595.3 492L600.1 492L604.9 492L609.6 492L614.4 492L619.2 492L624 492L628.8 492L633.6 492L638.4 492L643.2 492L648 492L652.8 492L657.5 492L662.3 492L665.1 492L667.1 490.6L671.2 487.7L671.9 487.2L676.7 483.7L676.7 483.5L676.7 479.2L676.7 474.9L676.7 470.6L676.7 466.4L676.7 462.1L676.7 457.8L676.7 453.5L676.7 449.3L676.7 445L676.7 440.7L676.7 436.4L676.7 432.2L676.7 427.9L676.7 423.6L676.7 419.4L676.7 415.1L676.7 410.8L676.7 406.5L676.7 402.3L676.7 398L676.7 393.7L676.7 389.4L676.7 385.2L676.7 380.9L676.7 376.6L676.7 372.3L676.7 368.1L676.7 363.8L676.7 359.5L676.7 355.2L676.7 351L676.7 346.7L676.7 342.4L676.7 338.2L676.7 333.9L676.7 329.6L676.7 325.3L676.7 321.1L676.7 316.8L676.7 312.5L676.7 308.2L676.7 304L676.7 299.7L676.7 295.4L676.7 291.1L676.7 286.9L676.7 282.6L671.9 282.6L667.1 282.6L662.3 282.6L657.5 282.6L652.8 282.6L648 282.6L643.2 282.6L638.4 282.6L633.6 282.6L628.8 282.6L624 282.6L619.2 282.6L614.4 282.6L609.6 282.6L604.9 282.6L600.1 282.6L595.3 282.6L590.5 282.6L585.7 282.6L580.9 282.6L576.1 282.6L571.3 282.6L566.5 282.6L561.7 282.6L557 282.6L552.2 282.6L547.4 282.6L542.6 282.6L537.8 282.6L533 282.6L528.2 282.6L523.4 282.6L518.6 282.6L513.8 282.6L509.1 282.6L504.3 282.6L499.5 282.6L494.7 282.6L489.9 282.6L485.1 282.6L480.3 282.6L475.5 282.6L470.7 282.6L465.9 282.6L461.2 282.6L456.4 282.6L451.6 282.6L446.8 282.6L442 282.6L437.2 282.6L434.6 282.6L432.4 286.1L431.9 286.9L429.4 291.1L427.6 294.3L427 295.4L424.7 299.7L422.8 303.2L422.5 304L420.3 308.2L418.3 312.5L418 313.1L416.4 316.8L414.6 321.1L413.3 324.3L412.9 325.3L411.2 329.6L409.7 333.9L408.5 337.5L408.3 338.2L406.9 342.4L405.7 346.7L404.5 351L403.7 354.4L403.5 355.2L402.5 359.5L401.7 363.8L400.9 368.1L400.2 372.3L399.7 376.6L399.2 380.9L398.9 384.4L398.8 385.2L398.6 389.4L398.4 393.7L398.3 398L398.4 402.3L398.5 406.5L398.8 410.8L398.9 411.7L399.2 415.1L399.7 419.4L400.3 423.6L401 427.9L401.9 432.2L402.9 436.4L403.7 439.5L404 440.7L405.3 445L406.7 449.3L408.2 453.5L408.5 454.2L409.9 457.8L411.8 462.1L413.3 465.1L413.9 466.4L416.1 470.6L418 474.1L418.5 474.9L421.2 479.2L422.8 481.6L424.1 483.5L427.3 487.7Z" fill="#0fe80e"/>
<path d="M432.3 487.7L432.4 487.8L436 492L437.2 492L442 492L446.8 492L451.6 492L456.4 492L461.2 492L465.9 492L470.7 492L475.5 492L480.3 492L485.1 492L489.9 492L494.7 492L499.5 492L504.3 492L509.1 492L513.8 492L518.6 492L523.4 492L528.2 492L533 492L537.8 492L542.6 492L547.4 492L552.2 492L557 492L561.7 492L566.5 492L571.3 492L576.1 492L580.9 492L585.7 492L590.5 492L595.3 492L600.1 492L604.9 492L609.6 492L614.4 492L619.2 492L624 492L628.8 492L633.6 492L638.4 492L643.2 492L648 492L652.8 492L657.5 492L661.1 492L662.3 491.2L667.1 487.9L667.4 487.7L671.9 484.5L673.4 483.5L676.7 481L676.7 479.2L676.7 474.9L676.7 470.6L676.7 466.4L676.7 462.1L676.7 457.8L676.7 453.5L676.7 449.3L676.7 445L676.7 440.7L676.7 436.4L676.7 432.2L676.7 427.9L676.7 423.6L676.7 419.4L676.7 415.1L676.7 410.8L676.7 406.5L676.7 402.3L676.7 398L676.7 393.7L676.7 389.4L676.7 385.2L676.7 380.9L676.7 376.6L676.7 372.3L676.7 368.1L676.7 363.8L676.7 359.5L676.7 355.2L676.7 351L676.7 346.7L676.7 342.4L676.7 338.2L676.7 333.9L676.7 329.6L676.7 325.3L676.7 321.1L676.7 316.8L676.7 312.5L676.7 308.2L676.7 304L676.7 299.7L676.7 295.4L676.7 291.1L676.7 286.9L676.7 282.6L671.9 282.6L667.1 282.6L662.3 282.6L657.5 282.6L652.8 282.6L648 282.6L643.2 282.6L638.4 282.6L633.6 282.6L628.8 282.6L624 282.6L619.2 282.6L614.4 282.6L609.6 282.6L604.9 282.6L600.1 282.6L595.3 282.6L590.5 282.6L585.7 282.6L580.9 282.6L576.1 282.6L571.3 282.6L566.5 282.6L561.7 282.6L557 282.6L552.2 282.6L547.4 282.6L542.6 282.6L537.8 282.6L533 282.6L528.2 282.6L523.4 282.6L518.6 282.6L513.8 282.6L509.1 282.6L504.3 282.6L499.5 282.6L494.7 282.6L489.9 282.6L485.1 282.6L480.3 282.6L475.5 282.6L470.7 282.6L465.9 282.6L461.2 282.6L456.4 282.6L451.6 282.6L446.8 282.6L442 282.6L437.5 282.6L437.2 283.1L434.9 286.9L432.4 291L432.3 291.1L429.9 295.4L427.6 299.7L425.4 304L423.3 308.2L422.8 309.2L421.3 312.5L419.4 316.8L418 319.9L417.6 321.1L415.9 325.3L414.2 329.6L413.3 332.4L412.7 333.9L411.3 338.2L410 342.4L408.7 346.7L408.5 347.8L407.6 351L406.6 355.2L405.7 359.5L404.8 363.8L404.1 368.1L403.7 370.7L403.4 372.3L402.9 376.6L402.5 380.9L402.1 385.2L401.9 389.4L401.8 393.7L401.7 398L401.8 402.3L402 406.5L402.3 410.8L402.7 415.1L403.3 419.4L403.7 422L403.9 423.6L404.7 427.9L405.6 432.2L406.7 436.4L407.9 440.7L408.5 442.7L409.2 445L410.7 449.3L412.3 453.5L413.3 455.8L414.1 457.8L416.1 462.1L418 466L418.2 466.4L420.6 470.6L422.8 474.4L423.2 474.9L426 479.2L427.6 481.6L429 483.5L432.3 487.7Z" fill="#1ff10f"/>
<path d="M441.4 492L442 492L446.8 492L451.6 492L456.4 492L461.2 492L465.9 492L470.7 492L475.5 492L480.3 492L485.1 492L489.9 492L494.7 492L499.5 492L504.3 492L509.1 492L513.8 492L518.6 492L523.4 492L528.2 492L533 492L537.8 492L542.6 492L547.4 492L552.2 492L557 492L561.7 492L566.5 492L571.3 492L576.1 492L580.9 492L585.7 492L590.5 492L595.3 492L600.1 492L604.9 492L609.6 492L614.4 492L619.2 492L624 492L628.8 492L633.6 492L638.4 492L643.2 492L648 492L652.8 492L656.9 492L657.5 491.6L662.3 488.5L663.4 487.7L667.1 485.2L669.6 483.5L671.9 481.8L675.5 479.2L676.7 478.3L676.7 474.9L676.7 470.6L676.7 466.4L676.7 462.1L676.7 457.8L676.7 453.5L676.7 449.3L676.7 445L676.7 440.7L676.7 436.4L676.7 432.2L676.7 427.9L676.7 423.6L676.7 419.4L676.7 415.1L676.7 410.8L676.7 406.5L676.7 402.3L676.7 398L676.7 393.7L676.7 389.4L676.7 385.2L676.7 380.9L676.7 376.6L676.7 372.3L676.7 368.1L676.7 363.8L676.7 359.5L676.7 355.2L676.7 351L676.7 346.7L676.7 342.4L676.7 338.2L676.7 333.9L676.7 329.6L676.7 325.3L676.7 321.1L676.7 316.8L676.7 312.5L676.7 308.2L676.7 304L676.7 299.7L676.7 295.4L676.7 291.1L676.7 286.9L676.7 282.6L671.9 282.6L667.1 282.6L662.3 282.6L657.5 282.6L652.8 282.6L648 282.6L643.2 282.6L638.4 282.6L633.6 282.6L628.8 282.6L624 282.6L619.2 282.6L614.4 282.6L609.6 282.6L604.9 282.6L600.1 282.6L595.3 282.6L590.5 282.6L585.7 282.6L580.9 282.6L576.1 282.6L571.3 282.6L566.5 282.6L561.7 282.6L557 282.6L552.2 282.6L547.4 282.6L542.6 282.6L537.8 282.6L533 282.6L528.2 282.6L523.4 282.6L518.6 282.6L513.8 282.6L509.1 282.6L504.3 282.6L499.5 282.6L494.7 282.6L489.9 282.6L485.1 282.6L480.3 282.6L475.5 282.6L470.7 282.6L465.9 282.6L461.2 282.6L456.4 282.6L451.6 282.6L446.8 282.6L442 282.6L440.5 282.6L437.8 286.9L437.2 287.9L435.3 291.1L432.9 295.4L432.4 296.3L430.6 299.7L428.4 304L427.6 305.5L426.3 308.2L424.3 312.5L422.8 315.8L422.4 316.8L420.6 321.1L418.9 325.3L418 327.6L417.3 329.6L415.8 333.9L414.4 338.2L413.3 341.8L413.1 342.4L411.9 346.7L410.7 351L409.7 355.2L408.8 359.5L408.5 361.3L408 363.8L407.3 368.1L406.7 372.3L406.2 376.6L405.8 380.9L405.4 385.2L405.2 389.4L405.1 393.7L405.2 398L405.3 402.3L405.5 406.5L405.9 410.8L406.3 415.1L406.9 419.4L407.6 423.6L408.5 427.9L409.4 432.2L410.6 436.4L411.8 440.7L413.2 445L413.3 445.2L414.8 449.3L416.5 453.5L418 457.2L418.3 457.8L420.4 462.1L422.7 466.4L422.8 466.6L425.2 470.6L427.6 474.5L427.9 474.9L430.8 479.2L432.4 481.3L434 483.5L437.2 487.3L437.6 487.7L441.4 492Z" fill="#3cf711"/>
<path d="M443 487.7L446.8 491.7L447.1 492L451.6 492L456.4 492L461.2 492L465.9 492L470.7 492L475.5 492L480.3 492L485.1 492L489.9 492L494.7 492L499.5 492L504.3 492L509.1 492L513.8 492L518.6 492L523.4 492L528.2 492L533 492L537.8 492L542.6 492L547.4 492L552.2 492L557 492L561.7 492L566.5 492L571.3 492L576.1 492L580.9 492L585.7 492L590.5 492L595.3 492L600.1 492L604.9 492L609.6 492L614.4 492L619.2 492L624 492L628.8 492L633.6 492L638.4 492L643.2 492L648 492L652.5 492L652.8 491.9L657.5 488.8L659.3 487.7L662.3 485.7L665.7 483.5L667.1 482.5L671.8 479.2L671.9 479.1L676.7 475.5L676.7 474.9L676.7 470.6L676.7 466.4L676.7 462.1L676.7 457.8L676.7 453.5L676.7 449.3L676.7 445L676.7 440.7L676.7 436.4L676.7 432.2L676.7 427.9L676.7 423.6L676.7 419.4L676.7 415.1L676.7 410.8L676.7 406.5L676.7 402.3L676.7 398L676.7 393.7L676.7 389.4L676.7 385.2L676.7 380.9L676.7 376.6L676.7 372.3L676.7 368.1L676.7 363.8L676.7 359.5L676.7 355.2L676.7 351L676.7 346.7L676.7 342.4L676.7 338.2L676.7 333.9L676.7 329.6L676.7 325.3L676.7 321.1L676.7 316.8L676.7 312.5L676.7 308.2L676.7 304L676.7 299.7L676.7 295.4L676.7 291.1L676.7 286.9L676.7 282.6L671.9 282.6L667.1 282.6L662.3 282.6L657.5 282.6L652.8 282.6L648 282.6L643.2 282.6L638.4 282.6L633.6 282.6L628.8 282.6L624 282.6L619.2 282.6L614.4 282.6L609.6 282.6L604.9 282.6L600.1 282.6L595.3 282.6L590.5 282.6L585.7 282.6L580.9 282.6L576.1 282.6L571.3 282.6L566.5 282.6L561.7 282.6L557 282.6L552.2 282.6L547.4 282.6L542.6 282.6L537.8 282.6L533 282.6L528.2 282.6L523.4 282.6L518.6 282.6L513.8 282.6L509.1 282.6L504.3 282.6L499.5 282.6L494.7 282.6L489.9 282.6L485.1 282.6L480.3 282.6L475.5 282.6L470.7 282.6L465.9 282.6L461.2 282.6L456.4 282.6L451.6 282.6L446.8 282.6L443.4 282.6L442 284.9L440.8 286.9L438.3 291.1L437.2 293.1L435.9 295.4L433.6 299.7L432.4 302L431.4 304L429.3 308.2L427.6 311.8L427.3 312.5L425.4 316.8L423.6 321.1L422.8 323L421.9 325.3L420.3 329.6L418.9 333.9L418 336.4L417.5 338.2L416.2 342.4L415 346.7L413.9 351L413.3 353.7L412.9 355.2L412 359.5L411.2 363.8L410.5 368.1L409.9 372.3L409.5 376.6L409.1 380.9L408.8 385.2L408.6 389.4L408.6 393.7L408.6 398L408.8 402.3L409.1 406.5L409.4 410.8L410 415.1L410.6 419.4L411.4 423.6L412.3 427.9L413.3 432.1L413.3 432.2L414.5 436.4L415.8 440.7L417.3 445L418 447.1L418.9 449.3L420.7 453.5L422.7 457.8L422.8 458.1L424.9 462.1L427.2 466.4L427.6 467L429.9 470.6L432.4 474.5L432.7 474.9L435.8 479.2L437.2 481L439.2 483.5L442 486.7L443 487.7Z" fill="#59fd13"/>
<path d="M448.6 487.7L451.6 490.7L453 492L456.4 492L461.2 492L465.9 492L470.7 492L475.5 492L480.3 492L485.1 492L489.9 492L494.7 492L499.5 492L504.3 492L509.1 492L513.8 492L518.6 492L523.4 492L528.2 492L533 492L537.8 492L542.6 492L547.4 492L552.2 492L557 492L561.7 492L566.5 492L571.3 492L576.1 492L580.9 492L585.7 492L590.5 492L595.3 492L600.1 492L604.9 492L609.6 492L614.4 492L619.2 492L624 492L628.8 492L633.6 492L638.4 492L643.2 492L647.9 492L648 491.9L652.8 489.1L654.9 487.7L657.5 486.1L661.6 483.5L662.3 482.9L667.1 479.7L667.8 479.2L671.9 476.3L673.8 474.9L676.7 472.8L676.7 470.6L676.7 466.4L676.7 462.1L676.7 457.8L676.7 453.5L676.7 449.3L676.7 445L676.7 440.7L676.7 436.4L676.7 432.2L676.7 427.9L676.7 423.6L676.7 419.4L676.7 415.1L676.7 410.8L676.7 406.5L676.7 402.3L676.7 398L676.7 393.7L676.7 389.4L676.7 385.2L676.7 380.9L676.7 376.6L676.7 372.3L676.7 368.1L676.7 363.8L676.7 359.5L676.7 355.2L676.7 351L676.7 346.7L676.7 342.4L676.7 338.2L676.7 333.9L676.7 329.6L676.7 325.3L676.7 321.1L676.7 316.8L676.7 312.5L676.7 308.2L676.7 304L676.7 299.7L676.7 295.4L676.7 291.1L676.7 286.9L676.7 282.6L671.9 282.6L667.1 282.6L662.3 282.6L657.5 282.6L652.8 282.6L648 282.6L643.2 282.6L638.4 282.6L633.6 282.6L628.8 282.6L624 282.6L619.2 282.6L614.4 282.6L609.6 282.6L604.9 282.6L600.1 282.6L595.3 282.6L590.5 282.6L585.7 282.6L580.9 282.6L576.1 282.6L571.3 282.6L566.5 282.6L561.7 282.6L557 282.6L552.2 282.6L547.4 282.6L542.6 282.6L537.8 282.6L533 282.6L528.2 282.6L523.4 282.6L518.6 282.6L513.8 282.6L509.1 282.6L504.3 282.6L499.5 282.6L494.7 282.6L489.9 282.6L485.1 282.6L480.3 282.6L475.5 282.6L470.7 282.6L465.9 282.6L461.2 282.6L456.4 282.6L451.6 282.6L446.8 282.6L446.5 282.6L443.8 286.9L442 290L441.3 291.1L438.9 295.4L437.2 298.6L436.6 299.7L434.4 304L432.4 308.1L432.3 308.2L430.4 312.5L428.5 316.8L427.6 318.8L426.7 321.1L425 325.3L423.4 329.6L422.8 331.3L422 333.9L420.6 338.2L419.3 342.4L418.1 346.7L418 347L417.1 351L416.1 355.2L415.2 359.5L414.5 363.8L413.8 368.1L413.3 372.1L413.2 372.3L412.8 376.6L412.4 380.9L412.2 385.2L412 389.4L412 393.7L412.1 398L412.3 402.3L412.6 406.5L413.1 410.8L413.3 412.3L413.6 415.1L414.3 419.4L415.1 423.6L416.1 427.9L417.2 432.2L418 435.1L418.4 436.4L419.8 440.7L421.4 445L422.8 448.6L423.1 449.3L425 453.5L427.1 457.8L427.6 458.8L429.4 462.1L431.9 466.4L432.4 467.2L434.7 470.6L437.2 474.3L437.7 474.9L441 479.2L442 480.5L444.6 483.5L446.8 485.9L448.6 487.7Z" fill="#78ff12"/>
<path d="M454.4 487.7L456.4 489.6L459.1 492L461.2 492L465.9 492L470.7 492L475.5 492L480.3 492L485.1 492L489.9 492L494.7 492L499.5 492L504.3 492L509.1 492L513.8 492L518.6 492L523.4 492L528.2 492L533 492L537.8 492L542.6 492L547.4 492L552.2 492L557 492L561.7 492L566.5 492L571.3 492L576.1 492L580.9 492L585.7 492L590.5 492L595.3 492L600.1 492L604.9 492L609.6 492L614.4 492L619.2 492L624 492L628.8 492L633.6 492L638.4 492L642.9 492L643.2 491.9L648 489.1L650.3 487.7L652.8 486.3L657.2 483.5L657.5 483.3L662.3 480.1L663.7 479.2L667.1 476.9L669.9 474.9L671.9 473.5L675.8 470.6L676.7 470L676.7 466.4L676.7 462.1L676.7 457.8L676.7 453.5L676.7 449.3L676.7 445L676.7 440.7L676.7 436.4L676.7 432.2L676.7 427.9L676.7 423.6L676.7 419.4L676.7 415.1L676.7 410.8L676.7 406.5L676.7 402.3L676.7 398L676.7 393.7L676.7 389.4L676.7 385.2L676.7 380.9L676.7 376.6L676.7 372.3L676.7 368.1L676.7 363.8L676.7 359.5L676.7 355.2L676.7 351L676.7 346.7L676.7 342.4L676.7 338.2L676.7 333.9L676.7 329.6L676.7 325.3L676.7 321.1L676.7 316.8L676.7 312.5L676.7 308.2L676.7 304L676.7 299.7L676.7 295.4L676.7 291.1L676.7 286.9L676.7 282.6L671.9 282.6L667.1 282.6L662.3 282.6L657.5 282.6L652.8 282.6L648 282.6L643.2 282.6L638.4 282.6L633.6 282.6L628.8 282.6L624 282.6L619.2 282.6L614.4 282.6L609.6 282.6L604.9 282.6L600.1 282.6L595.3 282.6L590.5 282.6L585.7 282.6L580.9 282.6L576.1 282.6L571.3 282.6L566.5 282.6L561.7 282.6L557 282.6L552.2 282.6L547.4 282.6L542.6 282.6L537.8 282.6L533 282.6L528.2 282.6L523.4 282.6L518.6 282.6L513.8 282.6L509.1 282.6L504.3 282.6L499.5 282.6L494.7 282.6L489.9 282.6L485.1 282.6L480.3 282.6L475.5 282.6L470.7 282.6L465.9 282.6L461.2 282.6L456.4 282.6L451.6 282.6L449.5 282.6L446.9 286.9L446.8 287L444.4 291.1L442 295.3L442 295.4L439.7 299.7L437.5 304L437.2 304.5L435.4 308.2L433.4 312.5L432.4 314.8L431.5 316.8L429.8 321.1L428.1 325.3L427.6 326.7L426.6 329.6L425.1 333.9L423.7 338.2L422.8 341.2L422.5 342.4L421.3 346.7L420.3 351L419.3 355.2L418.5 359.5L418 362L417.7 363.8L417.1 368.1L416.6 372.3L416.1 376.6L415.8 380.9L415.6 385.2L415.5 389.4L415.5 393.7L415.7 398L415.9 402.3L416.3 406.5L416.7 410.8L417.4 415.1L418 419.1L418.1 419.4L419 423.6L420 427.9L421.2 432.2L422.5 436.4L422.8 437.5L423.9 440.7L425.6 445L427.4 449.3L427.6 449.8L429.4 453.5L431.6 457.8L432.4 459.3L434 462.1L436.7 466.4L437.2 467.2L439.6 470.6L442 473.9L442.8 474.9L446.3 479.2L446.8 479.8L450.1 483.5L451.6 485L454.4 487.7Z" fill="#97ff0e"/>
<path d="M460.5 487.7L461.2 488.3L465.6 492L465.9 492L470.7 492L475.5 492L480.3 492L485.1 492L489.9 492L494.7 492L499.5 492L504.3 492L509.1 492L513.8 492L518.6 492L523.4 492L528.2 492L533 492L537.8 492L542.6 492L547.4 492L552.2 492L557 492L561.7 492L566.5 492L571.3 492L576.1 492L580.9 492L585.7 492L590.5 492L595.3 492L600.1 492L604.9 492L609.6 492L614.4 492L619.2 492L624 492L628.8 492L633.6 492L637.7 492L638.4 491.6L643.2 489L645.4 487.7L648 486.3L652.7 483.5L652.8 483.4L657.5 480.4L659.5 479.2L662.3 477.3L665.9 474.9L667.1 474L671.9 470.6L676.7 467.1L676.7 466.4L676.7 462.1L676.7 457.8L676.7 453.5L676.7 449.3L676.7 445L676.7 440.7L676.7 436.4L676.7 432.2L676.7 427.9L676.7 423.6L676.7 419.4L676.7 415.1L676.7 410.8L676.7 406.5L676.7 402.3L676.7 398L676.7 393.7L676.7 389.4L676.7 385.2L676.7 380.9L676.7 376.6L676.7 372.3L676.7 368.1L676.7 363.8L676.7 359.5L676.7 355.2L676.7 351L676.7 346.7L676.7 342.4L676.7 338.2L676.7 333.9L676.7 329.6L676.7 325.3L676.7 321.1L676.7 316.8L676.7 312.5L676.7 308.2L676.7 304L676.7 299.7L676.7 295.4L676.7 291.1L676.7 286.9L676.7 282.6L671.9 282.6L667.1 282.6L662.3 282.6L657.5 282.6L652.8 282.6L648 282.6L643.2 282.6L638.4 282.6L633.6 282.6L628.8 282.6L624 282.6L619.2 282.6L614.4 282.6L609.6 282.6L604.9 282.6L600.1 282.6L595.3 282.6L590.5 282.6L585.7 282.6L580.9 282.6L576.1 282.6L571.3 282.6L566.5 282.6L561.7 282.6L557 282.6L552.2 282.6L547.4 282.6L542.6 282.6L537.8 282.6L533 282.6L528.2 282.6L523.4 282.6L518.6 282.6L513.8 282.6L509.1 282.6L504.3 282.6L499.5 282.6L494.7 282.6L489.9 282.6L485.1 282.6L480.3 282.6L475.5 282.6L470.7 282.6L465.9 282.6L461.2 282.6L456.4 282.6L452.6 282.6L451.6 284.2L450 286.9L447.4 291.1L446.8 292.3L445 295.4L442.7 299.7L442 301.2L440.6 304L438.5 308.2L437.2 311L436.5 312.5L434.7 316.8L432.9 321.1L432.4 322.3L431.3 325.3L429.7 329.6L428.3 333.9L427.6 335.9L426.9 338.2L425.7 342.4L424.5 346.7L423.5 351L422.8 354.1L422.6 355.2L421.8 359.5L421 363.8L420.4 368.1L419.9 372.3L419.5 376.6L419.2 380.9L419.1 385.2L419 389.4L419.1 393.7L419.2 398L419.5 402.3L419.9 406.5L420.5 410.8L421.1 415.1L421.9 419.4L422.8 423.5L422.9 423.6L424 427.9L425.2 432.2L426.6 436.4L427.6 439.4L428.1 440.7L429.9 445L431.8 449.3L432.4 450.6L433.9 453.5L436.2 457.8L437.2 459.5L438.8 462.1L441.6 466.4L442 467L444.7 470.6L446.8 473.4L448 474.9L451.6 479L451.8 479.2L455.9 483.5L456.4 483.9L460.5 487.7Z" fill="#b6ff0b"/>
<path d="M466.9 487.7L470.7 490.7L472.5 492L475.5 492L480.3 492L485.1 492L489.9 492L494.7 492L499.5 492L504.3 492L509.1 492L513.8 492L518.6 492L523.4 492L528.2 492L533 492L537.8 492L542.6 492L547.4 492L552.2 492L557 492L561.7 492L566.5 492L571.3 492L576.1 492L580.9 492L585.7 492L590.5 492L595.3 492L600.1 492L604.9 492L609.6 492L614.4 492L619.2 492L624 492L628.8 492L632 492L633.6 491.2L638.4 488.7L640.2 487.7L643.2 486.1L647.9 483.5L648 483.4L652.8 480.5L654.9 479.2L657.5 477.6L661.6 474.9L662.3 474.4L667.1 471.2L667.9 470.6L671.9 467.8L673.8 466.4L676.7 464.2L676.7 462.1L676.7 457.8L676.7 453.5L676.7 449.3L676.7 445L676.7 440.7L676.7 436.4L676.7 432.2L676.7 427.9L676.7 423.6L676.7 419.4L676.7 415.1L676.7 410.8L676.7 406.5L676.7 402.3L676.7 398L676.7 393.7L676.7 389.4L676.7 385.2L676.7 380.9L676.7 376.6L676.7 372.3L676.7 368.1L676.7 363.8L676.7 359.5L676.7 355.2L676.7 351L676.7 346.7L676.7 342.4L676.7 338.2L676.7 333.9L676.7 329.6L676.7 325.3L676.7 321.1L676.7 316.8L676.7 312.5L676.7 308.2L676.7 304L676.7 299.7L676.7 295.4L676.7 291.1L676.7 286.9L676.7 282.6L671.9 282.6L667.1 282.6L662.3 282.6L657.5 282.6L652.8 282.6L648 282.6L643.2 282.6L638.4 282.6L633.6 282.6L628.8 282.6L624 282.6L619.2 282.6L614.4 282.6L609.6 282.6L604.9 282.6L600.1 282.6L595.3 282.6L590.5 282.6L585.7 282.6L580.9 282.6L576.1 282.6L571.3 282.6L566.5 282.6L561.7 282.6L557 282.6L552.2 282.6L547.4 282.6L542.6 282.6L537.8 282.6L533 282.6L528.2 282.6L523.4 282.6L518.6 282.6L513.8 282.6L509.1 282.6L504.3 282.6L499.5 282.6L494.7 282.6L489.9 282.6L485.1 282.6L480.3 282.6L475.5 282.6L470.7 282.6L465.9 282.6L461.2 282.6L456.4 282.6L455.7 282.6L453.1 286.9L451.6 289.4L450.5 291.1L448.1 295.4L446.8 298L445.9 299.7L443.7 304L442 307.4L441.6 308.2L439.7 312.5L437.8 316.8L437.2 318.2L436.1 321.1L434.4 325.3L432.9 329.6L432.4 331L431.5 333.9L430.1 338.2L428.9 342.4L427.8 346.7L427.6 347.4L426.8 351L425.9 355.2L425.1 359.5L424.4 363.8L423.8 368.1L423.3 372.3L423 376.6L422.8 378.6L422.7 380.9L422.6 385.2L422.5 389.4L422.6 393.7L422.8 397.9L422.8 398L423.2 402.3L423.6 406.5L424.2 410.8L425 415.1L425.8 419.4L426.8 423.6L427.6 426.6L428 427.9L429.3 432.2L430.8 436.4L432.4 440.7L432.4 440.8L434.2 445L436.3 449.3L437.2 451.1L438.5 453.5L440.9 457.8L442 459.5L443.7 462.1L446.6 466.4L446.8 466.6L449.9 470.6L451.6 472.7L453.5 474.9L456.4 478L457.5 479.2L461.2 482.8L461.9 483.5L465.9 487L466.9 487.7Z" fill="#cfff07"/>
<path d="M473.7 487.7L475.5 489.1L479.9 492L480.3 492L485.1 492L489.9 492L494.7 492L499.5 492L504.3 492L509.1 492L513.8 492L518.6 492L523.4 492L528.2 492L533 492L537.8 492L542.6 492L547.4 492L552.2 492L557 492L561.7 492L566.5 492L571.3 492L576.1 492L580.9 492L585.7 492L590.5 492L595.3 492L600.1 492L604.9 492L609.6 492L614.4 492L619.2 492L624 492L625.8 492L628.8 490.6L633.6 488.3L634.7 487.7L638.4 485.8L642.7 483.5L643.2 483.2L648 480.5L650.2 479.2L652.8 477.6L657.1 474.9L657.5 474.7L662.3 471.5L663.6 470.6L667.1 468.3L669.8 466.4L671.9 464.8L675.6 462.1L676.7 461.3L676.7 457.8L676.7 453.5L676.7 449.3L676.7 445L676.7 440.7L676.7 436.4L676.7 432.2L676.7 427.9L676.7 423.6L676.7 419.4L676.7 415.1L676.7 410.8L676.7 406.5L676.7 402.3L676.7 398L676.7 393.7L676.7 389.4L676.7 385.2L676.7 380.9L676.7 376.6L676.7 372.3L676.7 368.1L676.7 363.8L676.7 359.5L676.7 355.2L676.7 351L676.7 346.7L676.7 342.4L676.7 338.2L676.7 333.9L676.7 329.6L676.7 325.3L676.7 321.1L676.7 316.8L676.7 312.5L676.7 308.2L676.7 304L676.7 299.7L676.7 295.4L676.7 291.1L676.7 286.9L676.7 282.6L671.9 282.6L667.1 282.6L662.3 282.6L657.5 282.6L652.8 282.6L648 282.6L643.2 282.6L638.4 282.6L633.6 282.6L628.8 282.6L624 282.6L619.2 282.6L614.4 282.6L609.6 282.6L604.9 282.6L600.1 282.6L595.3 282.6L590.5 282.6L585.7 282.6L580.9 282.6L576.1 282.6L571.3 282.6L566.5 282.6L561.7 282.6L557 282.6L552.2 282.6L547.4 282.6L542.6 282.6L537.8 282.6L533 282.6L528.2 282.6L523.4 282.6L518.6 282.6L513.8 282.6L509.1 282.6L504.3 282.6L499.5 282.6L494.7 282.6L489.9 282.6L485.1 282.6L480.3 282.6L475.5 282.6L470.7 282.6L465.9 282.6L461.2 282.6L458.8 282.6L456.4 286.6L456.2 286.9L453.7 291.1L451.6 294.9L451.3 295.4L449 299.7L446.8 304L446.8 304.1L444.8 308.2L442.8 312.5L442 314.4L441 316.8L439.3 321.1L437.6 325.3L437.2 326.5L436.1 329.6L434.7 333.9L433.4 338.2L432.4 341.5L432.2 342.4L431.1 346.7L430.1 351L429.2 355.2L428.4 359.5L427.8 363.8L427.6 364.8L427.2 368.1L426.8 372.3L426.4 376.6L426.2 380.9L426.1 385.2L426.1 389.4L426.3 393.7L426.5 398L426.9 402.3L427.4 406.5L427.6 408L428.1 410.8L428.8 415.1L429.8 419.4L430.8 423.6L432.1 427.9L432.4 429L433.5 432.2L435 436.4L436.8 440.7L437.2 441.7L438.7 445L440.8 449.3L442 451.4L443.2 453.5L445.8 457.8L446.8 459.3L448.7 462.1L451.6 466.1L451.8 466.4L455.3 470.6L456.4 471.8L459.2 474.9L461.2 476.9L463.5 479.2L465.9 481.5L468.3 483.5L470.7 485.5L473.7 487.7Z" fill="#e5ff04"/>
<path d="M481 487.7L485.1 490.3L488 492L489.9 492L494.7 492L499.5 492L504.3 492L509.1 492L513.8 492L518.6 492L523.4 492L528.2 492L533 492L537.8 492L542.6 492L547.4 492L552.2 492L557 492L561.7 492L566.5 492L571.3 492L576.1 492L580.9 492L585.7 492L590.5 492L595.3 492L600.1 492L604.9 492L609.6 492L614.4 492L619 492L619.2 491.9L624 489.8L628.6 487.7L628.8 487.6L633.6 485.3L637.2 483.5L638.4 482.9L643.2 480.3L645.1 479.2L648 477.5L652.4 474.9L652.8 474.7L657.5 471.7L659.2 470.6L662.3 468.6L665.6 466.4L667.1 465.3L671.6 462.1L671.9 461.9L676.7 458.3L676.7 457.8L676.7 453.5L676.7 449.3L676.7 445L676.7 440.7L676.7 436.4L676.7 432.2L676.7 427.9L676.7 423.6L676.7 419.4L676.7 415.1L676.7 410.8L676.7 406.5L676.7 402.3L676.7 398L676.7 393.7L676.7 389.4L676.7 385.2L676.7 380.9L676.7 376.6L676.7 372.3L676.7 368.1L676.7 363.8L676.7 359.5L676.7 355.2L676.7 351L676.7 346.7L676.7 342.4L676.7 338.2L676.7 333.9L676.7 329.6L676.7 325.3L676.7 321.1L676.7 316.8L676.7 312.5L676.7 308.2L676.7 304L676.7 299.7L676.7 295.4L676.7 291.1L676.7 286.9L676.7 282.6L671.9 282.6L667.1 282.6L662.3 282.6L657.5 282.6L652.8 282.6L648 282.6L643.2 282.6L638.4 282.6L633.6 282.6L628.8 282.6L624 282.6L619.2 282.6L614.4 282.6L609.6 282.6L604.9 282.6L600.1 282.6L595.3 282.6L590.5 282.6L585.7 282.6L580.9 282.6L576.1 282.6L571.3 282.6L566.5 282.6L561.7 282.6L557 282.6L552.2 282.6L547.4 282.6L542.6 282.6L537.8 282.6L533 282.6L528.2 282.6L523.4 282.6L518.6 282.6L513.8 282.6L509.1 282.6L504.3 282.6L499.5 282.6L494.7 282.6L489.9 282.6L485.1 282.6L480.3 282.6L475.5 282.6L470.7 282.6L465.9 282.6L462 282.6L461.2 284L459.4 286.9L456.9 291.1L456.4 292L454.5 295.4L452.2 299.7L451.6 300.9L450 304L448 308.2L446.8 310.8L446 312.5L444.2 316.8L442.5 321.1L442 322.3L440.9 325.3L439.4 329.6L437.9 333.9L437.2 336.3L436.7 338.2L435.5 342.4L434.4 346.7L433.4 351L432.6 355.2L432.4 356.1L431.8 359.5L431.2 363.8L430.7 368.1L430.3 372.3L430 376.6L429.8 380.9L429.7 385.2L429.8 389.4L429.9 393.7L430.2 398L430.7 402.3L431.2 406.5L431.9 410.8L432.4 413.2L432.8 415.1L433.8 419.4L434.9 423.6L436.2 427.9L437.2 430.7L437.7 432.2L439.4 436.4L441.2 440.7L442 442.4L443.3 445L445.5 449.3L446.8 451.5L448 453.5L450.8 457.8L451.6 458.9L453.9 462.1L456.4 465.3L457.2 466.4L460.9 470.6L461.2 470.9L465.1 474.9L465.9 475.7L469.7 479.2L470.7 480L475 483.5L475.5 483.9L480.3 487.3L481 487.7Z" fill="#fbff01"/>
<path d="M488.9 487.7L489.9 488.3L494.7 490.9L497 492L499.5 492L504.3 492L509.1 492L513.8 492L518.6 492L523.4 492L528.2 492L533 492L537.8 492L542.6 492L547.4 492L552.2 492L557 492L561.7 492L566.5 492L571.3 492L576.1 492L580.9 492L585.7 492L590.5 492L595.3 492L600.1 492L604.9 492L609.6 492L611.1 492L614.4 490.8L619.2 488.8L621.8 487.7L624 486.8L628.8 484.6L631.2 483.5L633.6 482.3L638.4 479.8L639.6 479.2L643.2 477.3L647.3 474.9L648 474.6L652.8 471.7L654.5 470.6L657.5 468.7L661.2 466.4L662.3 465.6L667.1 462.3L667.4 462.1L671.9 458.9L673.4 457.8L676.7 455.3L676.7 453.5L676.7 449.3L676.7 445L676.7 440.7L676.7 436.4L676.7 432.2L676.7 427.9L676.7 423.6L676.7 419.4L676.7 415.1L676.7 410.8L676.7 406.5L676.7 402.3L676.7 398L676.7 393.7L676.7 389.4L676.7 385.2L676.7 380.9L676.7 376.6L676.7 372.3L676.7 368.1L676.7 363.8L676.7 359.5L676.7 355.2L676.7 351L676.7 346.7L676.7 342.4L676.7 338.2L676.7 333.9L676.7 329.6L676.7 325.3L676.7 321.1L676.7 316.8L676.7 312.5L676.7 308.2L676.7 304L676.7 299.7L676.7 295.4L676.7 291.1L676.7 286.9L676.7 282.6L671.9 282.6L667.1 282.6L662.3 282.6L657.5 282.6L652.8 282.6L648 282.6L643.2 282.6L638.4 282.6L633.6 282.6L628.8 282.6L624 282.6L619.2 282.6L614.4 282.6L609.6 282.6L604.9 282.6L600.1 282.6L595.3 282.6L590.5 282.6L585.7 282.6L580.9 282.6L576.1 282.6L571.3 282.6L566.5 282.6L561.7 282.6L557 282.6L552.2 282.6L547.4 282.6L542.6 282.6L537.8 282.6L533 282.6L528.2 282.6L523.4 282.6L518.6 282.6L513.8 282.6L509.1 282.6L504.3 282.6L499.5 282.6L494.7 282.6L489.9 282.6L485.1 282.6L480.3 282.6L475.5 282.6L470.7 282.6L465.9 282.6L465.2 282.6L462.6 286.9L461.2 289.3L460.1 291.1L457.7 295.4L456.4 297.9L455.4 299.7L453.2 304L451.6 307.4L451.2 308.2L449.3 312.5L447.4 316.8L446.8 318.4L445.7 321.1L444.1 325.3L442.6 329.6L442 331.6L441.2 333.9L440 338.2L438.8 342.4L437.8 346.7L437.2 349.2L436.8 351L436 355.2L435.3 359.5L434.7 363.8L434.2 368.1L433.8 372.3L433.5 376.6L433.4 380.9L433.3 385.2L433.4 389.4L433.7 393.7L434 398L434.5 402.3L435.1 406.5L435.9 410.8L436.8 415.1L437.2 416.7L437.9 419.4L439.1 423.6L440.5 427.9L442 432L442.1 432.2L443.8 436.4L445.8 440.7L446.8 442.8L447.9 445L450.4 449.3L451.6 451.3L453 453.5L455.9 457.8L456.4 458.4L459.2 462.1L461.2 464.4L462.8 466.4L465.9 469.7L466.8 470.6L470.7 474.4L471.3 474.9L475.5 478.5L476.4 479.2L480.3 482.1L482.2 483.5L485.1 485.4L488.9 487.7Z" fill="#ffef00"/>
<path d="M497.7 487.7L499.5 488.6L504.3 490.7L507.4 492L509.1 492L513.8 492L518.6 492L523.4 492L528.2 492L533 492L537.8 492L542.6 492L547.4 492L552.2 492L557 492L561.7 492L566.5 492L571.3 492L576.1 492L580.9 492L585.7 492L590.5 492L595.3 492L600.1 492L601.9 492L604.9 491.1L609.6 489.4L614.3 487.7L614.4 487.7L619.2 485.7L624 483.7L624.6 483.5L628.8 481.5L633.6 479.2L633.7 479.2L638.4 476.8L641.9 474.9L643.2 474.2L648 471.5L649.5 470.6L652.8 468.7L656.5 466.4L657.5 465.7L662.3 462.6L663 462.1L667.1 459.3L669.2 457.8L671.9 455.8L675 453.5L676.7 452.3L676.7 449.3L676.7 445L676.7 440.7L676.7 436.4L676.7 432.2L676.7 427.9L676.7 423.6L676.7 419.4L676.7 415.1L676.7 410.8L676.7 406.5L676.7 402.3L676.7 398L676.7 393.7L676.7 389.4L676.7 385.2L676.7 380.9L676.7 376.6L676.7 372.3L676.7 368.1L676.7 363.8L676.7 359.5L676.7 355.2L676.7 351L676.7 346.7L676.7 342.4L676.7 338.2L676.7 333.9L676.7 329.6L676.7 325.3L676.7 321.1L676.7 316.8L676.7 312.5L676.7 308.2L676.7 304L676.7 299.7L676.7 295.4L676.7 291.1L676.7 286.9L676.7 282.6L671.9 282.6L667.1 282.6L662.3 282.6L657.5 282.6L652.8 282.6L648 282.6L643.2 282.6L638.4 282.6L633.6 282.6L628.8 282.6L624 282.6L619.2 282.6L614.4 282.6L609.6 282.6L604.9 282.6L600.1 282.6L595.3 282.6L590.5 282.6L585.7 282.6L580.9 282.6L576.1 282.6L571.3 282.6L566.5 282.6L561.7 282.6L557 282.6L552.2 282.6L547.4 282.6L542.6 282.6L537.8 282.6L533 282.6L528.2 282.6L523.4 282.6L518.6 282.6L513.8 282.6L509.1 282.6L504.3 282.6L499.5 282.6L494.7 282.6L489.9 282.6L485.1 282.6L480.3 282.6L475.5 282.6L470.7 282.6L468.5 282.6L465.9 286.7L465.8 286.9L463.3 291.1L461.2 295L460.9 295.4L458.7 299.7L456.5 304L456.4 304.2L454.5 308.2L452.5 312.5L451.6 314.8L450.7 316.8L449 321.1L447.4 325.3L446.8 327.2L446 329.6L444.6 333.9L443.3 338.2L442.2 342.4L442 343.2L441.2 346.7L440.2 351L439.4 355.2L438.7 359.5L438.2 363.8L437.7 368.1L437.3 372.3L437.2 374.9L437.1 376.6L437 380.9L437 385.2L437.2 389.4L437.2 390.1L437.4 393.7L437.9 398L438.4 402.3L439.1 406.5L439.9 410.8L440.9 415.1L442 419.2L442 419.4L443.3 423.6L444.8 427.9L446.5 432.2L446.8 432.9L448.4 436.4L450.4 440.7L451.6 442.9L452.8 445L455.3 449.3L456.4 450.9L458.2 453.5L461.2 457.6L461.3 457.8L464.8 462.1L465.9 463.4L468.7 466.4L470.7 468.5L473 470.6L475.5 472.9L477.9 474.9L480.3 476.8L483.5 479.2L485.1 480.3L489.9 483.4L490 483.5L494.7 486.1L497.7 487.7Z" fill="#ffdc00"/>
<path d="M507.9 487.7L509.1 488.2L513.8 490L518.6 491.5L520.5 492L523.4 492L528.2 492L533 492L537.8 492L542.6 492L547.4 492L552.2 492L557 492L561.7 492L566.5 492L571.3 492L576.1 492L580.9 492L585.7 492L590.1 492L590.5 491.9L595.3 490.7L600.1 489.3L604.9 487.9L605.3 487.7L609.6 486.3L614.4 484.5L617.1 483.5L619.2 482.6L624 480.6L627.2 479.2L628.8 478.4L633.6 476.1L636 474.9L638.4 473.7L643.2 471.2L644.1 470.6L648 468.4L651.5 466.4L652.8 465.6L657.5 462.6L658.4 462.1L662.3 459.5L664.8 457.8L667.1 456.2L670.8 453.5L671.9 452.8L676.6 449.3L676.7 449.2L676.7 445L676.7 440.7L676.7 436.4L676.7 432.2L676.7 427.9L676.7 423.6L676.7 419.4L676.7 415.1L676.7 410.8L676.7 406.5L676.7 402.3L676.7 398L676.7 393.7L676.7 389.4L676.7 385.2L676.7 380.9L676.7 376.6L676.7 372.3L676.7 368.1L676.7 363.8L676.7 359.5L676.7 355.2L676.7 351L676.7 346.7L676.7 342.4L676.7 338.2L676.7 333.9L676.7 329.6L676.7 325.3L676.7 321.1L676.7 316.8L676.7 312.5L676.7 308.2L676.7 304L676.7 299.7L676.7 295.4L676.7 291.1L676.7 286.9L676.7 282.6L671.9 282.6L667.1 282.6L662.3 282.6L657.5 282.6L652.8 282.6L648 282.6L643.2 282.6L638.4 282.6L633.6 282.6L628.8 282.6L624 282.6L619.2 282.6L614.4 282.6L609.6 282.6L604.9 282.6L600.1 282.6L595.3 282.6L590.5 282.6L585.7 282.6L580.9 282.6L576.1 282.6L571.3 282.6L566.5 282.6L561.7 282.6L557 282.6L552.2 282.6L547.4 282.6L542.6 282.6L537.8 282.6L533 282.6L528.2 282.6L523.4 282.6L518.6 282.6L513.8 282.6L509.1 282.6L504.3 282.6L499.5 282.6L494.7 282.6L489.9 282.6L485.1 282.6L480.3 282.6L475.5 282.6L471.8 282.6L470.7 284.3L469.1 286.9L466.6 291.1L465.9 292.3L464.2 295.4L462 299.7L461.2 301.3L459.8 304L457.8 308.2L456.4 311.4L455.9 312.5L454.1 316.8L452.4 321.1L451.6 323.2L450.8 325.3L449.3 329.6L448 333.9L446.8 338L446.7 338.2L445.6 342.4L444.6 346.7L443.7 351L442.9 355.2L442.3 359.5L442 361.5L441.7 363.8L441.3 368.1L441 372.3L440.8 376.6L440.7 380.9L440.8 385.2L441 389.4L441.3 393.7L441.7 398L442 399.8L442.4 402.3L443.1 406.5L444 410.8L445.1 415.1L446.3 419.4L446.8 420.9L447.7 423.6L449.3 427.9L451 432.2L451.6 433.4L453 436.4L455.2 440.7L456.4 442.7L457.7 445L460.4 449.3L461.2 450.3L463.5 453.5L465.9 456.7L466.8 457.8L470.6 462.1L470.7 462.3L474.8 466.4L475.5 467.1L479.5 470.6L480.3 471.3L484.9 474.9L485.1 475L489.9 478.3L491.2 479.2L494.7 481.3L498.6 483.5L499.5 483.9L504.3 486.2L507.9 487.7Z" fill="#ffc900"/>
<path d="M520.4 487.7L523.4 488.6L528.2 489.8L533 490.7L537.8 491.5L542 492L542.6 492L547.4 492L552.2 492L557 492L561.7 492L566.5 492L569.6 492L571.3 491.8L576.1 491.2L580.9 490.5L585.7 489.6L590.5 488.6L593.9 487.7L595.3 487.4L600.1 486.1L604.9 484.6L608.4 483.5L609.6 483L614.4 481.3L619.2 479.4L619.8 479.2L624 477.4L628.8 475.3L629.6 474.9L633.6 473L638.3 470.6L638.4 470.6L643.2 468L646.2 466.4L648 465.3L652.8 462.5L653.4 462.1L657.5 459.5L660.1 457.8L662.3 456.4L666.5 453.5L667.1 453.1L671.9 449.6L672.4 449.3L676.7 446L676.7 445L676.7 440.7L676.7 436.4L676.7 432.2L676.7 427.9L676.7 423.6L676.7 419.4L676.7 415.1L676.7 410.8L676.7 406.5L676.7 402.3L676.7 398L676.7 393.7L676.7 389.4L676.7 385.2L676.7 380.9L676.7 376.6L676.7 372.3L676.7 368.1L676.7 363.8L676.7 359.5L676.7 355.2L676.7 351L676.7 346.7L676.7 342.4L676.7 338.2L676.7 333.9L676.7 329.6L676.7 325.3L676.7 321.1L676.7 316.8L676.7 312.5L676.7 308.2L676.7 304L676.7 299.7L676.7 295.4L676.7 291.1L676.7 286.9L676.7 282.6L671.9 282.6L667.1 282.6L662.3 282.6L657.5 282.6L652.8 282.6L648 282.6L643.2 282.6L638.4 282.6L633.6 282.6L628.8 282.6L624 282.6L619.2 282.6L614.4 282.6L609.6 282.6L604.9 282.6L600.1 282.6L595.3 282.6L590.5 282.6L585.7 282.6L580.9 282.6L576.1 282.6L571.3 282.6L566.5 282.6L561.7 282.6L557 282.6L552.2 282.6L547.4 282.6L542.6 282.6L537.8 282.6L533 282.6L528.2 282.6L523.4 282.6L518.6 282.6L513.8 282.6L509.1 282.6L504.3 282.6L499.5 282.6L494.7 282.6L489.9 282.6L485.1 282.6L480.3 282.6L475.5 282.6L475.1 282.6L472.5 286.9L470.7 289.8L470 291.1L467.6 295.4L465.9 298.5L465.3 299.7L463.2 304L461.2 308.2L461.1 308.2L459.2 312.5L457.4 316.8L456.4 319.5L455.7 321.1L454.2 325.3L452.7 329.6L451.6 333.3L451.4 333.9L450.2 338.2L449.1 342.4L448.1 346.7L447.2 351L446.8 353.4L446.5 355.2L445.8 359.5L445.3 363.8L444.9 368.1L444.7 372.3L444.5 376.6L444.5 380.9L444.6 385.2L444.8 389.4L445.2 393.7L445.7 398L446.4 402.3L446.8 404.4L447.2 406.5L448.2 410.8L449.3 415.1L450.6 419.4L451.6 422.1L452.1 423.6L453.8 427.9L455.7 432.2L456.4 433.5L457.8 436.4L460.2 440.7L461.2 442.3L462.8 445L465.7 449.3L465.9 449.6L469 453.5L470.7 455.6L472.6 457.8L475.5 460.9L476.7 462.1L480.3 465.5L481.3 466.4L485.1 469.5L486.5 470.6L489.9 473.1L492.6 474.9L494.7 476.3L499.5 479.1L499.7 479.2L504.3 481.5L508.5 483.5L509.1 483.7L513.8 485.6L518.6 487.2L520.4 487.7Z" fill="#ffb100"/>
<path d="M539.3 487.7L542.6 488.2L547.4 488.6L552.2 488.9L557 489L561.7 488.9L566.5 488.7L571.3 488.3L576.1 487.7L576.3 487.7L580.9 487L585.7 486.2L590.5 485.2L595.3 484.1L597.5 483.5L600.1 482.8L604.9 481.3L609.6 479.8L611.3 479.2L614.4 478.1L619.2 476.2L622.4 474.9L624 474.2L628.8 472.1L631.9 470.6L633.6 469.8L638.4 467.4L640.4 466.4L643.2 464.9L648 462.2L648.1 462.1L652.8 459.3L655.2 457.8L657.5 456.3L661.8 453.5L662.3 453.2L667.1 449.9L668 449.3L671.9 446.4L673.8 445L676.7 442.8L676.7 440.7L676.7 436.4L676.7 432.2L676.7 427.9L676.7 423.6L676.7 419.4L676.7 415.1L676.7 410.8L676.7 406.5L676.7 402.3L676.7 398L676.7 393.7L676.7 389.4L676.7 385.2L676.7 380.9L676.7 376.6L676.7 372.3L676.7 368.1L676.7 363.8L676.7 359.5L676.7 355.2L676.7 351L676.7 346.7L676.7 342.4L676.7 338.2L676.7 333.9L676.7 329.6L676.7 325.3L676.7 321.1L676.7 316.8L676.7 312.5L676.7 308.2L676.7 304L676.7 299.7L676.7 295.4L676.7 291.1L676.7 286.9L676.7 282.6L671.9 282.6L667.1 282.6L662.3 282.6L657.5 282.6L652.8 282.6L648 282.6L643.2 282.6L638.4 282.6L633.6 282.6L628.8 282.6L624 282.6L619.2 282.6L614.4 282.6L609.6 282.6L604.9 282.6L600.1 282.6L595.3 282.6L590.5 282.6L585.7 282.6L580.9 282.6L576.1 282.6L571.3 282.6L566.5 282.6L561.7 282.6L557 282.6L552.2 282.6L547.4 282.6L542.6 282.6L537.8 282.6L533 282.6L528.2 282.6L523.4 282.6L518.6 282.6L513.8 282.6L509.1 282.6L504.3 282.6L499.5 282.6L494.7 282.6L489.9 282.6L485.1 282.6L480.3 282.6L478.5 282.6L475.9 286.9L475.5 287.4L473.4 291.1L471 295.4L470.7 295.8L468.7 299.7L466.5 304L465.9 305.2L464.5 308.2L462.6 312.5L461.2 316L460.8 316.8L459.2 321.1L457.6 325.3L456.4 329L456.2 329.6L454.9 333.9L453.7 338.2L452.6 342.4L451.6 346.7L451.6 346.9L450.8 351L450.1 355.2L449.5 359.5L449 363.8L448.6 368.1L448.4 372.3L448.3 376.6L448.3 380.9L448.5 385.2L448.8 389.4L449.2 393.7L449.8 398L450.5 402.3L451.4 406.5L451.6 407.4L452.4 410.8L453.7 415.1L455.1 419.4L456.4 422.9L456.7 423.6L458.5 427.9L460.5 432.2L461.2 433.4L462.8 436.4L465.3 440.7L465.9 441.7L468.1 445L470.7 448.6L471.3 449.3L474.8 453.5L475.5 454.4L478.7 457.8L480.3 459.4L483.2 462.1L485.1 463.8L488.2 466.4L489.9 467.7L494 470.6L494.7 471.1L499.5 474.1L501 474.9L504.3 476.7L509.1 479L509.4 479.2L513.8 481.1L518.6 482.8L520.6 483.5L523.4 484.3L528.2 485.6L533 486.7L537.8 487.5L539.3 487.7Z" fill="#ff9900"/>
<path d="M537.8 483.5L542.6 484.2L547.4 484.7L552.2 485L557 485.2L561.7 485.2L566.5 485L571.3 484.7L576.1 484.2L580.9 483.5L581.4 483.5L585.7 482.8L590.5 481.8L595.3 480.6L600.1 479.4L600.8 479.2L604.9 478L609.6 476.4L614 474.9L614.4 474.8L619.2 473L624 471L624.8 470.6L628.8 468.9L633.6 466.6L634.1 466.4L638.4 464.2L642.4 462.1L643.2 461.7L648 459L649.9 457.8L652.8 456.2L656.9 453.5L657.5 453.1L662.3 450L663.4 449.3L667.1 446.7L669.4 445L671.9 443.2L675.2 440.7L676.7 439.6L676.7 436.4L676.7 432.2L676.7 427.9L676.7 423.6L676.7 419.4L676.7 415.1L676.7 410.8L676.7 406.5L676.7 402.3L676.7 398L676.7 393.7L676.7 389.4L676.7 385.2L676.7 380.9L676.7 376.6L676.7 372.3L676.7 368.1L676.7 363.8L676.7 359.5L676.7 355.2L676.7 351L676.7 346.7L676.7 342.4L676.7 338.2L676.7 333.9L676.7 329.6L676.7 325.3L676.7 321.1L676.7 316.8L676.7 312.5L676.7 308.2L676.7 304L676.7 299.7L676.7 295.4L676.7 291.1L676.7 286.9L676.7 282.6L671.9 282.6L667.1 282.6L662.3 282.6L657.5 282.6L652.8 282.6L648 282.6L643.2 282.6L638.4 282.6L633.6 282.6L628.8 282.6L624 282.6L619.2 282.6L614.4 282.6L609.6 282.6L604.9 282.6L600.1 282.6L595.3 282.6L590.5 282.6L585.7 282.6L580.9 282.6L576.1 282.6L571.3 282.6L566.5 282.6L561.7 282.6L557 282.6L552.2 282.6L547.4 282.6L542.6 282.6L537.8 282.6L533 282.6L528.2 282.6L523.4 282.6L518.6 282.6L513.8 282.6L509.1 282.6L504.3 282.6L499.5 282.6L494.7 282.6L489.9 282.6L485.1 282.6L481.9 282.6L480.3 285.3L479.3 286.9L476.7 291.1L475.5 293.4L474.4 295.4L472.1 299.7L470.7 302.5L470 304L467.9 308.2L466.1 312.5L465.9 312.8L464.3 316.8L462.6 321.1L461.2 325.2L461.1 325.3L459.7 329.6L458.3 333.9L457.2 338.2L456.4 341.6L456.2 342.4L455.2 346.7L454.4 351L453.7 355.2L453.1 359.5L452.6 363.8L452.3 368.1L452.1 372.3L452.1 376.6L452.1 380.9L452.3 385.2L452.7 389.4L453.2 393.7L453.9 398L454.7 402.3L455.7 406.5L456.4 409.3L456.8 410.8L458.1 415.1L459.6 419.4L461.2 423.2L461.3 423.6L463.3 427.9L465.4 432.2L465.9 433.1L467.9 436.4L470.6 440.7L470.7 441L473.6 445L475.5 447.4L477 449.3L480.3 453L480.8 453.5L485.1 457.8L489.9 462L490 462.1L494.7 465.7L495.7 466.4L499.5 468.9L502.4 470.6L504.3 471.7L509.1 474.3L510.5 474.9L513.8 476.4L518.6 478.4L521.1 479.2L523.4 480L528.2 481.4L533 482.5L537.8 483.4L537.8 483.5Z" fill="#ff8100"/>
<path d="M536.1 479.2L537.8 479.5L542.6 480.4L547.4 481L552.2 481.4L557 481.6L561.7 481.6L566.5 481.5L571.3 481.3L576.1 480.8L580.9 480.2L585.7 479.4L586.8 479.2L590.5 478.5L595.3 477.4L600.1 476.2L604.5 474.9L604.9 474.8L609.6 473.3L614.4 471.7L617 470.6L619.2 469.8L624 467.9L627.4 466.4L628.8 465.7L633.6 463.5L636.4 462.1L638.4 461.1L643.2 458.6L644.5 457.8L648 455.9L651.9 453.5L652.8 453L657.5 450.1L658.8 449.3L662.3 446.9L665.1 445L667.1 443.6L671 440.7L671.9 440.1L676.7 436.4L676.7 432.2L676.7 427.9L676.7 423.6L676.7 419.4L676.7 415.1L676.7 410.8L676.7 406.5L676.7 402.3L676.7 398L676.7 393.7L676.7 389.4L676.7 385.2L676.7 380.9L676.7 376.6L676.7 372.3L676.7 368.1L676.7 363.8L676.7 359.5L676.7 355.2L676.7 351L676.7 346.7L676.7 342.4L676.7 338.2L676.7 333.9L676.7 329.6L676.7 325.3L676.7 321.1L676.7 316.8L676.7 312.5L676.7 308.2L676.7 304L676.7 299.7L676.7 295.4L676.7 291.1L676.7 286.9L676.7 282.6L671.9 282.6L667.1 282.6L662.3 282.6L657.5 282.6L652.8 282.6L648 282.6L643.2 282.6L638.4 282.6L633.6 282.6L628.8 282.6L624 282.6L619.2 282.6L614.4 282.6L609.6 282.6L604.9 282.6L600.1 282.6L595.3 282.6L590.5 282.6L585.7 282.6L580.9 282.6L576.1 282.6L571.3 282.6L566.5 282.6L561.7 282.6L557 282.6L552.2 282.6L547.4 282.6L542.6 282.6L537.8 282.6L533 282.6L528.2 282.6L523.4 282.6L518.6 282.6L513.8 282.6L509.1 282.6L504.3 282.6L499.5 282.6L494.7 282.6L489.9 282.6L485.3 282.6L485.1 282.8L482.6 286.9L480.3 290.7L480 291.1L477.7 295.4L475.5 299.4L475.4 299.7L473.2 304L471.3 308.2L470.7 309.4L469.3 312.5L467.6 316.8L465.9 321.1L464.4 325.3L463 329.6L461.8 333.9L461.2 336.1L460.6 338.2L459.5 342.4L458.6 346.7L457.9 351L457.2 355.2L456.6 359.5L456.4 362.4L456.2 363.8L455.9 368.1L455.8 372.3L455.7 376.6L455.9 380.9L456.1 385.2L456.4 387.4L456.6 389.4L457.1 393.7L457.8 398L458.7 402.3L459.7 406.5L461 410.8L461.2 411.4L462.4 415.1L464 419.4L465.8 423.6L465.9 423.8L467.9 427.9L470.2 432.2L470.7 433L472.9 436.4L475.5 440.4L475.8 440.7L479 445L480.3 446.6L482.7 449.3L485.1 451.8L486.8 453.5L489.9 456.4L491.6 457.8L494.7 460.3L497 462.1L499.5 463.8L503.4 466.4L504.3 466.9L509.1 469.6L511.1 470.6L513.8 471.9L518.6 474L521.1 474.9L523.4 475.8L528.2 477.2L533 478.5L536.1 479.2Z" fill="#ff6900"/>
<path d="M534.2 474.9L537.8 475.7L542.6 476.6L547.4 477.3L552.2 477.8L557 478.1L561.7 478.2L566.5 478.1L571.3 477.9L576.1 477.5L580.9 476.9L585.7 476.2L590.5 475.3L592.3 474.9L595.3 474.3L600.1 473.1L604.9 471.7L608.3 470.6L609.6 470.2L614.4 468.6L619.2 466.8L620.3 466.4L624 464.8L628.8 462.8L630.2 462.1L633.6 460.5L638.4 458.1L639 457.8L643.2 455.6L646.9 453.5L648 452.9L652.8 450.1L654 449.3L657.5 447.1L660.7 445L662.3 443.9L666.9 440.7L667.1 440.6L671.9 437.1L672.7 436.4L676.7 433.4L676.7 432.2L676.7 427.9L676.7 423.6L676.7 419.4L676.7 415.1L676.7 410.8L676.7 406.5L676.7 402.3L676.7 398L676.7 393.7L676.7 389.4L676.7 385.2L676.7 380.9L676.7 376.6L676.7 372.3L676.7 368.1L676.7 363.8L676.7 359.5L676.7 355.2L676.7 351L676.7 346.7L676.7 342.4L676.7 338.2L676.7 333.9L676.7 329.6L676.7 325.3L676.7 321.1L676.7 316.8L676.7 312.5L676.7 308.2L676.7 304L676.7 299.7L676.7 295.4L676.7 291.1L676.7 286.9L676.7 282.6L671.9 282.6L667.1 282.6L662.3 282.6L657.5 282.6L652.8 282.6L648 282.6L643.2 282.6L638.4 282.6L633.6 282.6L628.8 282.6L624 282.6L619.2 282.6L614.4 282.6L609.6 282.6L604.9 282.6L600.1 282.6L595.3 282.6L590.5 282.6L585.7 282.6L580.9 282.6L576.1 282.6L571.3 282.6L566.5 282.6L561.7 282.6L557 282.6L552.2 282.6L547.4 282.6L542.6 282.6L537.8 282.6L533 282.6L528.2 282.6L523.4 282.6L518.6 282.6L513.8 282.6L509.1 282.6L504.3 282.6L499.5 282.6L494.7 282.6L489.9 282.6L488.4 282.6L485.8 286.9L485.1 288L483.2 291.1L480.8 295.4L480.3 296.4L478.6 299.7L476.4 304L475.5 305.9L474.4 308.2L472.5 312.5L470.8 316.8L470.7 316.9L469.2 321.1L467.6 325.3L466.3 329.6L465.9 330.6L465 333.9L463.9 338.2L462.8 342.4L462 346.7L461.2 351L461.2 351.1L460.5 355.2L460 359.5L459.7 363.8L459.4 368.1L459.3 372.3L459.3 376.6L459.5 380.9L459.8 385.2L460.3 389.4L460.9 393.7L461.2 395.2L461.7 398L462.6 402.3L463.8 406.5L465.1 410.8L465.9 413.3L466.6 415.1L468.3 419.4L470.3 423.6L470.7 424.6L472.5 427.9L475 432.2L475.5 433.1L477.7 436.4L480.3 440L480.9 440.7L484.4 445L485.1 445.8L488.4 449.3L489.9 450.8L492.9 453.5L494.7 455.1L498.1 457.8L499.5 458.9L504.2 462.1L504.3 462.2L509.1 465L511.5 466.4L513.8 467.5L518.6 469.7L520.9 470.6L523.4 471.6L528.2 473.2L533 474.6L534.2 474.9Z" fill="#ff5000"/>
<path d="M533 470.6L537.8 471.8L542.6 472.8L547.4 473.6L552.2 474.2L557 474.5L561.7 474.7L566.5 474.7L571.3 474.5L576.1 474.2L580.9 473.6L585.7 472.9L590.5 472.1L595.3 471.1L597.1 470.6L600.1 469.9L604.9 468.6L609.6 467.1L611.9 466.4L614.4 465.5L619.2 463.7L623.3 462.1L624 461.8L628.8 459.7L632.9 457.8L633.6 457.5L638.4 455.1L641.4 453.5L643.2 452.6L648 449.9L649 449.3L652.8 447.1L656.1 445L657.5 444.1L662.3 440.9L662.6 440.7L667.1 437.5L668.6 436.4L671.9 434L674.3 432.2L676.7 430.3L676.7 427.9L676.7 423.6L676.7 419.4L676.7 415.1L676.7 410.8L676.7 406.5L676.7 402.3L676.7 398L676.7 393.7L676.7 389.4L676.7 385.2L676.7 380.9L676.7 376.6L676.7 372.3L676.7 368.1L676.7 363.8L676.7 359.5L676.7 355.2L676.7 351L676.7 346.7L676.7 342.4L676.7 338.2L676.7 333.9L676.7 329.6L676.7 325.3L676.7 321.1L676.7 316.8L676.7 312.5L676.7 308.2L676.7 304L676.7 299.7L676.7 295.4L676.7 291.1L676.7 286.9L676.7 282.6L671.9 282.6L667.1 282.6L662.3 282.6L657.5 282.6L652.8 282.6L648 282.6L643.2 282.6L638.4 282.6L633.6 282.6L628.8 282.6L624 282.6L619.2 282.6L614.4 282.6L609.6 282.6L604.9 282.6L600.1 282.6L595.3 282.6L590.5 282.6L585.7 282.6L580.9 282.6L576.1 282.6L571.3 282.6L566.5 282.6L561.7 282.6L557 282.6L552.2 282.6L547.4 282.6L542.6 282.6L537.8 282.6L533 282.6L528.2 282.6L523.4 282.6L518.6 282.6L513.8 282.6L509.1 282.6L504.3 282.6L499.5 282.6L494.7 282.6L491.7 282.6L489.9 285.4L489 286.9L486.4 291.1L485.1 293.5L484 295.4L481.8 299.7L480.3 302.6L479.6 304L477.6 308.2L475.8 312.5L475.5 313.1L474 316.8L472.4 321.1L470.9 325.3L470.7 325.8L469.5 329.6L468.3 333.9L467.2 338.2L466.2 342.4L465.9 343.5L465.3 346.7L464.6 351L464 355.2L463.5 359.5L463.1 363.8L462.9 368.1L462.9 372.3L462.9 376.6L463.2 380.9L463.5 385.2L464.1 389.4L464.7 393.7L465.6 398L465.9 399.6L466.6 402.3L467.8 406.5L469.2 410.8L470.7 414.8L470.9 415.1L472.7 419.4L474.8 423.6L475.5 425L477.2 427.9L479.8 432.2L480.3 432.9L482.8 436.4L485.1 439.4L486.2 440.7L489.9 444.9L490 445L494.3 449.3L494.7 449.6L499.3 453.5L499.5 453.7L504.3 457.2L505.2 457.8L509.1 460.3L512.2 462.1L513.8 463L518.6 465.4L520.9 466.4L523.4 467.4L528.2 469.1L533 470.6Z" fill="#fe3900"/>
<path d="M553.9 470.6L557 470.9L561.7 471.1L566.5 471.2L571.3 471.1L576.1 470.8L577.3 470.6L580.9 470.3L585.7 469.6L590.5 468.8L595.3 467.8L600.1 466.7L601.3 466.4L604.9 465.4L609.6 463.9L614.4 462.4L615.2 462.1L619.2 460.6L624 458.7L626.1 457.8L628.8 456.6L633.6 454.4L635.4 453.5L638.4 452L643.2 449.5L643.6 449.3L648 446.8L651.1 445L652.8 444L657.5 441L657.9 440.7L662.3 437.8L664.3 436.4L667.1 434.4L670.2 432.2L671.9 430.9L675.8 427.9L676.7 427.2L676.7 423.6L676.7 419.4L676.7 415.1L676.7 410.8L676.7 406.5L676.7 402.3L676.7 398L676.7 393.7L676.7 389.4L676.7 385.2L676.7 380.9L676.7 376.6L676.7 372.3L676.7 368.1L676.7 363.8L676.7 359.5L676.7 355.2L676.7 351L676.7 346.7L676.7 342.4L676.7 338.2L676.7 333.9L676.7 329.6L676.7 325.3L676.7 321.1L676.7 316.8L676.7 312.5L676.7 308.2L676.7 304L676.7 299.7L676.7 295.4L676.7 291.1L676.7 286.9L676.7 282.6L671.9 282.6L667.1 282.6L662.3 282.6L657.5 282.6L652.8 282.6L648 282.6L643.2 282.6L638.4 282.6L633.6 282.6L628.8 282.6L624 282.6L619.2 282.6L614.4 282.6L609.6 282.6L604.9 282.6L600.1 282.6L595.3 282.6L590.5 282.6L585.7 282.6L580.9 282.6L576.1 282.6L571.3 282.6L566.5 282.6L561.7 282.6L557 282.6L552.2 282.6L547.4 282.6L542.6 282.6L537.8 282.6L533 282.6L528.2 282.6L523.4 282.6L518.6 282.6L513.8 282.6L509.1 282.6L504.3 282.6L499.5 282.6L494.9 282.6L494.7 283L492.3 286.9L489.9 290.8L489.7 291.1L487.3 295.4L485.1 299.5L485 299.7L482.9 304L480.9 308.2L480.3 309.5L479 312.5L477.3 316.8L475.7 321.1L475.5 321.5L474.2 325.3L472.8 329.6L471.6 333.9L470.7 337.3L470.5 338.2L469.6 342.4L468.7 346.7L468 351L467.4 355.2L467 359.5L466.7 363.8L466.5 368.1L466.5 372.3L466.6 376.6L466.9 380.9L467.3 385.2L467.9 389.4L468.7 393.7L469.6 398L470.7 402.3L470.7 402.4L472 406.5L473.5 410.8L475.3 415.1L475.5 415.7L477.3 419.4L479.5 423.6L480.3 425L482 427.9L484.9 432.2L485.1 432.5L488.1 436.4L489.9 438.6L491.8 440.7L494.7 443.7L496 445L499.5 448.2L500.8 449.3L504.3 452L506.3 453.5L509.1 455.4L513 457.8L513.8 458.3L518.6 460.8L521.3 462.1L523.4 463L528.2 464.9L532.5 466.4L533 466.5L537.8 467.9L542.6 468.9L547.4 469.8L552.2 470.5L553.9 470.6Z" fill="#fa2900"/>
<path d="M550.1 466.4L552.2 466.7L557 467.2L561.7 467.5L566.5 467.6L571.3 467.5L576.1 467.3L580.9 466.8L584.8 466.4L585.7 466.2L590.5 465.5L595.3 464.5L600.1 463.4L604.9 462.2L605.1 462.1L609.6 460.7L614.4 459.2L618.2 457.8L619.2 457.4L624 455.5L628.7 453.5L628.8 453.5L633.6 451.3L637.7 449.3L638.4 448.9L643.2 446.4L645.7 445L648 443.7L652.8 440.9L653 440.7L657.5 437.8L659.7 436.4L662.3 434.7L665.9 432.2L667.1 431.3L671.7 427.9L671.9 427.7L676.7 424L676.7 423.6L676.7 419.4L676.7 415.1L676.7 410.8L676.7 406.5L676.7 402.3L676.7 398L676.7 393.7L676.7 389.4L676.7 385.2L676.7 380.9L676.7 376.6L676.7 372.3L676.7 368.1L676.7 363.8L676.7 359.5L676.7 355.2L676.7 351L676.7 346.7L676.7 342.4L676.7 338.2L676.7 333.9L676.7 329.6L676.7 325.3L676.7 321.1L676.7 316.8L676.7 312.5L676.7 308.2L676.7 304L676.7 299.7L676.7 295.4L676.7 291.1L676.7 286.9L676.7 282.6L671.9 282.6L667.1 282.6L662.3 282.6L657.5 282.6L652.8 282.6L648 282.6L643.2 282.6L638.4 282.6L633.6 282.6L628.8 282.6L624 282.6L619.2 282.6L614.4 282.6L609.6 282.6L604.9 282.6L600.1 282.6L595.3 282.6L590.5 282.6L585.7 282.6L580.9 282.6L576.1 282.6L571.3 282.6L566.5 282.6L561.7 282.6L557 282.6L552.2 282.6L547.4 282.6L542.6 282.6L537.8 282.6L533 282.6L528.2 282.6L523.4 282.6L518.6 282.6L513.8 282.6L509.1 282.6L504.3 282.6L499.5 282.6L498.3 282.6L495.6 286.9L494.7 288.3L493 291.1L490.6 295.4L489.9 296.7L488.3 299.7L486.2 304L485.1 306.3L484.2 308.2L482.4 312.5L480.6 316.8L480.3 317.6L479 321.1L477.6 325.3L476.2 329.6L475.5 332L475 333.9L473.9 338.2L473 342.4L472.2 346.7L471.5 351L470.9 355.2L470.7 357.5L470.5 359.5L470.3 363.8L470.2 368.1L470.2 372.3L470.4 376.6L470.7 380.9L470.7 381.4L471.2 385.2L471.8 389.4L472.7 393.7L473.7 398L474.9 402.3L475.5 404.2L476.3 406.5L478 410.8L479.8 415.1L480.3 416.1L482 419.4L484.4 423.6L485.1 424.8L487.1 427.9L489.9 431.8L490.2 432.2L493.7 436.4L494.7 437.5L497.7 440.7L499.5 442.4L502.3 445L504.3 446.6L507.7 449.3L509.1 450.3L513.8 453.4L514 453.5L518.6 456.2L521.9 457.8L523.4 458.5L528.2 460.6L532.3 462.1L533 462.3L537.8 463.8L542.6 465L547.4 465.9L550.1 466.4Z" fill="#f51800"/>
<path d="M548.1 462.1L552.2 462.8L557 463.4L561.7 463.8L566.5 463.9L571.3 463.9L576.1 463.7L580.9 463.3L585.7 462.8L590.4 462.1L590.5 462.1L595.3 461.2L600.1 460.1L604.9 458.9L608.5 457.8L609.6 457.5L614.4 455.9L619.2 454.2L620.9 453.5L624 452.3L628.8 450.3L631.1 449.3L633.6 448.1L638.4 445.7L639.8 445L643.2 443.2L647.7 440.7L648 440.5L652.8 437.7L654.7 436.4L657.5 434.7L661.3 432.2L662.3 431.5L667.1 428.1L667.4 427.9L671.9 424.5L673 423.6L676.7 420.7L676.7 419.4L676.7 415.1L676.7 410.8L676.7 406.5L676.7 402.3L676.7 398L676.7 393.7L676.7 389.4L676.7 385.2L676.7 380.9L676.7 376.6L676.7 372.3L676.7 368.1L676.7 363.8L676.7 359.5L676.7 355.2L676.7 351L676.7 346.7L676.7 342.4L676.7 338.2L676.7 333.9L676.7 329.6L676.7 325.3L676.7 321.1L676.7 316.8L676.7 312.5L676.7 308.2L676.7 304L676.7 299.7L676.7 295.4L676.7 291.1L676.7 286.9L676.7 282.6L671.9 282.6L667.1 282.6L662.3 282.6L657.5 282.6L652.8 282.6L648 282.6L643.2 282.6L638.4 282.6L633.6 282.6L628.8 282.6L624 282.6L619.2 282.6L614.4 282.6L609.6 282.6L604.9 282.6L600.1 282.6L595.3 282.6L590.5 282.6L585.7 282.6L580.9 282.6L576.1 282.6L571.3 282.6L566.5 282.6L561.7 282.6L557 282.6L552.2 282.6L547.4 282.6L542.6 282.6L537.8 282.6L533 282.6L528.2 282.6L523.4 282.6L518.6 282.6L513.8 282.6L509.1 282.6L504.3 282.6L501.7 282.6L499.5 286L498.9 286.9L496.4 291.1L494.7 294.2L494 295.4L491.7 299.7L489.9 303.3L489.6 304L487.6 308.2L485.7 312.5L485.1 314L484 316.8L482.4 321.1L481 325.3L480.3 327.4L479.6 329.6L478.5 333.9L477.4 338.2L476.5 342.4L475.7 346.7L475.5 347.8L475.1 351L474.5 355.2L474.2 359.5L474 363.8L473.9 368.1L474 372.3L474.2 376.6L474.6 380.9L475.1 385.2L475.5 387.5L475.9 389.4L476.8 393.7L477.9 398L479.2 402.3L480.3 405.4L480.7 406.5L482.5 410.8L484.5 415.1L485.1 416.2L486.8 419.4L489.4 423.6L489.9 424.3L492.4 427.9L494.7 430.9L495.8 432.2L499.5 436.3L499.6 436.4L504 440.7L504.3 441L509.1 444.9L509.1 445L513.8 448.4L515.3 449.3L518.6 451.3L522.7 453.5L523.4 453.9L528.2 456.1L532.5 457.8L533 458L537.8 459.6L542.6 460.9L547.4 462L548.1 462.1Z" fill="#f00b00"/>
<path d="M547.2 457.8L547.4 457.9L552.2 458.8L557 459.5L561.7 459.9L566.5 460.2L571.3 460.2L576.1 460.1L580.9 459.8L585.7 459.3L590.5 458.6L594.8 457.8L595.3 457.7L600.1 456.7L604.9 455.5L609.6 454.1L611.5 453.5L614.4 452.6L619.2 450.9L623.5 449.3L624 449.1L628.8 447L633.3 445L633.6 444.9L638.4 442.5L641.8 440.7L643.2 440L648 437.3L649.4 436.4L652.8 434.4L656.3 432.2L657.5 431.4L662.3 428.2L662.8 427.9L667.1 424.8L668.7 423.6L671.9 421.2L674.2 419.4L676.7 417.4L676.7 415.1L676.7 410.8L676.7 406.5L676.7 402.3L676.7 398L676.7 393.7L676.7 389.4L676.7 385.2L676.7 380.9L676.7 376.6L676.7 372.3L676.7 368.1L676.7 363.8L676.7 359.5L676.7 355.2L676.7 351L676.7 346.7L676.7 342.4L676.7 338.2L676.7 333.9L676.7 329.6L676.7 325.3L676.7 321.1L676.7 316.8L676.7 312.5L676.7 308.2L676.7 304L676.7 299.7L676.7 295.4L676.7 291.1L676.7 286.9L676.7 282.6L671.9 282.6L667.1 282.6L662.3 282.6L657.5 282.6L652.8 282.6L648 282.6L643.2 282.6L638.4 282.6L633.6 282.6L628.8 282.6L624 282.6L619.2 282.6L614.4 282.6L609.6 282.6L604.9 282.6L600.1 282.6L595.3 282.6L590.5 282.6L585.7 282.6L580.9 282.6L576.1 282.6L571.3 282.6L566.5 282.6L561.7 282.6L557 282.6L552.2 282.6L547.4 282.6L542.6 282.6L537.8 282.6L533 282.6L528.2 282.6L523.4 282.6L518.6 282.6L513.8 282.6L509.1 282.6L505.1 282.6L504.3 283.9L502.4 286.9L499.8 291.1L499.5 291.8L497.4 295.4L495.1 299.7L494.7 300.6L493 304L491 308.2L489.9 310.8L489.2 312.5L487.5 316.8L485.9 321.1L485.1 323.3L484.4 325.3L483.1 329.6L482 333.9L480.9 338.2L480.3 341.1L480 342.4L479.3 346.7L478.7 351L478.2 355.2L477.9 359.5L477.7 363.8L477.7 368.1L477.8 372.3L478.1 376.6L478.6 380.9L479.2 385.2L480 389.4L480.3 390.8L481 393.7L482.2 398L483.6 402.3L485.1 406.1L485.3 406.5L487.2 410.8L489.4 415.1L489.9 416L491.9 419.4L494.7 423.6L497.9 427.9L499.5 429.7L501.6 432.2L504.3 434.9L505.9 436.4L509.1 439.3L510.8 440.7L513.8 443L516.7 445L518.6 446.3L523.4 449.1L523.8 449.3L528.2 451.4L533 453.5L533.1 453.5L537.8 455.2L542.6 456.7L547.2 457.8Z" fill="#eb0700"/>
<path d="M547 453.5L547.4 453.6L552.2 454.7L557 455.5L561.7 456L566.5 456.4L571.3 456.5L576.1 456.4L580.9 456.1L585.7 455.7L590.5 455L595.3 454.2L598.6 453.5L600.1 453.2L604.9 452.1L609.6 450.7L614.3 449.3L614.4 449.2L619.2 447.5L624 445.7L625.7 445L628.8 443.7L633.6 441.5L635.3 440.7L638.4 439.2L643.2 436.7L643.6 436.4L648 434L651 432.2L652.8 431.1L657.5 428.1L657.8 427.9L662.3 424.8L664.1 423.6L667.1 421.4L669.9 419.4L671.9 417.8L675.3 415.1L676.7 414L676.7 410.8L676.7 406.5L676.7 402.3L676.7 398L676.7 393.7L676.7 389.4L676.7 385.2L676.7 380.9L676.7 376.6L676.7 372.3L676.7 368.1L676.7 363.8L676.7 359.5L676.7 355.2L676.7 351L676.7 346.7L676.7 342.4L676.7 338.2L676.7 333.9L676.7 329.6L676.7 325.3L676.7 321.1L676.7 316.8L676.7 312.5L676.7 308.2L676.7 304L676.7 299.7L676.7 295.4L676.7 291.1L676.7 286.9L676.7 282.6L671.9 282.6L667.1 282.6L662.3 282.6L657.5 282.6L652.8 282.6L648 282.6L643.2 282.6L638.4 282.6L633.6 282.6L628.8 282.6L624 282.6L619.2 282.6L614.4 282.6L609.6 282.6L604.9 282.6L600.1 282.6L595.3 282.6L590.5 282.6L585.7 282.6L580.9 282.6L576.1 282.6L571.3 282.6L566.5 282.6L561.7 282.6L557 282.6L552.2 282.6L547.4 282.6L542.6 282.6L537.8 282.6L533 282.6L528.2 282.6L523.4 282.6L518.6 282.6L513.8 282.6L509.1 282.6L508.6 282.6L505.9 286.9L504.3 289.6L503.3 291.1L500.9 295.4L499.5 298.1L498.6 299.7L496.5 304L494.7 307.8L494.5 308.2L492.7 312.5L491 316.8L489.9 319.7L489.4 321.1L488 325.3L486.7 329.6L485.5 333.9L485.1 335.7L484.5 338.2L483.7 342.4L483 346.7L482.4 351L482 355.2L481.7 359.5L481.5 363.8L481.6 368.1L481.8 372.3L482.1 376.6L482.6 380.9L483.4 385.2L484.3 389.4L485.1 392.8L485.3 393.7L486.7 398L488.2 402.3L489.9 406.3L490 406.5L492.1 410.8L494.5 415.1L494.7 415.5L497.2 419.4L499.5 422.6L500.3 423.6L503.8 427.9L504.3 428.4L507.9 432.2L509.1 433.3L512.7 436.4L513.8 437.4L518.3 440.7L518.6 441L523.4 444L525.2 445L528.2 446.6L533 448.9L534 449.3L537.8 450.8L542.6 452.3L547 453.5Z" fill="#e50300"/>
<path d="M547.2 449.3L547.4 449.3L552.2 450.4L557 451.3L561.7 452L566.5 452.4L571.3 452.6L576.1 452.6L580.9 452.4L585.7 452L590.5 451.4L595.3 450.6L600.1 449.7L601.9 449.3L604.9 448.6L609.6 447.2L614.4 445.8L616.7 445L619.2 444.1L624 442.3L627.8 440.7L628.8 440.3L633.6 438.1L637.1 436.4L638.4 435.8L643.2 433.3L645.2 432.2L648 430.6L652.5 427.9L652.8 427.7L657.5 424.7L659.1 423.6L662.3 421.4L665.2 419.4L667.1 418L670.9 415.1L671.9 414.3L676.3 410.8L676.7 410.5L676.7 406.5L676.7 402.3L676.7 398L676.7 393.7L676.7 389.4L676.7 385.2L676.7 380.9L676.7 376.6L676.7 372.3L676.7 368.1L676.7 363.8L676.7 359.5L676.7 355.2L676.7 351L676.7 346.7L676.7 342.4L676.7 338.2L676.7 333.9L676.7 329.6L676.7 325.3L676.7 321.1L676.7 316.8L676.7 312.5L676.7 308.2L676.7 304L676.7 299.7L676.7 295.4L676.7 291.1L676.7 286.9L676.7 282.6L671.9 282.6L667.1 282.6L662.3 282.6L657.5 282.6L652.8 282.6L648 282.6L643.2 282.6L638.4 282.6L633.6 282.6L628.8 282.6L624 282.6L619.2 282.6L614.4 282.6L609.6 282.6L604.9 282.6L600.1 282.6L595.3 282.6L590.5 282.6L585.7 282.6L580.9 282.6L576.1 282.6L571.3 282.6L566.5 282.6L561.7 282.6L557 282.6L552.2 282.6L547.4 282.6L542.6 282.6L537.8 282.6L533 282.6L528.2 282.6L523.4 282.6L518.6 282.6L513.8 282.6L512.3 282.6L509.5 286.9L509.1 287.6L506.9 291.1L504.5 295.4L504.3 295.8L502.2 299.7L500.1 304L499.5 305.2L498.1 308.2L496.2 312.5L494.7 316.4L494.5 316.8L493 321.1L491.6 325.3L490.3 329.6L489.9 331.2L489.2 333.9L488.2 338.2L487.4 342.4L486.7 346.7L486.2 351L485.8 355.2L485.5 359.5L485.5 363.8L485.5 368.1L485.8 372.3L486.2 376.6L486.8 380.9L487.6 385.2L488.6 389.4L489.8 393.7L489.9 393.9L491.3 398L493 402.3L494.7 406L494.9 406.5L497.2 410.8L499.5 414.6L499.8 415.1L502.7 419.4L504.3 421.3L506.2 423.6L509.1 426.9L510.1 427.9L513.8 431.5L514.6 432.2L518.6 435.4L520.1 436.4L523.4 438.7L526.7 440.7L528.2 441.6L533 444L535.1 445L537.8 446.1L542.6 447.9L547.2 449.3Z" fill="#de0000"/>
<path d="M548 445L552.2 446.1L557 447.1L561.7 447.9L566.5 448.4L571.3 448.7L576.1 448.7L580.9 448.6L585.7 448.2L590.5 447.7L595.3 447L600.1 446.1L604.8 445L604.9 445L609.6 443.7L614.4 442.2L619 440.7L619.2 440.6L624 438.8L628.8 436.8L629.7 436.4L633.6 434.7L638.4 432.4L638.8 432.2L643.2 429.8L646.7 427.9L648 427.2L652.8 424.3L653.8 423.6L657.5 421.2L660.3 419.4L662.3 417.9L666.3 415.1L667.1 414.5L671.9 410.8L676.7 406.9L676.7 406.5L676.7 402.3L676.7 398L676.7 393.7L676.7 389.4L676.7 385.2L676.7 380.9L676.7 376.6L676.7 372.3L676.7 368.1L676.7 363.8L676.7 359.5L676.7 355.2L676.7 351L676.7 346.7L676.7 342.4L676.7 338.2L676.7 333.9L676.7 329.6L676.7 325.3L676.7 321.1L676.7 316.8L676.7 312.5L676.7 308.2L676.7 304L676.7 299.7L676.7 295.4L676.7 291.1L676.7 286.9L676.7 282.6L671.9 282.6L667.1 282.6L662.3 282.6L657.5 282.6L652.8 282.6L648 282.6L643.2 282.6L638.4 282.6L633.6 282.6L628.8 282.6L624 282.6L619.2 282.6L614.4 282.6L609.6 282.6L604.9 282.6L600.1 282.6L595.3 282.6L590.5 282.6L585.7 282.6L580.9 282.6L576.1 282.6L571.3 282.6L566.5 282.6L561.7 282.6L557 282.6L552.2 282.6L547.4 282.6L542.6 282.6L537.8 282.6L533 282.6L528.2 282.6L523.4 282.6L518.6 282.6L516 282.6L513.8 285.8L513.2 286.9L510.6 291.1L509.1 293.8L508.1 295.4L505.8 299.7L504.3 302.8L503.7 304L501.7 308.2L499.9 312.5L499.5 313.5L498.2 316.8L496.7 321.1L495.3 325.3L494.7 327.3L494 329.6L492.9 333.9L492 338.2L491.2 342.4L490.5 346.7L490 351L489.9 352.5L489.7 355.2L489.5 359.5L489.5 363.8L489.6 368.1L489.9 371.8L489.9 372.3L490.4 376.6L491.1 380.9L492 385.2L493.1 389.4L494.5 393.7L494.7 394.3L496.1 398L497.9 402.3L499.5 405.5L500 406.5L502.5 410.8L504.3 413.5L505.4 415.1L508.6 419.4L509.1 419.9L512.4 423.6L513.8 425.1L516.8 427.9L518.6 429.5L522.1 432.2L523.4 433.2L528.2 436.3L528.4 436.4L533 439L536.5 440.7L537.8 441.3L542.6 443.2L547.4 444.8L548 445Z" fill="#d80000"/>
<path d="M549.3 440.7L552.2 441.6L557 442.7L561.7 443.6L566.5 444.2L571.3 444.6L576.1 444.7L580.9 444.7L585.7 444.4L590.5 443.9L595.3 443.2L600.1 442.4L604.9 441.3L607.1 440.7L609.6 440.1L614.4 438.6L619.2 437L620.8 436.4L624 435.3L628.8 433.3L631.3 432.2L633.6 431.1L638.4 428.8L640.2 427.9L643.2 426.3L648 423.6L652.8 420.7L654.9 419.4L657.5 417.6L661.3 415.1L662.3 414.3L667.1 410.8L667.2 410.8L671.9 407.1L672.6 406.5L676.7 403.1L676.7 402.3L676.7 398L676.7 393.7L676.7 389.4L676.7 385.2L676.7 380.9L676.7 376.6L676.7 372.3L676.7 368.1L676.7 363.8L676.7 359.5L676.7 355.2L676.7 351L676.7 346.7L676.7 342.4L676.7 338.2L676.7 333.9L676.7 329.6L676.7 325.3L676.7 321.1L676.7 316.8L676.7 312.5L676.7 308.2L676.7 304L676.7 299.7L676.7 295.4L676.7 291.1L676.7 286.9L676.7 282.6L671.9 282.6L667.1 282.6L662.3 282.6L657.5 282.6L652.8 282.6L648 282.6L643.2 282.6L638.4 282.6L633.6 282.6L628.8 282.6L624 282.6L619.2 282.6L614.4 282.6L609.6 282.6L604.9 282.6L600.1 282.6L595.3 282.6L590.5 282.6L585.7 282.6L580.9 282.6L576.1 282.6L571.3 282.6L566.5 282.6L561.7 282.6L557 282.6L552.2 282.6L547.4 282.6L542.6 282.6L537.8 282.6L533 282.6L528.2 282.6L523.4 282.6L519.7 282.6L518.6 284.2L516.9 286.9L514.3 291.1L513.8 291.9L511.9 295.4L509.5 299.7L509.1 300.7L507.4 304L505.4 308.2L504.3 311L503.6 312.5L501.9 316.8L500.4 321.1L499.5 324L499 325.3L497.8 329.6L496.8 333.9L495.8 338.2L495.1 342.4L494.7 344.9L494.4 346.7L494 351L493.7 355.2L493.6 359.5L493.6 363.8L493.8 368.1L494.2 372.3L494.7 375.9L494.8 376.6L495.6 380.9L496.6 385.2L497.8 389.4L499.3 393.7L499.5 394.2L501 398L503.1 402.3L504.3 404.5L505.4 406.5L508.1 410.8L509.1 412.1L511.3 415.1L513.8 418.2L514.9 419.4L518.6 423.1L519.2 423.6L523.4 427.3L524.2 427.9L528.2 430.8L530.4 432.2L533 433.7L537.8 436.3L538.2 436.4L542.6 438.4L547.4 440.1L549.3 440.7Z" fill="#d10000"/>
<path d="M550.8 436.4L552.2 436.9L557 438.2L561.7 439.2L566.5 439.9L571.3 440.4L576.1 440.6L580.9 440.6L585.7 440.4L590.5 440L595.3 439.4L600.1 438.5L604.9 437.5L609.2 436.4L609.6 436.3L614.4 434.9L619.2 433.4L622.5 432.2L624 431.6L628.8 429.6L632.8 427.9L633.6 427.5L638.4 425.2L641.4 423.6L643.2 422.7L648 420L649 419.4L652.8 417.1L655.8 415.1L657.5 414L662.1 410.8L662.3 410.7L667.1 407.1L667.9 406.5L671.9 403.3L673.2 402.3L676.7 399.3L676.7 398L676.7 393.7L676.7 389.4L676.7 385.2L676.7 380.9L676.7 376.6L676.7 372.3L676.7 368.1L676.7 363.8L676.7 359.5L676.7 355.2L676.7 351L676.7 346.7L676.7 342.4L676.7 338.2L676.7 333.9L676.7 329.6L676.7 325.3L676.7 321.1L676.7 316.8L676.7 312.5L676.7 308.2L676.7 304L676.7 299.7L676.7 295.4L676.7 291.1L676.7 286.9L676.7 282.6L671.9 282.6L667.1 282.6L662.3 282.6L657.5 282.6L652.8 282.6L648 282.6L643.2 282.6L638.4 282.6L633.6 282.6L628.8 282.6L624 282.6L619.2 282.6L614.4 282.6L609.6 282.6L604.9 282.6L600.1 282.6L595.3 282.6L590.5 282.6L585.7 282.6L580.9 282.6L576.1 282.6L571.3 282.6L566.5 282.6L561.7 282.6L557 282.6L552.2 282.6L547.4 282.6L542.6 282.6L537.8 282.6L533 282.6L528.2 282.6L523.6 282.6L523.4 282.8L520.8 286.9L518.6 290.3L518.1 291.1L515.7 295.4L513.8 298.8L513.4 299.7L511.2 304L509.2 308.2L509.1 308.7L507.4 312.5L505.8 316.8L504.3 321L504.2 321.1L502.9 325.3L501.7 329.6L500.7 333.9L499.8 338.2L499.5 339.8L499 342.4L498.5 346.7L498.1 351L497.8 355.2L497.7 359.5L497.9 363.8L498.1 368.1L498.6 372.3L499.3 376.6L499.5 377.5L500.2 380.9L501.3 385.2L502.7 389.4L504.3 393.7L506.2 398L508.5 402.3L509.1 403.3L511.1 406.5L513.8 410.5L514.1 410.8L517.6 415.1L518.6 416.2L521.7 419.4L523.4 420.9L526.6 423.6L528.2 424.9L532.6 427.9L533 428.2L537.8 431L540.2 432.2L542.6 433.3L547.4 435.3L550.8 436.4Z" fill="#ca0000"/>
<path d="M580.4 436.4L580.9 436.5L581.3 436.4L585.7 436.3L590.5 436L595.3 435.4L600.1 434.6L604.9 433.7L609.6 432.5L610.8 432.2L614.4 431.1L619.2 429.6L623.9 427.9L624 427.9L628.8 425.9L633.6 423.8L633.9 423.6L638.4 421.5L642.4 419.4L643.2 419L648 416.2L649.9 415.1L652.8 413.3L656.6 410.8L657.5 410.2L662.3 406.8L662.8 406.5L667.1 403.3L668.4 402.3L671.9 399.4L673.6 398L676.7 395.4L676.7 393.7L676.7 389.4L676.7 385.2L676.7 380.9L676.7 376.6L676.7 372.3L676.7 368.1L676.7 363.8L676.7 359.5L676.7 355.2L676.7 351L676.7 346.7L676.7 342.4L676.7 338.2L676.7 333.9L676.7 329.6L676.7 325.3L676.7 321.1L676.7 316.8L676.7 312.5L676.7 308.2L676.7 304L676.7 299.7L676.7 295.4L676.7 291.1L676.7 286.9L676.7 282.6L671.9 282.6L667.1 282.6L662.3 282.6L657.5 282.6L652.8 282.6L648 282.6L643.2 282.6L638.4 282.6L633.6 282.6L628.8 282.6L624 282.6L619.2 282.6L614.4 282.6L609.6 282.6L604.9 282.6L600.1 282.6L595.3 282.6L590.5 282.6L585.7 282.6L580.9 282.6L576.1 282.6L571.3 282.6L566.5 282.6L561.7 282.6L557 282.6L552.2 282.6L547.4 282.6L542.6 282.6L537.8 282.6L533 282.6L528.2 282.6L527.6 282.6L524.7 286.9L523.4 289L522.1 291.1L519.6 295.4L518.6 297.2L517.3 299.7L515.1 304L513.8 306.7L513.2 308.2L511.4 312.5L509.7 316.8L509.1 318.6L508.2 321.1L506.9 325.3L505.7 329.6L504.7 333.9L504.3 335.8L503.8 338.2L503.1 342.4L502.6 346.7L502.2 351L502.1 355.2L502.1 359.5L502.2 363.8L502.6 368.1L503.2 372.3L503.9 376.6L504.3 378L505 380.9L506.2 385.2L507.7 389.4L509.1 392.6L509.5 393.7L511.7 398L513.8 401.8L514.2 402.3L517.1 406.5L518.6 408.6L520.5 410.8L523.4 414L524.5 415.1L528.2 418.5L529.2 419.4L533 422.2L535 423.6L537.8 425.4L542.4 427.9L542.6 428L547.4 430.2L552.2 432L552.8 432.2L557 433.4L561.7 434.6L566.5 435.4L571.3 436L576.1 436.4L580.4 436.4Z" fill="#c40000"/>
<path d="M555.2 427.9L557 428.5L561.7 429.8L566.5 430.8L571.3 431.5L576.1 432L580.9 432.1L585.7 432.1L590.5 431.8L595.3 431.3L600.1 430.6L604.9 429.7L609.6 428.6L612 427.9L614.4 427.2L619.2 425.7L624 424L624.9 423.6L628.8 422.1L633.6 420L634.8 419.4L638.4 417.6L643.2 415.1L643.3 415.1L648 412.4L650.6 410.8L652.8 409.5L657.2 406.5L657.5 406.3L662.3 402.9L663.2 402.3L667.1 399.3L668.7 398L671.9 395.4L673.9 393.7L676.7 391.3L676.7 389.4L676.7 385.2L676.7 380.9L676.7 376.6L676.7 372.3L676.7 368.1L676.7 363.8L676.7 359.5L676.7 355.2L676.7 351L676.7 346.7L676.7 342.4L676.7 338.2L676.7 333.9L676.7 329.6L676.7 325.3L676.7 321.1L676.7 316.8L676.7 312.5L676.7 308.2L676.7 304L676.7 299.7L676.7 295.4L676.7 291.1L676.7 286.9L676.7 282.6L671.9 282.6L667.1 282.6L662.3 282.6L657.5 282.6L652.8 282.6L648 282.6L643.2 282.6L638.4 282.6L633.6 282.6L628.8 282.6L624 282.6L619.2 282.6L614.4 282.6L609.6 282.6L604.9 282.6L600.1 282.6L595.3 282.6L590.5 282.6L585.7 282.6L580.9 282.6L576.1 282.6L571.3 282.6L566.5 282.6L561.7 282.6L557 282.6L552.2 282.6L547.4 282.6L542.6 282.6L537.8 282.6L533 282.6L531.7 282.6L528.8 286.9L528.2 287.8L526.1 291.1L523.6 295.4L523.4 295.8L521.3 299.7L519.2 304L518.6 305.1L517.2 308.2L515.4 312.5L513.8 316.4L513.7 316.8L512.3 321.1L510.9 325.3L509.8 329.6L509.1 332.7L508.8 333.9L508 338.2L507.3 342.4L506.9 346.7L506.6 351L506.4 355.2L506.5 359.5L506.8 363.8L507.2 368.1L507.9 372.3L508.8 376.6L509.1 377.7L509.9 380.9L511.4 385.2L513 389.4L513.8 391.2L515.1 393.7L517.5 398L518.6 399.9L520.2 402.3L523.4 406.4L523.5 406.5L527.4 410.8L528.2 411.6L532 415.1L533 415.9L537.7 419.4L537.8 419.4L542.6 422.4L545 423.6L547.4 424.8L552.2 426.8L555.2 427.9Z" fill="#be0000"/>
<path d="M557.9 423.6L561.7 424.8L566.5 426L571.3 426.8L576.1 427.4L580.9 427.7L585.7 427.7L590.5 427.5L595.3 427.1L600.1 426.4L604.9 425.6L609.6 424.5L612.8 423.6L614.4 423.2L619.2 421.7L624 420L625.7 419.4L628.8 418.1L633.6 416L635.5 415.1L638.4 413.7L643.2 411.2L643.8 410.8L648 408.4L651 406.5L652.8 405.5L657.5 402.3L657.6 402.3L662.3 398.8L663.5 398L667.1 395.2L668.9 393.7L671.9 391.2L674 389.4L676.7 387L676.7 385.2L676.7 380.9L676.7 376.6L676.7 372.3L676.7 368.1L676.7 363.8L676.7 359.5L676.7 355.2L676.7 351L676.7 346.7L676.7 342.4L676.7 338.2L676.7 333.9L676.7 329.6L676.7 325.3L676.7 321.1L676.7 316.8L676.7 312.5L676.7 308.2L676.7 304L676.7 299.7L676.7 295.4L676.7 291.1L676.7 286.9L676.7 282.6L671.9 282.6L667.1 282.6L662.3 282.6L657.5 282.6L652.8 282.6L648 282.6L643.2 282.6L638.4 282.6L633.6 282.6L628.8 282.6L624 282.6L619.2 282.6L614.4 282.6L609.6 282.6L604.9 282.6L600.1 282.6L595.3 282.6L590.5 282.6L585.7 282.6L580.9 282.6L576.1 282.6L571.3 282.6L566.5 282.6L561.7 282.6L557 282.6L552.2 282.6L547.4 282.6L542.6 282.6L537.8 282.6L535.9 282.6L533 286.9L530.3 291.1L528.2 294.7L527.8 295.4L525.5 299.7L523.4 303.7L523.3 304L521.3 308.2L519.5 312.5L518.6 314.8L517.9 316.8L516.4 321.1L515.1 325.3L514 329.6L513.8 330.2L513 333.9L512.3 338.2L511.7 342.4L511.2 346.7L511 351L511 355.2L511.1 359.5L511.5 363.8L512 368.1L512.8 372.3L513.8 376.6L513.8 376.7L515.2 380.9L516.8 385.2L518.6 389.4L520.9 393.7L523.4 397.7L523.6 398L526.8 402.3L528.2 404L530.6 406.5L533 408.9L535.1 410.8L537.8 413L540.7 415.1L542.6 416.4L547.4 419.2L547.7 419.4L552.2 421.4L557 423.3L557.9 423.6Z" fill="#b90000"/>
<path d="M561.1 419.4L561.7 419.6L566.5 420.9L571.3 421.9L576.1 422.6L580.9 423L585.7 423.2L590.5 423L595.3 422.7L600.1 422.1L604.9 421.3L609.6 420.3L613.2 419.4L614.4 419L619.2 417.6L624 415.9L626.1 415.1L628.8 414L633.6 411.9L635.9 410.8L638.4 409.6L643.2 407.1L644.1 406.5L648 404.3L651.3 402.3L652.8 401.3L657.5 398.1L657.7 398L662.3 394.6L663.5 393.7L667.1 390.9L668.9 389.4L671.9 386.9L673.8 385.2L676.7 382.5L676.7 380.9L676.7 376.6L676.7 372.3L676.7 368.1L676.7 363.8L676.7 359.5L676.7 355.2L676.7 351L676.7 346.7L676.7 342.4L676.7 338.2L676.7 333.9L676.7 329.6L676.7 325.3L676.7 321.1L676.7 316.8L676.7 312.5L676.7 308.2L676.7 304L676.7 299.7L676.7 295.4L676.7 291.1L676.7 286.9L676.7 282.6L671.9 282.6L667.1 282.6L662.3 282.6L657.5 282.6L652.8 282.6L648 282.6L643.2 282.6L638.4 282.6L633.6 282.6L628.8 282.6L624 282.6L619.2 282.6L614.4 282.6L609.6 282.6L604.9 282.6L600.1 282.6L595.3 282.6L590.5 282.6L585.7 282.6L580.9 282.6L576.1 282.6L571.3 282.6L566.5 282.6L561.7 282.6L557 282.6L552.2 282.6L547.4 282.6L542.6 282.6L540.3 282.6L537.8 286.2L537.4 286.9L534.6 291.1L533 293.9L532.1 295.4L529.7 299.7L528.2 302.7L527.6 304L525.6 308.2L523.8 312.5L523.4 313.4L522.2 316.8L520.7 321.1L519.5 325.3L518.6 328.5L518.3 329.6L517.4 333.9L516.7 338.2L516.2 342.4L515.8 346.7L515.6 351L515.7 355.2L515.9 359.5L516.3 363.8L517 368.1L517.9 372.3L518.6 374.9L519.1 376.6L520.6 380.9L522.4 385.2L523.4 387.2L524.6 389.4L527.2 393.7L528.2 395.2L530.3 398L533 401.2L533.9 402.3L537.8 406L538.4 406.5L542.6 409.9L543.9 410.8L547.4 413.1L551 415.1L552.2 415.7L557 417.8L561.1 419.4Z" fill="#b30000"/>
<path d="M565 415.1L566.5 415.6L571.3 416.7L576.1 417.6L580.9 418.1L585.7 418.4L590.5 418.4L595.3 418.1L600.1 417.6L604.9 416.9L609.6 415.9L612.9 415.1L614.4 414.7L619.2 413.3L624 411.6L626.1 410.8L628.8 409.8L633.6 407.7L636 406.5L638.4 405.3L643.2 402.8L644.1 402.3L648 400L651.2 398L652.8 397L657.5 393.8L657.6 393.7L662.3 390.2L663.3 389.4L667.1 386.4L668.6 385.2L671.9 382.3L673.5 380.9L676.7 377.9L676.7 376.6L676.7 372.3L676.7 368.1L676.7 363.8L676.7 359.5L676.7 355.2L676.7 351L676.7 346.7L676.7 342.4L676.7 338.2L676.7 333.9L676.7 329.6L676.7 325.3L676.7 321.1L676.7 316.8L676.7 312.5L676.7 308.2L676.7 304L676.7 299.7L676.7 295.4L676.7 291.1L676.7 286.9L676.7 282.6L671.9 282.6L667.1 282.6L662.3 282.6L657.5 282.6L652.8 282.6L648 282.6L643.2 282.6L638.4 282.6L633.6 282.6L628.8 282.6L624 282.6L619.2 282.6L614.4 282.6L609.6 282.6L604.9 282.6L600.1 282.6L595.3 282.6L590.5 282.6L585.7 282.6L580.9 282.6L576.1 282.6L571.3 282.6L566.5 282.6L561.7 282.6L557 282.6L552.2 282.6L547.4 282.6L544.9 282.6L542.6 285.9L541.9 286.9L539.1 291.1L537.8 293.3L536.5 295.4L534.2 299.7L533 302L532 304L530 308.2L528.2 312.5L526.6 316.8L525.2 321.1L523.9 325.3L523.4 327.3L522.9 329.6L522 333.9L521.3 338.2L520.8 342.4L520.5 346.7L520.4 351L520.5 355.2L520.9 359.5L521.5 363.8L522.3 368.1L523.3 372.3L523.4 372.6L524.7 376.6L526.5 380.9L528.2 384.6L528.5 385.2L531 389.4L533 392.4L534 393.7L537.6 398L537.8 398.2L541.9 402.3L542.6 402.8L547.3 406.5L547.4 406.5L552.2 409.5L554.5 410.8L557 412L561.7 414L565 415.1Z" fill="#ae0000"/>
<path d="M569.6 410.8L571.3 411.3L576.1 412.3L580.9 413L585.7 413.4L590.5 413.5L595.3 413.4L600.1 412.9L604.9 412.3L609.6 411.4L612 410.8L614.4 410.2L619.2 408.8L624 407.2L625.7 406.5L628.8 405.3L633.6 403.3L635.7 402.3L638.4 400.9L643.2 398.4L643.9 398L648 395.6L650.9 393.7L652.8 392.5L657.3 389.4L657.5 389.2L662.3 385.6L662.9 385.2L667.1 381.7L668.1 380.9L671.9 377.5L672.9 376.6L676.7 373L676.7 372.3L676.7 368.1L676.7 363.8L676.7 359.5L676.7 355.2L676.7 351L676.7 346.7L676.7 342.4L676.7 338.2L676.7 333.9L676.7 329.6L676.7 325.3L676.7 321.1L676.7 316.8L676.7 312.5L676.7 308.2L676.7 304L676.7 299.7L676.7 295.4L676.7 291.1L676.7 286.9L676.7 282.6L671.9 282.6L667.1 282.6L662.3 282.6L657.5 282.6L652.8 282.6L648 282.6L643.2 282.6L638.4 282.6L633.6 282.6L628.8 282.6L624 282.6L619.2 282.6L614.4 282.6L609.6 282.6L604.9 282.6L600.1 282.6L595.3 282.6L590.5 282.6L585.7 282.6L580.9 282.6L576.1 282.6L571.3 282.6L566.5 282.6L561.7 282.6L557 282.6L552.2 282.6L549.7 282.6L547.4 285.8L546.6 286.9L543.8 291.1L542.6 293.1L541.2 295.4L538.8 299.7L537.8 301.6L536.6 304L534.6 308.2L533 312L532.8 312.5L531.2 316.8L529.8 321.1L528.6 325.3L528.2 326.8L527.6 329.6L526.7 333.9L526.1 338.2L525.7 342.4L525.5 346.7L525.5 351L525.7 355.2L526.1 359.5L526.8 363.8L527.8 368.1L528.2 369.5L529.1 372.3L530.7 376.6L532.7 380.9L533 381.5L535.1 385.2L537.8 389.2L538 389.4L541.5 393.7L542.6 394.9L545.8 398L547.4 399.3L551.3 402.3L552.2 402.9L557 405.7L558.5 406.5L561.7 408L566.5 409.9L569.6 410.8Z" fill="#a90000"/>
<path d="M575.2 406.5L576.1 406.8L580.9 407.6L585.7 408.2L590.5 408.4L595.3 408.4L600.1 408L604.9 407.5L609.6 406.6L610 406.5L614.4 405.5L619.2 404.1L624 402.6L624.8 402.3L628.8 400.7L633.6 398.7L635 398L638.4 396.3L643.2 393.8L643.3 393.7L648 390.9L650.3 389.4L652.8 387.8L656.6 385.2L657.5 384.5L662.2 380.9L662.3 380.8L667.1 376.8L667.3 376.6L671.9 372.5L672.1 372.3L676.4 368.1L676.7 367.7L676.7 363.8L676.7 359.5L676.7 355.2L676.7 351L676.7 346.7L676.7 342.4L676.7 338.2L676.7 333.9L676.7 329.6L676.7 325.3L676.7 321.1L676.7 316.8L676.7 312.5L676.7 308.2L676.7 304L676.7 299.7L676.7 295.4L676.7 291.1L676.7 286.9L676.7 282.6L671.9 282.6L667.1 282.6L662.3 282.6L657.5 282.6L652.8 282.6L648 282.6L643.2 282.6L638.4 282.6L633.6 282.6L628.8 282.6L624 282.6L619.2 282.6L614.4 282.6L609.6 282.6L604.9 282.6L600.1 282.6L595.3 282.6L590.5 282.6L585.7 282.6L580.9 282.6L576.1 282.6L571.3 282.6L566.5 282.6L561.7 282.6L557 282.6L554.7 282.6L552.2 286L551.5 286.9L548.7 291.1L547.4 293.2L546 295.4L543.6 299.7L542.6 301.6L541.4 304L539.4 308.2L537.8 312L537.6 312.5L536 316.8L534.6 321.1L533.4 325.3L533 327.2L532.5 329.6L531.7 333.9L531.1 338.2L530.8 342.4L530.6 346.7L530.7 351L531.1 355.2L531.7 359.5L532.5 363.8L533 365.6L533.7 368.1L535.2 372.3L537.1 376.6L537.8 378L539.4 380.9L542.3 385.2L542.6 385.6L545.8 389.4L547.4 391.2L550.1 393.7L552.2 395.5L555.6 398L557 398.9L561.7 401.6L563 402.3L566.5 403.8L571.3 405.5L575.2 406.5Z" fill="#a40000"/>
<path d="M583 402.3L585.7 402.7L590.5 403L595.3 403.1L600.1 402.9L604.9 402.4L605.8 402.3L609.6 401.6L614.4 400.6L619.2 399.3L623.2 398L624 397.7L628.8 395.9L633.6 393.8L633.9 393.7L638.4 391.5L642.2 389.4L643.2 388.9L648 386L649.3 385.2L652.8 382.9L655.6 380.9L657.5 379.4L661.2 376.6L662.3 375.7L666.2 372.3L667.1 371.6L670.9 368.1L671.9 367.1L675.1 363.8L676.7 362.1L676.7 359.5L676.7 355.2L676.7 351L676.7 346.7L676.7 342.4L676.7 338.2L676.7 333.9L676.7 329.6L676.7 325.3L676.7 321.1L676.7 316.8L676.7 312.5L676.7 308.2L676.7 304L676.7 299.7L676.7 295.4L676.7 291.1L676.7 286.9L676.7 282.6L671.9 282.6L667.1 282.6L662.3 282.6L657.5 282.6L652.8 282.6L648 282.6L643.2 282.6L638.4 282.6L633.6 282.6L628.8 282.6L624 282.6L619.2 282.6L614.4 282.6L609.6 282.6L604.9 282.6L600.1 282.6L595.3 282.6L590.5 282.6L585.7 282.6L580.9 282.6L576.1 282.6L571.3 282.6L566.5 282.6L561.7 282.6L559.9 282.6L557 286.5L556.7 286.9L553.8 291.1L552.2 293.7L551.1 295.4L548.6 299.7L547.4 302.1L546.4 304L544.4 308.2L542.6 312.5L542.6 312.6L541.1 316.8L539.7 321.1L538.5 325.3L537.8 328.6L537.6 329.6L536.9 333.9L536.4 338.2L536.1 342.4L536.1 346.7L536.3 351L536.8 355.2L537.5 359.5L537.8 360.6L538.6 363.8L540.1 368.1L541.8 372.3L542.6 373.8L544.1 376.6L546.9 380.9L547.4 381.5L550.4 385.2L552.2 387L554.7 389.4L557 391.3L560.4 393.7L561.7 394.6L566.5 397.2L568.3 398L571.3 399.2L576.1 400.8L580.9 401.9L583 402.3Z" fill="#9f0000"/>
<path d="M574.5 393.7L576.1 394.3L580.9 395.7L585.7 396.7L590.5 397.3L595.3 397.5L600.1 397.4L604.9 397L609.6 396.3L614.4 395.4L619.2 394.1L620.5 393.7L624 392.6L628.8 390.8L632 389.4L633.6 388.7L638.4 386.4L640.7 385.2L643.2 383.8L648 380.9L652.8 377.6L654.2 376.6L657.5 374.1L659.7 372.3L662.3 370.2L664.8 368.1L667.1 365.9L669.3 363.8L671.9 361.2L673.5 359.5L676.7 356L676.7 355.2L676.7 351L676.7 346.7L676.7 342.4L676.7 338.2L676.7 333.9L676.7 329.6L676.7 325.3L676.7 321.1L676.7 316.8L676.7 312.5L676.7 308.2L676.7 304L676.7 299.7L676.7 295.4L676.7 291.1L676.7 286.9L676.7 282.6L671.9 282.6L667.1 282.6L662.3 282.6L657.5 282.6L652.8 282.6L648 282.6L643.2 282.6L638.4 282.6L633.6 282.6L628.8 282.6L624 282.6L619.2 282.6L614.4 282.6L609.6 282.6L604.9 282.6L600.1 282.6L595.3 282.6L590.5 282.6L585.7 282.6L580.9 282.6L576.1 282.6L571.3 282.6L566.5 282.6L565.5 282.6L562.2 286.9L561.7 287.5L559.2 291.1L557 294.6L556.4 295.4L554 299.7L552.2 303.1L551.7 304L549.7 308.2L547.9 312.5L547.4 313.9L546.3 316.8L545 321.1L543.9 325.3L543 329.6L542.6 332.3L542.3 333.9L541.9 338.2L541.8 342.4L541.9 346.7L542.2 351L542.6 353.4L542.9 355.2L543.9 359.5L545.2 363.8L546.9 368.1L547.4 369L549.2 372.3L551.9 376.6L552.2 377L555.4 380.9L557 382.5L559.9 385.2L561.7 386.7L565.8 389.4L566.5 389.9L571.3 392.4L574.5 393.7Z" fill="#9a0000"/>
<path d="M582.6 389.4L585.7 390.2L590.5 391.1L595.3 391.5L600.1 391.6L604.9 391.3L609.6 390.7L614.4 389.8L616 389.4L619.2 388.6L624 387.1L628.8 385.4L629.3 385.2L633.6 383.3L638.4 381L638.6 380.9L643.2 378.3L645.9 376.6L648 375.3L652.3 372.3L652.8 372L657.5 368.4L657.9 368.1L662.3 364.3L662.9 363.8L667.1 359.8L667.4 359.5L671.5 355.2L671.9 354.9L675.3 351L676.7 349.3L676.7 346.7L676.7 342.4L676.7 338.2L676.7 333.9L676.7 329.6L676.7 325.3L676.7 321.1L676.7 316.8L676.7 312.5L676.7 308.2L676.7 304L676.7 299.7L676.7 295.4L676.7 291.1L676.7 286.9L676.7 282.6L671.9 282.6L667.1 282.6L662.3 282.6L657.5 282.6L652.8 282.6L648 282.6L643.2 282.6L638.4 282.6L633.6 282.6L628.8 282.6L624 282.6L619.2 282.6L614.4 282.6L609.6 282.6L604.9 282.6L600.1 282.6L595.3 282.6L590.5 282.6L585.7 282.6L580.9 282.6L576.1 282.6L571.5 282.6L571.3 282.8L568.1 286.9L566.5 289L565 291.1L562.2 295.4L561.7 296.1L559.6 299.7L557.3 304L557 304.7L555.3 308.2L553.5 312.5L552.2 316.2L551.9 316.8L550.7 321.1L549.6 325.3L548.8 329.6L548.2 333.9L547.9 338.2L547.8 342.4L548.1 346.7L548.7 351L549.6 355.2L550.8 359.5L552.2 363.1L552.5 363.8L554.7 368.1L557 371.7L557.4 372.3L561 376.6L561.7 377.4L565.6 380.9L566.5 381.6L571.3 384.8L572.1 385.2L576.1 387.1L580.9 389L582.6 389.4Z" fill="#960000"/>
<path d="M598.6 385.2L600.1 385.2L603.7 385.2L604.9 385.1L609.6 384.7L614.4 383.9L619.2 382.7L624 381.3L625.2 380.9L628.8 379.6L633.6 377.5L635.4 376.6L638.4 375.1L643.2 372.4L643.3 372.3L648 369.4L649.8 368.1L652.8 365.9L655.5 363.8L657.5 362.1L660.5 359.5L662.3 357.8L665 355.2L667.1 353.1L669 351L671.9 347.7L672.7 346.7L676.1 342.4L676.7 341.6L676.7 338.2L676.7 333.9L676.7 329.6L676.7 325.3L676.7 321.1L676.7 316.8L676.7 312.5L676.7 308.2L676.7 304L676.7 299.7L676.7 295.4L676.7 291.1L676.7 286.9L676.7 282.6L671.9 282.6L667.1 282.6L662.3 282.6L657.5 282.6L652.8 282.6L648 282.6L643.2 282.6L638.4 282.6L633.6 282.6L628.8 282.6L624 282.6L619.2 282.6L614.4 282.6L609.6 282.6L604.9 282.6L600.1 282.6L595.3 282.6L590.5 282.6L585.7 282.6L580.9 282.6L578.1 282.6L576.1 284.9L574.5 286.9L571.3 291L571.2 291.1L568.3 295.4L566.5 298.3L565.7 299.7L563.4 304L561.7 307.3L561.3 308.2L559.5 312.5L558 316.8L557 320.2L556.7 321.1L555.7 325.3L555 329.6L554.5 333.9L554.3 338.2L554.5 342.4L554.9 346.7L555.7 351L556.8 355.2L557 355.5L558.5 359.5L560.7 363.8L561.7 365.5L563.6 368.1L566.5 371.6L567.3 372.3L571.3 375.9L572.3 376.6L576.1 379L579.8 380.9L580.9 381.4L585.7 383.1L590.5 384.3L595.3 385L598.6 385.2Z" fill="#910000"/>
<path d="M590.4 376.6L590.5 376.6L595.3 377.7L600.1 378.2L604.9 378.3L609.6 378L614.4 377.4L618 376.6L619.2 376.4L624 375L628.8 373.3L630.9 372.3L633.6 371.2L638.4 368.8L639.6 368.1L643.2 366L646.5 363.8L648 362.8L652.4 359.5L652.8 359.3L657.5 355.2L662 351L662.3 350.6L666 346.7L667.1 345.4L669.6 342.4L671.9 339.4L672.8 338.2L675.7 333.9L676.7 332.3L676.7 329.6L676.7 325.3L676.7 321.1L676.7 316.8L676.7 312.5L676.7 308.2L676.7 304L676.7 299.7L676.7 295.4L676.7 291.1L676.7 286.9L676.7 282.6L671.9 282.6L667.1 282.6L662.3 282.6L657.5 282.6L652.8 282.6L648 282.6L643.2 282.6L638.4 282.6L633.6 282.6L628.8 282.6L624 282.6L619.2 282.6L614.4 282.6L609.6 282.6L604.9 282.6L600.1 282.6L595.3 282.6L590.5 282.6L585.7 282.6L585.3 282.6L581.5 286.9L580.9 287.6L578.1 291.1L576.1 293.9L575 295.4L572.3 299.7L571.3 301.4L569.9 304L567.8 308.2L566.5 311.3L566 312.5L564.5 316.8L563.3 321.1L562.4 325.3L561.7 329.3L561.7 329.6L561.4 333.9L561.4 338.2L561.7 342.4L561.7 342.8L562.4 346.7L563.6 351L565.2 355.2L566.5 357.9L567.5 359.5L570.5 363.8L571.3 364.8L574.6 368.1L576.1 369.4L580.4 372.3L580.9 372.7L585.7 375L590.4 376.6Z" fill="#8d0000"/>
<path d="M591.5 368.1L595.3 369.3L600.1 370.3L604.9 370.7L609.6 370.6L614.4 370.1L619.2 369.2L623.6 368.1L624 368L628.8 366.2L633.6 364.2L634.4 363.8L638.4 361.7L642 359.5L643.2 358.8L648 355.5L648.3 355.2L652.8 351.6L653.5 351L657.5 347.3L658.1 346.7L662.1 342.4L662.3 342.2L665.6 338.2L667.1 336.2L668.8 333.9L671.6 329.6L671.9 329L674 325.3L676.1 321.1L676.7 319.7L676.7 316.8L676.7 312.5L676.7 308.2L676.7 304L676.7 299.7L676.7 295.4L676.7 291.1L676.7 286.9L676.7 282.6L671.9 282.6L667.1 282.6L662.3 282.6L657.5 282.6L652.8 282.6L648 282.6L643.2 282.6L638.4 282.6L633.6 282.6L628.8 282.6L624 282.6L619.2 282.6L614.4 282.6L609.6 282.6L604.9 282.6L600.1 282.6L595.3 282.6L593.7 282.6L590.5 285.8L589.5 286.9L585.8 291.1L585.7 291.2L582.6 295.4L580.9 297.8L579.7 299.7L577.2 304L576.1 306.1L575.1 308.2L573.3 312.5L571.7 316.8L571.3 318.3L570.6 321.1L569.8 325.3L569.3 329.6L569.1 333.9L569.4 338.2L570 342.4L571.1 346.7L571.3 347.3L572.8 351L575.2 355.2L576.1 356.5L578.6 359.5L580.9 361.7L583.5 363.8L585.7 365.3L590.5 367.7L591.5 368.1Z" fill="#880000"/>
<path d="M596.2 359.5L600.1 360.8L604.9 361.7L609.6 362.1L614.4 361.8L619.2 361.1L624 359.9L625.2 359.5L628.8 358.3L633.6 356.2L635.3 355.2L638.4 353.6L642.5 351L643.2 350.5L648 346.9L648.2 346.7L652.8 342.7L653 342.4L657.1 338.2L657.5 337.6L660.6 333.9L662.3 331.5L663.6 329.6L666.3 325.3L667.1 323.8L668.5 321.1L670.4 316.8L671.9 312.7L672 312.5L673.1 308.2L673.8 304L674.2 299.7L674.1 295.4L673.6 291.1L672.5 286.9L671.9 285.2L670.7 282.6L667.1 282.6L662.3 282.6L657.5 282.6L652.8 282.6L648 282.6L643.2 282.6L638.4 282.6L633.6 282.6L628.8 282.6L624 282.6L619.2 282.6L614.4 282.6L609.6 282.6L604.9 282.6L603.9 282.6L600.1 285.9L599 286.9L595.3 290.6L594.8 291.1L591.2 295.4L590.5 296.4L588.2 299.7L585.7 303.6L585.5 304L583.3 308.2L581.4 312.5L580.9 314L580 316.8L578.9 321.1L578.2 325.3L578 329.6L578.1 333.9L578.7 338.2L579.9 342.4L580.9 344.8L581.8 346.7L584.7 351L585.7 352.2L588.9 355.2L590.5 356.4L595.3 359.2L596.2 359.5Z" fill="#840000"/>
</g>
<path d="M394.1 282.6H676.7" stroke="#2a1010" stroke-opacity="0.85" stroke-width="0.8" fill="none"/>
<path d="M676.7 282.6V492.0" stroke="#400" stroke-opacity="0.35" stroke-width="1" fill="none"/>
<text transform="translate(394.1 505.9) scale(1.0 1)" font-size="11.0" text-anchor="middle" font-family="Liberation Sans, sans-serif">0,5</text>
<path d="M394.1 282.6v1.6M394.1 492.0v-1.6" stroke="#222" stroke-opacity="0.45" stroke-width="0.8"/>
<text transform="translate(422.4 505.9) scale(1.0 1)" font-size="11.0" text-anchor="middle" font-family="Liberation Sans, sans-serif">1,0</text>
<path d="M422.4 282.6v1.6M422.4 492.0v-1.6" stroke="#222" stroke-opacity="0.45" stroke-width="0.8"/>
<text transform="translate(450.6 505.9) scale(1.0 1)" font-size="11.0" text-anchor="middle" font-family="Liberation Sans, sans-serif">1,5</text>
<path d="M450.6 282.6v1.6M450.6 492.0v-1.6" stroke="#222" stroke-opacity="0.45" stroke-width="0.8"/>
<text transform="translate(478.9 505.9) scale(1.0 1)" font-size="11.0" text-anchor="middle" font-family="Liberation Sans, sans-serif">2,0</text>
<path d="M478.9 282.6v1.6M478.9 492.0v-1.6" stroke="#222" stroke-opacity="0.45" stroke-width="0.8"/>
<text transform="translate(507.1 505.9) scale(1.0 1)" font-size="11.0" text-anchor="middle" font-family="Liberation Sans, sans-serif">2,5</text>
<path d="M507.1 282.6v1.6M507.1 492.0v-1.6" stroke="#222" stroke-opacity="0.45" stroke-width="0.8"/>
<text transform="translate(535.4 505.9) scale(1.0 1)" font-size="11.0" text-anchor="middle" font-family="Liberation Sans, sans-serif">3,0</text>
<path d="M535.4 282.6v1.6M535.4 492.0v-1.6" stroke="#222" stroke-opacity="0.45" stroke-width="0.8"/>
<text transform="translate(563.7 505.9) scale(1.0 1)" font-size="11.0" text-anchor="middle" font-family="Liberation Sans, sans-serif">3,5</text>
<path d="M563.7 282.6v1.6M563.7 492.0v-1.6" stroke="#222" stroke-opacity="0.45" stroke-width="0.8"/>
<text transform="translate(591.9 505.9) scale(1.0 1)" font-size="11.0" text-anchor="middle" font-family="Liberation Sans, sans-serif">4,0</text>
<path d="M591.9 282.6v1.6M591.9 492.0v-1.6" stroke="#222" stroke-opacity="0.45" stroke-width="0.8"/>
<text transform="translate(620.2 505.9) scale(1.0 1)" font-size="11.0" text-anchor="middle" font-family="Liberation Sans, sans-serif">4,5</text>
<path d="M620.2 282.6v1.6M620.2 492.0v-1.6" stroke="#222" stroke-opacity="0.45" stroke-width="0.8"/>
<text transform="translate(648.4 505.9) scale(1.0 1)" font-size="11.0" text-anchor="middle" font-family="Liberation Sans, sans-serif">5,0</text>
<path d="M648.4 282.6v1.6M648.4 492.0v-1.6" stroke="#222" stroke-opacity="0.45" stroke-width="0.8"/>
<text transform="translate(676.7 505.9) scale(1.0 1)" font-size="11.0" text-anchor="middle" font-family="Liberation Sans, sans-serif">5,5</text>
<path d="M676.7 282.6v1.6M676.7 492.0v-1.6" stroke="#222" stroke-opacity="0.45" stroke-width="0.8"/>
<text transform="translate(390.6 496.0) scale(1.0 1)" font-size="11.0" text-anchor="end" font-family="Liberation Sans, sans-serif">0,00</text>
<path d="M676.7 492.0h-1.8" stroke="#222" stroke-opacity="0.7" stroke-width="0.8"/>
<text transform="translate(390.6 475.1) scale(1.0 1)" font-size="11.0" text-anchor="end" font-family="Liberation Sans, sans-serif">0,01</text>
<path d="M676.7 471.1h-1.8" stroke="#222" stroke-opacity="0.7" stroke-width="0.8"/>
<text transform="translate(390.6 454.1) scale(1.0 1)" font-size="11.0" text-anchor="end" font-family="Liberation Sans, sans-serif">0,02</text>
<path d="M676.7 450.1h-1.8" stroke="#222" stroke-opacity="0.7" stroke-width="0.8"/>
<text transform="translate(390.6 433.2) scale(1.0 1)" font-size="11.0" text-anchor="end" font-family="Liberation Sans, sans-serif">0,03</text>
<path d="M676.7 429.2h-1.8" stroke="#222" stroke-opacity="0.7" stroke-width="0.8"/>
<text transform="translate(390.6 412.2) scale(1.0 1)" font-size="11.0" text-anchor="end" font-family="Liberation Sans, sans-serif">0,04</text>
<path d="M676.7 408.2h-1.8" stroke="#222" stroke-opacity="0.7" stroke-width="0.8"/>
<text transform="translate(390.6 391.3) scale(1.0 1)" font-size="11.0" text-anchor="end" font-family="Liberation Sans, sans-serif">0,05</text>
<path d="M676.7 387.3h-1.8" stroke="#222" stroke-opacity="0.7" stroke-width="0.8"/>
<text transform="translate(390.6 370.4) scale(1.0 1)" font-size="11.0" text-anchor="end" font-family="Liberation Sans, sans-serif">0,06</text>
<path d="M676.7 366.4h-1.8" stroke="#222" stroke-opacity="0.7" stroke-width="0.8"/>
<text transform="translate(390.6 349.4) scale(1.0 1)" font-size="11.0" text-anchor="end" font-family="Liberation Sans, sans-serif">0,07</text>
<path d="M676.7 345.4h-1.8" stroke="#222" stroke-opacity="0.7" stroke-width="0.8"/>
<text transform="translate(390.6 328.5) scale(1.0 1)" font-size="11.0" text-anchor="end" font-family="Liberation Sans, sans-serif">0,08</text>
<path d="M676.7 324.5h-1.8" stroke="#222" stroke-opacity="0.7" stroke-width="0.8"/>
<text transform="translate(390.6 307.5) scale(1.0 1)" font-size="11.0" text-anchor="end" font-family="Liberation Sans, sans-serif">0,09</text>
<path d="M676.7 303.5h-1.8" stroke="#222" stroke-opacity="0.7" stroke-width="0.8"/>
<text transform="translate(390.6 286.6) scale(1.0 1)" font-size="11.0" text-anchor="end" font-family="Liberation Sans, sans-serif">0,10</text>
<path d="M676.7 282.6h-1.8" stroke="#222" stroke-opacity="0.7" stroke-width="0.8"/>
<text transform="translate(535.3 523.2) scale(0.94 1)" font-size="12.5" text-anchor="middle" font-family="Liberation Sans, sans-serif">feathers</text>
<text transform="translate(354 387) rotate(-90) scale(1 0.94)" font-size="11.6" text-anchor="middle" font-family="Liberation Sans, sans-serif">MgSO4</text>
<text x="354.6" y="269.5" font-size="14.6" font-weight="bold" font-family="Liberation Sans, sans-serif">d</text>
<circle cx="422.4" cy="303.5" r="2.9" fill="none" stroke="#1010dc" stroke-width="1.25"/>
<circle cx="535.4" cy="303.5" r="2.9" fill="none" stroke="#1010dc" stroke-width="1.25"/>
<circle cx="648.4" cy="303.5" r="2.9" fill="none" stroke="#1010dc" stroke-width="1.25"/>
<circle cx="422.4" cy="387.3" r="2.9" fill="none" stroke="#1010dc" stroke-width="1.25"/>
<circle cx="535.4" cy="387.3" r="2.9" fill="none" stroke="#1010dc" stroke-width="1.25"/>
<circle cx="648.4" cy="387.3" r="2.9" fill="none" stroke="#1010dc" stroke-width="1.25"/>
<circle cx="422.4" cy="471.1" r="2.9" fill="none" stroke="#1010dc" stroke-width="1.25"/>
<circle cx="535.4" cy="471.1" r="2.9" fill="none" stroke="#1010dc" stroke-width="1.25"/>
<circle cx="648.4" cy="471.1" r="2.9" fill="none" stroke="#1010dc" stroke-width="1.25"/>
<rect x="405.8" y="413.8" width="15.8" height="9.3" fill="#800000" stroke="#111" stroke-opacity="0.75" stroke-width="0.8"/>
<text transform="translate(427.1 422.7) scale(0.94 1)" font-size="11.0" font-family="Liberation Sans, sans-serif">&gt; 160</text>
<rect x="405.8" y="426.2" width="15.8" height="9.3" fill="#e00000" stroke="#111" stroke-opacity="0.75" stroke-width="0.8"/>
<text transform="translate(427.1 435.2) scale(0.94 1)" font-size="11.0" font-family="Liberation Sans, sans-serif">&lt; 132</text>
<rect x="405.8" y="438.7" width="15.8" height="9.3" fill="#ff9600" stroke="#111" stroke-opacity="0.75" stroke-width="0.8"/>
<text transform="translate(427.1 447.6) scale(0.94 1)" font-size="11.0" font-family="Liberation Sans, sans-serif">&lt; 92</text>
<rect x="405.8" y="451.1" width="15.8" height="9.3" fill="#d2ff0a" stroke="#111" stroke-opacity="0.75" stroke-width="0.8"/>
<text transform="translate(427.1 460.1) scale(0.94 1)" font-size="11.0" font-family="Liberation Sans, sans-serif">&lt; 52</text>
<rect x="405.8" y="463.6" width="15.8" height="9.3" fill="#0abe1e" stroke="#111" stroke-opacity="0.75" stroke-width="0.8"/>
<text transform="translate(427.1 472.5) scale(0.94 1)" font-size="11.0" font-family="Liberation Sans, sans-serif">&lt; 12</text>
</svg>
</body></html>
